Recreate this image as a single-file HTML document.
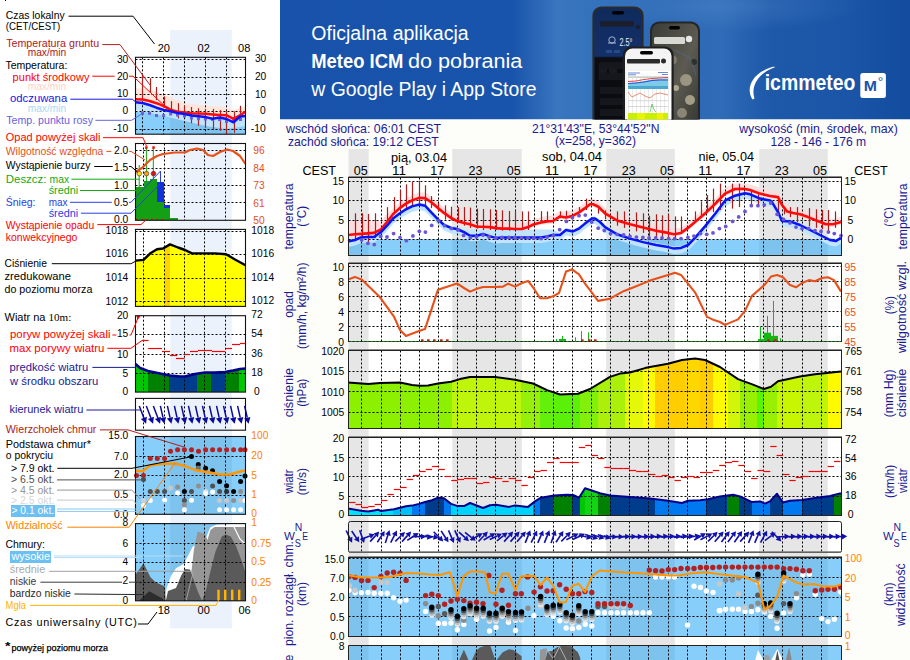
<!DOCTYPE html>
<html><head><meta charset="utf-8"><title>Meteogram</title>
<style>html,body{margin:0;padding:0;background:#fdfdf9;overflow:hidden;}svg{display:block;}</style>
</head><body>
<svg width="910" height="660" viewBox="0 0 910 660">
<rect x="0.00" y="0.00" width="910.00" height="660.00" fill="#fdfdf9"/>
<rect x="0.00" y="0.00" width="280.00" height="660.00" fill="#ffffff"/>
<rect x="170.20" y="30.00" width="61.60" height="598.40" fill="#ecf2fc"/>
<rect x="135.50" y="57.30" width="34.70" height="76.90" fill="#ffffff"/>
<rect x="231.80" y="57.30" width="13.70" height="76.90" fill="#ffffff"/>
<rect x="135.50" y="143.50" width="34.70" height="76.80" fill="#ffffff"/>
<rect x="231.80" y="143.50" width="13.70" height="76.80" fill="#ffffff"/>
<rect x="135.50" y="229.40" width="34.70" height="77.00" fill="#ffffff"/>
<rect x="231.80" y="229.40" width="13.70" height="77.00" fill="#ffffff"/>
<rect x="135.50" y="315.70" width="34.70" height="76.40" fill="#ffffff"/>
<rect x="231.80" y="315.70" width="13.70" height="76.40" fill="#ffffff"/>
<rect x="135.50" y="398.40" width="34.70" height="31.60" fill="#ffffff"/>
<rect x="231.80" y="398.40" width="13.70" height="31.60" fill="#ffffff"/>
<text x="5.8" y="19.0" font-size="11" fill="#000" textLength="58.8" lengthAdjust="spacingAndGlyphs" text-anchor="start" font-family="'Liberation Sans', Arial, sans-serif">Czas lokalny</text>
<text x="6.2" y="46.6" font-size="11" fill="#b02020" textLength="93.0" lengthAdjust="spacingAndGlyphs" text-anchor="start" font-family="'Liberation Sans', Arial, sans-serif">Temperatura gruntu</text>
<text x="27.7" y="56.2" font-size="11" fill="#b02020" textLength="38.5" lengthAdjust="spacingAndGlyphs" text-anchor="start" font-family="'Liberation Sans', Arial, sans-serif">max/min</text>
<text x="5.4" y="68.5" font-size="11" fill="#000" textLength="62.0" lengthAdjust="spacingAndGlyphs" text-anchor="start" font-family="'Liberation Sans', Arial, sans-serif">Temperatura:</text>
<text x="12.6" y="80.5" font-size="11" fill="#ff0000" textLength="76.9" lengthAdjust="spacingAndGlyphs" text-anchor="start" font-family="'Liberation Sans', Arial, sans-serif">punkt środkowy</text>
<text x="27.7" y="90.3" font-size="11" fill="#ffd2c8" textLength="38.5" lengthAdjust="spacingAndGlyphs" text-anchor="start" font-family="'Liberation Sans', Arial, sans-serif">max/min</text>
<text x="10.0" y="102.3" font-size="11" fill="#1414e6" textLength="57.2" lengthAdjust="spacingAndGlyphs" text-anchor="start" font-family="'Liberation Sans', Arial, sans-serif">odczuwana</text>
<text x="27.7" y="112.3" font-size="11" fill="#aad7f5" textLength="38.5" lengthAdjust="spacingAndGlyphs" text-anchor="start" font-family="'Liberation Sans', Arial, sans-serif">max/min</text>
<text x="6.2" y="123.9" font-size="11" fill="#6464dc" textLength="86.8" lengthAdjust="spacingAndGlyphs" text-anchor="start" font-family="'Liberation Sans', Arial, sans-serif">Temp. punktu rosy</text>
<text x="5.8" y="141.3" font-size="11" fill="#ff0000" textLength="94.6" lengthAdjust="spacingAndGlyphs" text-anchor="start" font-family="'Liberation Sans', Arial, sans-serif">Opad powyżej skali</text>
<text x="5.8" y="154.9" font-size="11" fill="#e6501a" textLength="97.5" lengthAdjust="spacingAndGlyphs" text-anchor="start" font-family="'Liberation Sans', Arial, sans-serif">Wilgotność względna</text>
<text x="5.8" y="169.4" font-size="11" fill="#000" textLength="84.7" lengthAdjust="spacingAndGlyphs" text-anchor="start" font-family="'Liberation Sans', Arial, sans-serif">Wystąpienie burzy</text>
<text x="5.8" y="183.1" font-size="11" fill="#14aa14" textLength="40.6" lengthAdjust="spacingAndGlyphs" text-anchor="start" font-family="'Liberation Sans', Arial, sans-serif">Deszcz:</text>
<text x="49.5" y="183.1" font-size="11" fill="#14aa14" textLength="19.6" lengthAdjust="spacingAndGlyphs" text-anchor="start" font-family="'Liberation Sans', Arial, sans-serif">max</text>
<text x="48.7" y="194.0" font-size="11" fill="#14aa14" textLength="29.5" lengthAdjust="spacingAndGlyphs" text-anchor="start" font-family="'Liberation Sans', Arial, sans-serif">średni</text>
<text x="5.8" y="205.8" font-size="11" fill="#2840e6" textLength="29.7" lengthAdjust="spacingAndGlyphs" text-anchor="start" font-family="'Liberation Sans', Arial, sans-serif">Śnieg:</text>
<text x="48.7" y="205.8" font-size="11" fill="#2840e6" textLength="18.9" lengthAdjust="spacingAndGlyphs" text-anchor="start" font-family="'Liberation Sans', Arial, sans-serif">max</text>
<text x="48.7" y="216.7" font-size="11" fill="#2840e6" textLength="29.5" lengthAdjust="spacingAndGlyphs" text-anchor="start" font-family="'Liberation Sans', Arial, sans-serif">średni</text>
<text x="5.8" y="228.5" font-size="11" fill="#ff0000" textLength="88.4" lengthAdjust="spacingAndGlyphs" text-anchor="start" font-family="'Liberation Sans', Arial, sans-serif">Wystąpienie opadu</text>
<text x="5.8" y="241.3" font-size="11" fill="#ff0000" textLength="71.5" lengthAdjust="spacingAndGlyphs" text-anchor="start" font-family="'Liberation Sans', Arial, sans-serif">konwekcyjnego</text>
<text x="4.5" y="267.3" font-size="11" fill="#000" textLength="42.4" lengthAdjust="spacingAndGlyphs" text-anchor="start" font-family="'Liberation Sans', Arial, sans-serif">Ciśnienie</text>
<text x="4.5" y="280.0" font-size="11" fill="#000" textLength="66.4" lengthAdjust="spacingAndGlyphs" text-anchor="start" font-family="'Liberation Sans', Arial, sans-serif">zredukowane</text>
<text x="4.5" y="292.7" font-size="11" fill="#000" textLength="87.9" lengthAdjust="spacingAndGlyphs" text-anchor="start" font-family="'Liberation Sans', Arial, sans-serif">do poziomu morza</text>
<text x="10.0" y="338.2" font-size="11" fill="#ff0000" textLength="100.5" lengthAdjust="spacingAndGlyphs" text-anchor="start" font-family="'Liberation Sans', Arial, sans-serif">poryw powyżej skali</text>
<text x="9.5" y="352.2" font-size="11" fill="#ff0000" textLength="95.0" lengthAdjust="spacingAndGlyphs" text-anchor="start" font-family="'Liberation Sans', Arial, sans-serif">max porywy wiatru</text>
<text x="9.5" y="371.3" font-size="11" fill="#1a1a96" textLength="78.7" lengthAdjust="spacingAndGlyphs" text-anchor="start" font-family="'Liberation Sans', Arial, sans-serif">prędkość wiatru</text>
<text x="10.0" y="385.3" font-size="11" fill="#1a1a96" textLength="88.2" lengthAdjust="spacingAndGlyphs" text-anchor="start" font-family="'Liberation Sans', Arial, sans-serif">w środku obszaru</text>
<text x="9.5" y="413.1" font-size="11" fill="#1a1a96" textLength="73.8" lengthAdjust="spacingAndGlyphs" text-anchor="start" font-family="'Liberation Sans', Arial, sans-serif">kierunek wiatru</text>
<text x="5.8" y="433.1" font-size="11" fill="#b02020" textLength="90.6" lengthAdjust="spacingAndGlyphs" text-anchor="start" font-family="'Liberation Sans', Arial, sans-serif">Wierzchołek chmur</text>
<text x="5.8" y="448.0" font-size="11" fill="#000" textLength="85.1" lengthAdjust="spacingAndGlyphs" text-anchor="start" font-family="'Liberation Sans', Arial, sans-serif">Podstawa chmur*</text>
<text x="5.8" y="459.4" font-size="11" fill="#000" textLength="47.3" lengthAdjust="spacingAndGlyphs" text-anchor="start" font-family="'Liberation Sans', Arial, sans-serif">o pokryciu</text>
<text x="10.9" y="472.2" font-size="11" fill="#000" textLength="43.6" lengthAdjust="spacingAndGlyphs" text-anchor="start" font-family="'Liberation Sans', Arial, sans-serif">&gt; 7.9 okt.</text>
<text x="10.9" y="483.1" font-size="11" fill="#505050" textLength="43.6" lengthAdjust="spacingAndGlyphs" text-anchor="start" font-family="'Liberation Sans', Arial, sans-serif">&gt; 6.5 okt.</text>
<text x="10.9" y="494.0" font-size="11" fill="#969696" textLength="43.6" lengthAdjust="spacingAndGlyphs" text-anchor="start" font-family="'Liberation Sans', Arial, sans-serif">&gt; 4.5 okt.</text>
<text x="10.9" y="504.0" font-size="11" fill="#d7d7d7" textLength="43.6" lengthAdjust="spacingAndGlyphs" text-anchor="start" font-family="'Liberation Sans', Arial, sans-serif">&gt; 2.5 okt.</text>
<text x="5.8" y="529.4" font-size="11" fill="#ff8200" textLength="56.9" lengthAdjust="spacingAndGlyphs" text-anchor="start" font-family="'Liberation Sans', Arial, sans-serif">Widzialność</text>
<text x="5.5" y="547.5" font-size="11" fill="#000" textLength="39.4" lengthAdjust="spacingAndGlyphs" text-anchor="start" font-family="'Liberation Sans', Arial, sans-serif">Chmury:</text>
<text x="9.8" y="573.1" font-size="11" fill="#aaaaaa" textLength="35.5" lengthAdjust="spacingAndGlyphs" text-anchor="start" font-family="'Liberation Sans', Arial, sans-serif">średnie</text>
<text x="9.8" y="584.9" font-size="11" fill="#3c3c3c" textLength="26.6" lengthAdjust="spacingAndGlyphs" text-anchor="start" font-family="'Liberation Sans', Arial, sans-serif">niskie</text>
<text x="9.8" y="596.8" font-size="11" fill="#282828" textLength="61.1" lengthAdjust="spacingAndGlyphs" text-anchor="start" font-family="'Liberation Sans', Arial, sans-serif">bardzo niskie</text>
<text x="5.5" y="609.1" font-size="11" fill="#ffb400" textLength="20.5" lengthAdjust="spacingAndGlyphs" text-anchor="start" font-family="'Liberation Sans', Arial, sans-serif">Mgła</text>
<text x="5.8" y="30" font-size="10.6" fill="#000" textLength="54.5" lengthAdjust="spacingAndGlyphs" font-family="'Liberation Sans', Arial, sans-serif">(CET/CEST)</text>
<rect x="5.00" y="0.00" width="1.00" height="1.00" fill="#000"/>
<text x="4.5" y="321.4" font-size="11" fill="#000" font-family="'Liberation Sans', Arial, sans-serif"><tspan textLength="41" lengthAdjust="spacingAndGlyphs">Wiatr na</tspan><tspan x="48.5" font-family="'Liberation Serif', serif" textLength="22.8" lengthAdjust="spacingAndGlyphs">10m:</tspan></text>
<rect x="11.00" y="505.00" width="44.00" height="12.00" fill="#6cc0f2"/>
<text x="11.5" y="514.1" font-size="11" fill="#fff" textLength="42.6" lengthAdjust="spacingAndGlyphs" text-anchor="start" font-family="'Liberation Sans', Arial, sans-serif">&gt; 0.1 okt.</text>
<rect x="10.00" y="551.00" width="41.00" height="12.00" fill="#6cc0f2"/>
<text x="11.5" y="559.5" font-size="11" fill="#fff" textLength="38.5" lengthAdjust="spacingAndGlyphs" text-anchor="start" font-family="'Liberation Sans', Arial, sans-serif">wysokie</text>
<text x="5.5" y="625.5" font-size="10.8" fill="#000" textLength="131.3" lengthAdjust="spacing" font-family="'Liberation Sans', Arial, sans-serif">Czas uniwersalny (UTC)</text>
<text x="4.9" y="650.0" font-size="10" fill="#000" textLength="5.5" lengthAdjust="spacingAndGlyphs" font-weight="bold" text-anchor="start" font-family="'Liberation Sans', Arial, sans-serif">*</text>
<text x="11.5" y="650.5" font-size="9.6" fill="#000" textLength="96.5" lengthAdjust="spacingAndGlyphs" text-anchor="start" font-family="'Liberation Sans', Arial, sans-serif" stroke="#000" stroke-width="0.25">powyżej poziomu morza</text>
<text x="116.9" y="62.5" font-size="11" fill="#000" textLength="11.4" lengthAdjust="spacingAndGlyphs" text-anchor="start" font-family="'Liberation Sans', Arial, sans-serif">30</text>
<text x="116.9" y="80.3" font-size="11" fill="#000" textLength="11.4" lengthAdjust="spacingAndGlyphs" text-anchor="start" font-family="'Liberation Sans', Arial, sans-serif">20</text>
<text x="116.9" y="97.2" font-size="11" fill="#000" textLength="11.4" lengthAdjust="spacingAndGlyphs" text-anchor="start" font-family="'Liberation Sans', Arial, sans-serif">10</text>
<text x="122.6" y="114.2" font-size="11" fill="#000" textLength="5.7" lengthAdjust="spacingAndGlyphs" text-anchor="start" font-family="'Liberation Sans', Arial, sans-serif">0</text>
<text x="113.3" y="132.3" font-size="11" fill="#000" textLength="15.0" lengthAdjust="spacingAndGlyphs" text-anchor="start" font-family="'Liberation Sans', Arial, sans-serif">-10</text>
<text x="114.0" y="154.1" font-size="11" fill="#000" textLength="14.3" lengthAdjust="spacingAndGlyphs" text-anchor="start" font-family="'Liberation Sans', Arial, sans-serif">2.0</text>
<text x="114.0" y="171.4" font-size="11" fill="#000" textLength="14.3" lengthAdjust="spacingAndGlyphs" text-anchor="start" font-family="'Liberation Sans', Arial, sans-serif">1.5</text>
<text x="114.0" y="188.6" font-size="11" fill="#000" textLength="14.3" lengthAdjust="spacingAndGlyphs" text-anchor="start" font-family="'Liberation Sans', Arial, sans-serif">1.0</text>
<text x="114.0" y="205.9" font-size="11" fill="#000" textLength="14.3" lengthAdjust="spacingAndGlyphs" text-anchor="start" font-family="'Liberation Sans', Arial, sans-serif">0.5</text>
<text x="114.0" y="223.2" font-size="11" fill="#000" textLength="14.3" lengthAdjust="spacingAndGlyphs" text-anchor="start" font-family="'Liberation Sans', Arial, sans-serif">0.0</text>
<text x="105.5" y="233.9" font-size="11" fill="#000" textLength="22.8" lengthAdjust="spacingAndGlyphs" text-anchor="start" font-family="'Liberation Sans', Arial, sans-serif">1018</text>
<text x="105.5" y="257.4" font-size="11" fill="#000" textLength="22.8" lengthAdjust="spacingAndGlyphs" text-anchor="start" font-family="'Liberation Sans', Arial, sans-serif">1016</text>
<text x="105.5" y="281.4" font-size="11" fill="#000" textLength="22.8" lengthAdjust="spacingAndGlyphs" text-anchor="start" font-family="'Liberation Sans', Arial, sans-serif">1014</text>
<text x="105.5" y="304.6" font-size="11" fill="#000" textLength="22.8" lengthAdjust="spacingAndGlyphs" text-anchor="start" font-family="'Liberation Sans', Arial, sans-serif">1012</text>
<text x="116.9" y="318.6" font-size="11" fill="#000" textLength="11.4" lengthAdjust="spacingAndGlyphs" text-anchor="start" font-family="'Liberation Sans', Arial, sans-serif">20</text>
<text x="116.9" y="337.4" font-size="11" fill="#000" textLength="11.4" lengthAdjust="spacingAndGlyphs" text-anchor="start" font-family="'Liberation Sans', Arial, sans-serif">15</text>
<text x="116.9" y="357.7" font-size="11" fill="#000" textLength="11.4" lengthAdjust="spacingAndGlyphs" text-anchor="start" font-family="'Liberation Sans', Arial, sans-serif">10</text>
<text x="122.6" y="376.5" font-size="11" fill="#000" textLength="5.7" lengthAdjust="spacingAndGlyphs" text-anchor="start" font-family="'Liberation Sans', Arial, sans-serif">5</text>
<text x="122.6" y="395.0" font-size="11" fill="#000" textLength="5.7" lengthAdjust="spacingAndGlyphs" text-anchor="start" font-family="'Liberation Sans', Arial, sans-serif">0</text>
<text x="108.3" y="439.2" font-size="11" fill="#000" textLength="20.0" lengthAdjust="spacingAndGlyphs" text-anchor="start" font-family="'Liberation Sans', Arial, sans-serif">15.0</text>
<text x="114.0" y="459.5" font-size="11" fill="#000" textLength="14.3" lengthAdjust="spacingAndGlyphs" text-anchor="start" font-family="'Liberation Sans', Arial, sans-serif">7.0</text>
<text x="114.0" y="478.3" font-size="11" fill="#000" textLength="14.3" lengthAdjust="spacingAndGlyphs" text-anchor="start" font-family="'Liberation Sans', Arial, sans-serif">2.0</text>
<text x="114.0" y="497.7" font-size="11" fill="#000" textLength="14.3" lengthAdjust="spacingAndGlyphs" text-anchor="start" font-family="'Liberation Sans', Arial, sans-serif">0.5</text>
<text x="114.0" y="517.7" font-size="11" fill="#000" textLength="14.3" lengthAdjust="spacingAndGlyphs" text-anchor="start" font-family="'Liberation Sans', Arial, sans-serif">0.0</text>
<text x="122.6" y="525.9" font-size="11" fill="#000" textLength="5.7" lengthAdjust="spacingAndGlyphs" text-anchor="start" font-family="'Liberation Sans', Arial, sans-serif">8</text>
<text x="122.6" y="546.7" font-size="11" fill="#000" textLength="5.7" lengthAdjust="spacingAndGlyphs" text-anchor="start" font-family="'Liberation Sans', Arial, sans-serif">6</text>
<text x="122.6" y="565.4" font-size="11" fill="#000" textLength="5.7" lengthAdjust="spacingAndGlyphs" text-anchor="start" font-family="'Liberation Sans', Arial, sans-serif">4</text>
<text x="122.6" y="584.1" font-size="11" fill="#000" textLength="5.7" lengthAdjust="spacingAndGlyphs" text-anchor="start" font-family="'Liberation Sans', Arial, sans-serif">2</text>
<text x="122.6" y="604.4" font-size="11" fill="#000" textLength="5.7" lengthAdjust="spacingAndGlyphs" text-anchor="start" font-family="'Liberation Sans', Arial, sans-serif">0</text>
<text x="254.9" y="62.2" font-size="11" fill="#000" textLength="11.4" lengthAdjust="spacingAndGlyphs" text-anchor="start" font-family="'Liberation Sans', Arial, sans-serif">30</text>
<text x="254.9" y="80.3" font-size="11" fill="#000" textLength="11.4" lengthAdjust="spacingAndGlyphs" text-anchor="start" font-family="'Liberation Sans', Arial, sans-serif">20</text>
<text x="254.9" y="97.6" font-size="11" fill="#000" textLength="11.4" lengthAdjust="spacingAndGlyphs" text-anchor="start" font-family="'Liberation Sans', Arial, sans-serif">10</text>
<text x="259.9" y="114.4" font-size="11" fill="#000" textLength="5.7" lengthAdjust="spacingAndGlyphs" text-anchor="start" font-family="'Liberation Sans', Arial, sans-serif">0</text>
<text x="250.8" y="132.2" font-size="11" fill="#000" textLength="15.0" lengthAdjust="spacingAndGlyphs" text-anchor="start" font-family="'Liberation Sans', Arial, sans-serif">-10</text>
<text x="253.3" y="153.9" font-size="11" fill="#e6501a" textLength="11.4" lengthAdjust="spacingAndGlyphs" text-anchor="start" font-family="'Liberation Sans', Arial, sans-serif">96</text>
<text x="253.3" y="171.5" font-size="11" fill="#e6501a" textLength="11.4" lengthAdjust="spacingAndGlyphs" text-anchor="start" font-family="'Liberation Sans', Arial, sans-serif">84</text>
<text x="253.3" y="189.0" font-size="11" fill="#e6501a" textLength="11.4" lengthAdjust="spacingAndGlyphs" text-anchor="start" font-family="'Liberation Sans', Arial, sans-serif">73</text>
<text x="253.3" y="206.6" font-size="11" fill="#e6501a" textLength="11.4" lengthAdjust="spacingAndGlyphs" text-anchor="start" font-family="'Liberation Sans', Arial, sans-serif">61</text>
<text x="253.3" y="224.0" font-size="11" fill="#e6501a" textLength="11.4" lengthAdjust="spacingAndGlyphs" text-anchor="start" font-family="'Liberation Sans', Arial, sans-serif">50</text>
<text x="251.3" y="234.4" font-size="11" fill="#000" textLength="22.8" lengthAdjust="spacingAndGlyphs" text-anchor="start" font-family="'Liberation Sans', Arial, sans-serif">1018</text>
<text x="251.3" y="257.4" font-size="11" fill="#000" textLength="22.8" lengthAdjust="spacingAndGlyphs" text-anchor="start" font-family="'Liberation Sans', Arial, sans-serif">1016</text>
<text x="251.3" y="281.3" font-size="11" fill="#000" textLength="22.8" lengthAdjust="spacingAndGlyphs" text-anchor="start" font-family="'Liberation Sans', Arial, sans-serif">1014</text>
<text x="251.3" y="304.4" font-size="11" fill="#000" textLength="22.8" lengthAdjust="spacingAndGlyphs" text-anchor="start" font-family="'Liberation Sans', Arial, sans-serif">1012</text>
<text x="251.3" y="318.2" font-size="11" fill="#000" textLength="11.4" lengthAdjust="spacingAndGlyphs" text-anchor="start" font-family="'Liberation Sans', Arial, sans-serif">72</text>
<text x="251.3" y="337.2" font-size="11" fill="#000" textLength="11.4" lengthAdjust="spacingAndGlyphs" text-anchor="start" font-family="'Liberation Sans', Arial, sans-serif">54</text>
<text x="251.3" y="357.0" font-size="11" fill="#000" textLength="11.4" lengthAdjust="spacingAndGlyphs" text-anchor="start" font-family="'Liberation Sans', Arial, sans-serif">36</text>
<text x="251.3" y="375.9" font-size="11" fill="#000" textLength="11.4" lengthAdjust="spacingAndGlyphs" text-anchor="start" font-family="'Liberation Sans', Arial, sans-serif">18</text>
<text x="254.0" y="394.9" font-size="11" fill="#000" textLength="5.7" lengthAdjust="spacingAndGlyphs" text-anchor="start" font-family="'Liberation Sans', Arial, sans-serif">0</text>
<text x="251.3" y="439.4" font-size="11" fill="#ff8200" textLength="17.1" lengthAdjust="spacingAndGlyphs" text-anchor="start" font-family="'Liberation Sans', Arial, sans-serif">100</text>
<text x="251.3" y="459.2" font-size="11" fill="#ff8200" textLength="11.4" lengthAdjust="spacingAndGlyphs" text-anchor="start" font-family="'Liberation Sans', Arial, sans-serif">20</text>
<text x="251.3" y="478.7" font-size="11" fill="#ff8200" textLength="5.7" lengthAdjust="spacingAndGlyphs" text-anchor="start" font-family="'Liberation Sans', Arial, sans-serif">5</text>
<text x="251.3" y="498.1" font-size="11" fill="#ff8200" textLength="5.7" lengthAdjust="spacingAndGlyphs" text-anchor="start" font-family="'Liberation Sans', Arial, sans-serif">1</text>
<text x="251.3" y="517.0" font-size="11" fill="#ff8200" textLength="5.7" lengthAdjust="spacingAndGlyphs" text-anchor="start" font-family="'Liberation Sans', Arial, sans-serif">0</text>
<text x="251.3" y="526.2" font-size="11" fill="#ff8200" textLength="5.7" lengthAdjust="spacingAndGlyphs" text-anchor="start" font-family="'Liberation Sans', Arial, sans-serif">1</text>
<text x="251.3" y="546.8" font-size="11" fill="#ff8200" textLength="20.0" lengthAdjust="spacingAndGlyphs" text-anchor="start" font-family="'Liberation Sans', Arial, sans-serif">0.75</text>
<text x="251.3" y="564.9" font-size="11" fill="#ff8200" textLength="14.3" lengthAdjust="spacingAndGlyphs" text-anchor="start" font-family="'Liberation Sans', Arial, sans-serif">0.5</text>
<text x="251.3" y="585.5" font-size="11" fill="#ff8200" textLength="20.0" lengthAdjust="spacingAndGlyphs" text-anchor="start" font-family="'Liberation Sans', Arial, sans-serif">0.25</text>
<text x="251.3" y="604.2" font-size="11" fill="#ff8200" textLength="5.7" lengthAdjust="spacingAndGlyphs" text-anchor="start" font-family="'Liberation Sans', Arial, sans-serif">0</text>
<text x="157.7" y="51.5" font-size="11.6" fill="#000" textLength="12.3" lengthAdjust="spacingAndGlyphs" text-anchor="start" font-family="'Liberation Sans', Arial, sans-serif">20</text>
<text x="197.6" y="51.5" font-size="11.6" fill="#000" textLength="12.3" lengthAdjust="spacingAndGlyphs" text-anchor="start" font-family="'Liberation Sans', Arial, sans-serif">02</text>
<text x="238.1" y="51.5" font-size="11.6" fill="#000" textLength="12.3" lengthAdjust="spacingAndGlyphs" text-anchor="start" font-family="'Liberation Sans', Arial, sans-serif">08</text>
<text x="157.7" y="614.4" font-size="11.6" fill="#000" textLength="12.3" lengthAdjust="spacingAndGlyphs" text-anchor="start" font-family="'Liberation Sans', Arial, sans-serif">18</text>
<text x="197.6" y="614.4" font-size="11.6" fill="#000" textLength="12.3" lengthAdjust="spacingAndGlyphs" text-anchor="start" font-family="'Liberation Sans', Arial, sans-serif">00</text>
<text x="238.4" y="614.4" font-size="11.6" fill="#000" textLength="12.3" lengthAdjust="spacingAndGlyphs" text-anchor="start" font-family="'Liberation Sans', Arial, sans-serif">06</text>
<rect x="135.50" y="111.60" width="110.00" height="22.60" fill="#87cefa"/>
<rect x="170.2" y="111.6" width="61.6" height="22.599999999999994" fill="#7ec2ee"/>
<polygon points="135.5,88.2 149.5,89.0 163.8,94.6 184.8,103.0 205.7,105.5 226.7,107.0 233.5,110.0 245.5,106.0 245.5,115.8 240.0,119.3 233.5,122.8 226.7,119.3 219.5,118.9 212.5,118.4 205.7,117.8 198.5,117.5 191.5,117.3 184.8,116.5 177.5,115.8 170.5,113.6 163.8,110.2 156.5,107.2 149.5,105.0 142.5,103.5 135.5,103.2" fill="#ffe6dc"/>
<polygon points="135.5,101.3 142.5,102.0 149.5,104.0 156.5,106.7 163.8,109.0 170.5,110.3 177.5,112.1 184.8,113.0 191.5,114.5 198.5,115.3 205.7,116.1 212.5,117.7 219.5,116.5 226.7,118.0 233.5,121.3 240.0,115.5 245.5,115.0 245.5,126.0 226.7,129.0 205.7,126.0 184.8,121.0 163.8,116.0 135.5,110.0" fill="#bfe4fb"/>
<line x1="135.5" y1="59.5" x2="245.5" y2="59.5" stroke="#000" stroke-width="1" stroke-dasharray="2,2"/>
<line x1="135.5" y1="77.5" x2="245.5" y2="77.5" stroke="#000" stroke-width="1" stroke-dasharray="2,2"/>
<line x1="135.5" y1="94.5" x2="245.5" y2="94.5" stroke="#000" stroke-width="1" stroke-dasharray="2,2"/>
<line x1="135.5" y1="111.5" x2="245.5" y2="111.5" stroke="#000" stroke-width="1" stroke-dasharray="2,2"/>
<line x1="135.5" y1="129.5" x2="245.5" y2="129.5" stroke="#000" stroke-width="1" stroke-dasharray="2,2"/>
<line x1="142.5" y1="57.3" x2="142.5" y2="134.2" stroke="#000" stroke-width="1" stroke-dasharray="2,2"/>
<line x1="163.5" y1="57.3" x2="163.5" y2="134.2" stroke="#000" stroke-width="1" stroke-dasharray="2,2"/>
<line x1="184.5" y1="57.3" x2="184.5" y2="134.2" stroke="#000" stroke-width="1" stroke-dasharray="2,2"/>
<line x1="205.5" y1="57.3" x2="205.5" y2="134.2" stroke="#000" stroke-width="1" stroke-dasharray="2,2"/>
<line x1="226.5" y1="57.3" x2="226.5" y2="134.2" stroke="#000" stroke-width="1" stroke-dasharray="2,2"/>
<line x1="142.50" y1="73.80" x2="142.50" y2="98.90" stroke="#b02020" stroke-width="1.2"/>
<line x1="150.50" y1="78.20" x2="150.50" y2="92.60" stroke="#b02020" stroke-width="1.2"/>
<line x1="156.50" y1="87.00" x2="156.50" y2="100.10" stroke="#b02020" stroke-width="1.2"/>
<line x1="164.50" y1="96.40" x2="164.50" y2="107.60" stroke="#b02020" stroke-width="1.2"/>
<line x1="171.50" y1="101.10" x2="171.50" y2="114.50" stroke="#b02020" stroke-width="1.2"/>
<line x1="178.50" y1="103.20" x2="178.50" y2="118.30" stroke="#b02020" stroke-width="1.2"/>
<line x1="184.50" y1="105.80" x2="184.50" y2="116.40" stroke="#b02020" stroke-width="1.2"/>
<line x1="191.50" y1="107.00" x2="191.50" y2="123.30" stroke="#b02020" stroke-width="1.2"/>
<line x1="198.50" y1="108.30" x2="198.50" y2="125.80" stroke="#b02020" stroke-width="1.2"/>
<line x1="205.50" y1="108.90" x2="205.50" y2="127.70" stroke="#b02020" stroke-width="1.2"/>
<line x1="213.50" y1="108.90" x2="213.50" y2="130.20" stroke="#b02020" stroke-width="1.2"/>
<line x1="220.50" y1="110.10" x2="220.50" y2="130.80" stroke="#b02020" stroke-width="1.2"/>
<line x1="226.50" y1="111.40" x2="226.50" y2="134.00" stroke="#b02020" stroke-width="1.2"/>
<line x1="234.50" y1="111.40" x2="234.50" y2="132.70" stroke="#b02020" stroke-width="1.2"/>
<line x1="240.50" y1="105.80" x2="240.50" y2="120.80" stroke="#b02020" stroke-width="1.2"/>
<rect x="141.00" y="111.80" width="3.00" height="3.00" fill="#7060d8"/>
<rect x="148.00" y="111.80" width="3.00" height="3.00" fill="#7060d8"/>
<rect x="155.00" y="114.00" width="3.00" height="3.00" fill="#7060d8"/>
<rect x="162.10" y="114.00" width="3.00" height="3.00" fill="#7060d8"/>
<rect x="169.10" y="112.50" width="3.00" height="3.00" fill="#7060d8"/>
<rect x="176.00" y="113.50" width="3.00" height="3.00" fill="#7060d8"/>
<rect x="183.00" y="114.50" width="3.00" height="3.00" fill="#7060d8"/>
<rect x="189.90" y="116.50" width="3.00" height="3.00" fill="#7060d8"/>
<rect x="197.00" y="117.20" width="3.00" height="3.00" fill="#7060d8"/>
<rect x="203.90" y="117.50" width="3.00" height="3.00" fill="#7060d8"/>
<rect x="211.10" y="118.00" width="3.00" height="3.00" fill="#7060d8"/>
<rect x="218.10" y="118.00" width="3.00" height="3.00" fill="#7060d8"/>
<rect x="225.00" y="120.00" width="3.00" height="3.00" fill="#7060d8"/>
<rect x="232.10" y="119.50" width="3.00" height="3.00" fill="#7060d8"/>
<rect x="239.00" y="118.00" width="3.00" height="3.00" fill="#7060d8"/>
<polyline points="135.5,99.2 142.5,99.5 149.5,101.0 156.5,103.2 163.8,106.2 170.5,109.6 177.5,111.8 184.8,112.5 191.5,113.3 198.5,113.5 205.7,113.8 212.5,114.4 219.5,114.9 226.7,115.3 233.5,118.8 240.0,115.3 245.5,111.8" fill="none" stroke="#ff0a0a" stroke-width="2.5" stroke-linejoin="round"/>
<polyline points="135.5,102.3 142.5,103.0 149.5,105.0 156.5,107.7 163.8,110.0 170.5,111.3 177.5,113.1 184.8,114.0 191.5,115.5 198.5,116.3 205.7,117.1 212.5,118.7 219.5,117.5 226.7,119.0 233.5,122.3 240.0,116.5 245.5,116.0" fill="none" stroke="#0a14f5" stroke-width="2.5" stroke-linejoin="round"/>
<rect x="135.5" y="57.3" width="110.0" height="76.89999999999999" fill="none" stroke="#111" stroke-width="1.1"/>
<line x1="135.5" y1="150.5" x2="245.5" y2="150.5" stroke="#000" stroke-width="1" stroke-dasharray="2,2"/>
<line x1="135.5" y1="168.5" x2="245.5" y2="168.5" stroke="#000" stroke-width="1" stroke-dasharray="2,2"/>
<line x1="135.5" y1="185.5" x2="245.5" y2="185.5" stroke="#000" stroke-width="1" stroke-dasharray="2,2"/>
<line x1="135.5" y1="202.5" x2="245.5" y2="202.5" stroke="#000" stroke-width="1" stroke-dasharray="2,2"/>
<line x1="143.5" y1="143.5" x2="143.5" y2="220.3" stroke="#000" stroke-width="1" stroke-dasharray="2,2"/>
<line x1="164.5" y1="143.5" x2="164.5" y2="220.3" stroke="#000" stroke-width="1" stroke-dasharray="2,2"/>
<line x1="184.5" y1="143.5" x2="184.5" y2="220.3" stroke="#000" stroke-width="1" stroke-dasharray="2,2"/>
<line x1="204.5" y1="143.5" x2="204.5" y2="220.3" stroke="#000" stroke-width="1" stroke-dasharray="2,2"/>
<line x1="225.5" y1="143.5" x2="225.5" y2="220.3" stroke="#000" stroke-width="1" stroke-dasharray="2,2"/>
<rect x="136.00" y="187.00" width="8.00" height="33.00" fill="#14a014" shape-rendering="crispEdges"/>
<rect x="144.00" y="181.00" width="13.00" height="39.00" fill="#14a014" shape-rendering="crispEdges"/>
<rect x="150.00" y="179.00" width="7.00" height="41.00" fill="#14a014" shape-rendering="crispEdges"/>
<rect x="157.00" y="202.00" width="7.00" height="18.00" fill="#14a014" shape-rendering="crispEdges"/>
<rect x="164.00" y="208.00" width="6.00" height="12.00" fill="#14a014" shape-rendering="crispEdges"/>
<rect x="170.00" y="218.00" width="8.00" height="2.00" fill="#14a014" shape-rendering="crispEdges"/>
<rect x="157.00" y="182.00" width="7.00" height="20.00" fill="#1432dc" shape-rendering="crispEdges"/>
<rect x="164.00" y="205.00" width="6.00" height="3.00" fill="#1432dc" shape-rendering="crispEdges"/>
<line x1="139.20" y1="165.00" x2="139.20" y2="187.00" stroke="#14a014" stroke-width="1"/>
<line x1="146.40" y1="148.00" x2="146.40" y2="181.00" stroke="#14a014" stroke-width="1"/>
<line x1="153.30" y1="148.00" x2="153.30" y2="179.00" stroke="#14a014" stroke-width="1"/>
<rect x="145.10" y="146.30" width="2.50" height="2.50" fill="#ff0000"/>
<rect x="152.30" y="146.30" width="2.50" height="2.50" fill="#ff0000"/>
<line x1="136" y1="219.5" x2="166" y2="219.5" stroke="#ff0000" stroke-width="1" stroke-dasharray="2,3"/>
<circle cx="139.3" cy="173.6" r="2.3" fill="#ffe000" stroke="#333" stroke-width="0.6"/>
<circle cx="146.5" cy="173.6" r="2.3" fill="#ffa000" stroke="#333" stroke-width="0.6"/>
<circle cx="153.5" cy="173.6" r="2.3" fill="#e01010" stroke="#333" stroke-width="0.6"/>
<polyline points="135.5,172.0 142.0,168.0 150.0,160.0 157.0,156.0 163.0,154.0 175.0,152.5 185.0,152.5 190.0,150.0 197.0,148.5 203.0,150.0 208.0,155.0 213.0,156.0 220.0,152.0 227.0,149.5 233.0,151.0 240.0,156.0 245.5,164.0" fill="none" stroke="#e8501a" stroke-width="2.2" stroke-linejoin="round"/>
<rect x="135.5" y="143.5" width="110.0" height="76.80000000000001" fill="none" stroke="#111" stroke-width="1.1"/>
<polygon points="135.5,260.6 143.5,259.9 150.0,253.6 157.0,249.2 163.0,248.5 170.0,244.4 178.0,247.5 185.0,250.0 192.0,253.4 200.0,253.4 215.0,253.4 226.0,254.2 235.0,259.5 245.5,265.2 245.5,306.4 135.5,306.4" fill="#ffff00"/>
<clipPath id="mpclip"><polygon points="135.5,260.6 143.5,259.9 150,253.6 157,249.2 163,248.5 170,244.4 178,247.5 185,250 192,253.4 200,253.4 215,253.4 226,254.2 235,259.5 245.5,265.2 245.5,306.4 135.5,306.4"/></clipPath>
<g clip-path="url(#mpclip)">
<rect x="164.60" y="229.40" width="5.40" height="77.00" fill="#ffd200"/>
</g>
<line x1="135.5" y1="231.5" x2="245.5" y2="231.5" stroke="#000" stroke-width="1" stroke-dasharray="2,2"/>
<line x1="135.5" y1="254.5" x2="245.5" y2="254.5" stroke="#000" stroke-width="1" stroke-dasharray="2,2"/>
<line x1="135.5" y1="278.5" x2="245.5" y2="278.5" stroke="#000" stroke-width="1" stroke-dasharray="2,2"/>
<line x1="135.5" y1="301.5" x2="245.5" y2="301.5" stroke="#000" stroke-width="1" stroke-dasharray="2,2"/>
<line x1="143.5" y1="229.4" x2="143.5" y2="306.4" stroke="#000" stroke-width="1" stroke-dasharray="2,2"/>
<line x1="164.5" y1="229.4" x2="164.5" y2="306.4" stroke="#000" stroke-width="1" stroke-dasharray="2,2"/>
<line x1="184.5" y1="229.4" x2="184.5" y2="306.4" stroke="#000" stroke-width="1" stroke-dasharray="2,2"/>
<line x1="204.5" y1="229.4" x2="204.5" y2="306.4" stroke="#000" stroke-width="1" stroke-dasharray="2,2"/>
<line x1="225.5" y1="229.4" x2="225.5" y2="306.4" stroke="#000" stroke-width="1" stroke-dasharray="2,2"/>
<polyline points="135.5,260.6 143.5,259.9 150.0,253.6 157.0,249.2 163.0,248.5 170.0,244.4 178.0,247.5 185.0,250.0 192.0,253.4 200.0,253.4 215.0,253.4 226.0,254.2 235.0,259.5 245.5,265.2" fill="none" stroke="#000" stroke-width="2.4" stroke-linejoin="round"/>
<rect x="135.5" y="229.4" width="110.0" height="76.99999999999997" fill="none" stroke="#111" stroke-width="1.1"/>
<clipPath id="mwclip"><polygon points="135.5,364 140,368 148,371 160,373.5 170,375.5 180,376.5 185,376.5 195,374 205,372.5 215,372.5 225,372 233,370.5 240,369 245.5,368.5 245.5,392.1 135.5,392.1"/></clipPath>
<g clip-path="url(#mwclip)">
<rect x="136.00" y="315.70" width="12.00" height="76.40" fill="#00c800" shape-rendering="crispEdges"/>
<rect x="148.00" y="315.70" width="21.00" height="76.40" fill="#008200" shape-rendering="crispEdges"/>
<rect x="169.00" y="315.70" width="28.00" height="76.40" fill="#003c8c" shape-rendering="crispEdges"/>
<rect x="197.00" y="315.70" width="14.00" height="76.40" fill="#008200" shape-rendering="crispEdges"/>
<rect x="211.00" y="315.70" width="14.00" height="76.40" fill="#003c8c" shape-rendering="crispEdges"/>
<rect x="225.00" y="315.70" width="14.00" height="76.40" fill="#008200" shape-rendering="crispEdges"/>
<rect x="239.00" y="315.70" width="7.00" height="76.40" fill="#00c800" shape-rendering="crispEdges"/>
</g>
<line x1="135.5" y1="334.5" x2="245.5" y2="334.5" stroke="#000" stroke-width="1" stroke-dasharray="2,2"/>
<line x1="135.5" y1="354.5" x2="245.5" y2="354.5" stroke="#000" stroke-width="1" stroke-dasharray="2,2"/>
<line x1="135.5" y1="373.5" x2="245.5" y2="373.5" stroke="#000" stroke-width="1" stroke-dasharray="2,2"/>
<line x1="143.5" y1="315.7" x2="143.5" y2="392.1" stroke="#000" stroke-width="1" stroke-dasharray="2,2"/>
<line x1="164.5" y1="315.7" x2="164.5" y2="392.1" stroke="#000" stroke-width="1" stroke-dasharray="2,2"/>
<line x1="184.5" y1="315.7" x2="184.5" y2="392.1" stroke="#000" stroke-width="1" stroke-dasharray="2,2"/>
<line x1="204.5" y1="315.7" x2="204.5" y2="392.1" stroke="#000" stroke-width="1" stroke-dasharray="2,2"/>
<line x1="225.5" y1="315.7" x2="225.5" y2="392.1" stroke="#000" stroke-width="1" stroke-dasharray="2,2"/>
<line x1="142.00" y1="340.50" x2="148.60" y2="340.50" stroke="#ff0000" stroke-width="1.2"/>
<line x1="148.10" y1="348.50" x2="156.00" y2="348.50" stroke="#ff0000" stroke-width="1.2"/>
<line x1="156.00" y1="348.50" x2="162.00" y2="348.50" stroke="#ff0000" stroke-width="1.2"/>
<line x1="162.00" y1="351.50" x2="170.00" y2="351.50" stroke="#ff0000" stroke-width="1.2"/>
<line x1="170.00" y1="355.50" x2="177.00" y2="355.50" stroke="#ff0000" stroke-width="1.2"/>
<line x1="176.00" y1="358.50" x2="184.50" y2="358.50" stroke="#ff0000" stroke-width="1.2"/>
<line x1="184.50" y1="354.50" x2="190.00" y2="354.50" stroke="#ff0000" stroke-width="1.2"/>
<line x1="190.00" y1="351.50" x2="198.00" y2="351.50" stroke="#ff0000" stroke-width="1.2"/>
<line x1="198.00" y1="350.50" x2="212.00" y2="350.50" stroke="#ff0000" stroke-width="1.2"/>
<line x1="212.00" y1="351.50" x2="225.00" y2="351.50" stroke="#ff0000" stroke-width="1.2"/>
<line x1="226.00" y1="348.50" x2="232.00" y2="348.50" stroke="#ff0000" stroke-width="1.2"/>
<line x1="232.00" y1="344.50" x2="240.00" y2="344.50" stroke="#ff0000" stroke-width="1.2"/>
<line x1="240.00" y1="343.50" x2="245.00" y2="343.50" stroke="#ff0000" stroke-width="1.2"/>
<polyline points="135.5,364.0 140.0,368.0 148.0,371.0 160.0,373.5 170.0,375.5 180.0,376.5 185.0,376.5 195.0,374.0 205.0,372.5 215.0,372.5 225.0,372.0 233.0,370.5 240.0,369.0 245.5,368.5" fill="none" stroke="#00008c" stroke-width="2.6" stroke-linejoin="round"/>
<polygon points="136.5,316.0 140.5,316.0 137.5,320.0" fill="#ff0000"/>
<rect x="135.5" y="315.7" width="110.0" height="76.40000000000003" fill="none" stroke="#111" stroke-width="1.1"/>
<line x1="143.5" y1="398.4" x2="143.5" y2="430.2" stroke="#000" stroke-width="1" stroke-dasharray="2,2"/>
<line x1="164.5" y1="398.4" x2="164.5" y2="430.2" stroke="#000" stroke-width="1" stroke-dasharray="2,2"/>
<line x1="184.5" y1="398.4" x2="184.5" y2="430.2" stroke="#000" stroke-width="1" stroke-dasharray="2,2"/>
<line x1="204.5" y1="398.4" x2="204.5" y2="430.2" stroke="#000" stroke-width="1" stroke-dasharray="2,2"/>
<line x1="225.5" y1="398.4" x2="225.5" y2="430.2" stroke="#000" stroke-width="1" stroke-dasharray="2,2"/>
<line x1="139.30" y1="405.90" x2="143.89" y2="417.91" stroke="#0a0a9c" stroke-width="1.5"/>
<polygon points="146.1,423.7 140.9,419.1 146.9,416.8" fill="#0a0a9c"/>
<line x1="146.32" y1="405.90" x2="150.91" y2="417.91" stroke="#0a0a9c" stroke-width="1.5"/>
<polygon points="153.1,423.7 147.9,419.1 153.9,416.8" fill="#0a0a9c"/>
<line x1="153.34" y1="405.90" x2="157.93" y2="417.91" stroke="#0a0a9c" stroke-width="1.5"/>
<polygon points="160.1,423.7 154.9,419.1 160.9,416.8" fill="#0a0a9c"/>
<line x1="160.36" y1="405.90" x2="163.00" y2="417.65" stroke="#0a0a9c" stroke-width="1.5"/>
<polygon points="164.4,423.7 159.9,418.4 166.1,416.9" fill="#0a0a9c"/>
<line x1="167.38" y1="405.90" x2="170.02" y2="417.65" stroke="#0a0a9c" stroke-width="1.5"/>
<polygon points="171.4,423.7 166.9,418.4 173.1,416.9" fill="#0a0a9c"/>
<line x1="174.40" y1="405.90" x2="177.04" y2="417.65" stroke="#0a0a9c" stroke-width="1.5"/>
<polygon points="178.4,423.7 173.9,418.4 180.2,416.9" fill="#0a0a9c"/>
<line x1="181.42" y1="405.90" x2="184.06" y2="417.65" stroke="#0a0a9c" stroke-width="1.5"/>
<polygon points="185.4,423.7 180.9,418.4 187.2,416.9" fill="#0a0a9c"/>
<line x1="188.44" y1="405.90" x2="191.08" y2="417.65" stroke="#0a0a9c" stroke-width="1.5"/>
<polygon points="192.4,423.7 188.0,418.4 194.2,416.9" fill="#0a0a9c"/>
<line x1="195.46" y1="405.90" x2="198.10" y2="417.65" stroke="#0a0a9c" stroke-width="1.5"/>
<polygon points="199.5,423.7 195.0,418.4 201.2,416.9" fill="#0a0a9c"/>
<line x1="202.48" y1="405.90" x2="205.12" y2="417.65" stroke="#0a0a9c" stroke-width="1.5"/>
<polygon points="206.5,423.7 202.0,418.4 208.2,416.9" fill="#0a0a9c"/>
<line x1="209.50" y1="405.90" x2="212.14" y2="417.65" stroke="#0a0a9c" stroke-width="1.5"/>
<polygon points="213.5,423.7 209.0,418.4 215.3,416.9" fill="#0a0a9c"/>
<line x1="216.52" y1="405.90" x2="219.16" y2="417.65" stroke="#0a0a9c" stroke-width="1.5"/>
<polygon points="220.5,423.7 216.0,418.4 222.3,416.9" fill="#0a0a9c"/>
<line x1="223.54" y1="405.90" x2="226.18" y2="417.65" stroke="#0a0a9c" stroke-width="1.5"/>
<polygon points="227.5,423.7 223.1,418.4 229.3,416.9" fill="#0a0a9c"/>
<line x1="230.56" y1="405.90" x2="233.20" y2="417.65" stroke="#0a0a9c" stroke-width="1.5"/>
<polygon points="234.6,423.7 230.1,418.4 236.3,416.9" fill="#0a0a9c"/>
<line x1="237.58" y1="405.90" x2="240.22" y2="417.65" stroke="#0a0a9c" stroke-width="1.5"/>
<polygon points="241.6,423.7 237.1,418.4 243.3,416.9" fill="#0a0a9c"/>
<line x1="244.60" y1="405.90" x2="247.24" y2="417.65" stroke="#0a0a9c" stroke-width="1.5"/>
<polygon points="248.6,423.7 244.1,418.4 250.4,416.9" fill="#0a0a9c"/>
<rect x="135.5" y="398.4" width="110.0" height="31.80000000000001" fill="none" stroke="#111" stroke-width="1.1"/>
<rect x="135.50" y="436.50" width="110.00" height="77.80" fill="#87cefa"/>
<rect x="170.2" y="436.5" width="61.6" height="77.79999999999995" fill="#7ec2ee"/>
<line x1="135.5" y1="456.5" x2="245.5" y2="456.5" stroke="#000" stroke-width="1" stroke-dasharray="2,2"/>
<line x1="135.5" y1="475.5" x2="245.5" y2="475.5" stroke="#000" stroke-width="1" stroke-dasharray="2,2"/>
<line x1="135.5" y1="495.5" x2="245.5" y2="495.5" stroke="#000" stroke-width="1" stroke-dasharray="2,2"/>
<line x1="143.5" y1="436.5" x2="143.5" y2="514.3" stroke="#000" stroke-width="1" stroke-dasharray="2,2"/>
<line x1="164.5" y1="436.5" x2="164.5" y2="514.3" stroke="#000" stroke-width="1" stroke-dasharray="2,2"/>
<line x1="184.5" y1="436.5" x2="184.5" y2="514.3" stroke="#000" stroke-width="1" stroke-dasharray="2,2"/>
<line x1="204.5" y1="436.5" x2="204.5" y2="514.3" stroke="#000" stroke-width="1" stroke-dasharray="2,2"/>
<line x1="225.5" y1="436.5" x2="225.5" y2="514.3" stroke="#000" stroke-width="1" stroke-dasharray="2,2"/>
<circle cx="150.3" cy="458.4" r="2.5" fill="#b22222"/>
<circle cx="157.3" cy="458.4" r="2.5" fill="#b22222"/>
<circle cx="164.6" cy="458.4" r="2.5" fill="#b22222"/>
<circle cx="170.5" cy="451.3" r="2.5" fill="#b22222"/>
<circle cx="177.6" cy="449.8" r="2.5" fill="#b22222"/>
<circle cx="184.4" cy="449.8" r="2.5" fill="#b22222"/>
<circle cx="191.5" cy="449.8" r="2.5" fill="#b22222"/>
<circle cx="198.5" cy="451.3" r="2.5" fill="#b22222"/>
<circle cx="205.6" cy="449.8" r="2.5" fill="#b22222"/>
<circle cx="212.6" cy="449.8" r="2.5" fill="#b22222"/>
<circle cx="219.6" cy="449.8" r="2.5" fill="#b22222"/>
<circle cx="226.6" cy="449.8" r="2.5" fill="#b22222"/>
<circle cx="233.6" cy="449.8" r="2.5" fill="#b22222"/>
<circle cx="240.6" cy="449.8" r="2.5" fill="#b22222"/>
<circle cx="245.0" cy="449.8" r="2.5" fill="#b22222"/>
<circle cx="136.5" cy="475.5" r="2.5" fill="#b22222"/>
<circle cx="143.5" cy="475.5" r="2.5" fill="#b22222"/>
<circle cx="150.3" cy="491.5" r="2.5" fill="#505050"/>
<circle cx="157.3" cy="491.5" r="2.5" fill="#505050"/>
<circle cx="164.6" cy="491.5" r="2.5" fill="#505050"/>
<circle cx="170.5" cy="488.0" r="2.5" fill="#c8c8c8"/>
<circle cx="177.6" cy="487.0" r="2.5" fill="#909090"/>
<circle cx="184.4" cy="491.5" r="2.5" fill="#000"/>
<circle cx="191.5" cy="491.5" r="2.5" fill="#505050"/>
<circle cx="198.5" cy="486.0" r="2.5" fill="#909090"/>
<circle cx="205.6" cy="491.5" r="2.5" fill="#e0e0e0"/>
<circle cx="212.6" cy="486.0" r="2.5" fill="#505050"/>
<circle cx="219.6" cy="491.5" r="2.5" fill="#505050"/>
<circle cx="226.6" cy="491.5" r="2.5" fill="#303030"/>
<circle cx="233.6" cy="491.5" r="2.5" fill="#000"/>
<circle cx="240.6" cy="491.5" r="2.5" fill="#909090"/>
<circle cx="143.5" cy="479.5" r="2.5" fill="#505050"/>
<circle cx="143.5" cy="500.5" r="2.5" fill="#d0d0d0"/>
<circle cx="184.4" cy="500.5" r="2.5" fill="#505050"/>
<circle cx="184.4" cy="504.7" r="2.5" fill="#909090"/>
<circle cx="191.5" cy="456.6" r="2.5" fill="#000"/>
<circle cx="198.3" cy="464.5" r="2.5" fill="#000"/>
<circle cx="205.6" cy="468.2" r="2.5" fill="#000"/>
<circle cx="212.5" cy="470.8" r="2.5" fill="#000"/>
<circle cx="219.6" cy="481.6" r="2.5" fill="#000"/>
<circle cx="226.6" cy="485.7" r="2.5" fill="#000"/>
<circle cx="240.6" cy="481.6" r="2.5" fill="#000"/>
<circle cx="245.0" cy="476.0" r="2.5" fill="#000"/>
<circle cx="198.3" cy="468.0" r="2.5" fill="#707070"/>
<circle cx="150.3" cy="500.5" r="2.5" fill="#fff"/>
<circle cx="164.6" cy="500.0" r="2.5" fill="#fff"/>
<circle cx="191.5" cy="500.2" r="2.5" fill="#fff"/>
<circle cx="143.5" cy="505.5" r="2.5" fill="#fff"/>
<circle cx="184.4" cy="509.7" r="2.5" fill="#fff"/>
<circle cx="219.6" cy="509.7" r="2.5" fill="#fff"/>
<circle cx="226.6" cy="509.7" r="2.5" fill="#fff"/>
<circle cx="233.6" cy="509.7" r="2.5" fill="#fff"/>
<circle cx="240.6" cy="509.7" r="2.5" fill="#fff"/>
<circle cx="219.6" cy="500.5" r="2.5" fill="#c8c8c8"/>
<circle cx="226.6" cy="500.5" r="2.5" fill="#c8c8c8"/>
<circle cx="233.6" cy="500.5" r="2.5" fill="#909090"/>
<circle cx="240.6" cy="500.5" r="2.5" fill="#c8c8c8"/>
<circle cx="245.0" cy="500.5" r="2.5" fill="#fff"/>
<circle cx="177.6" cy="493.0" r="2.5" fill="#fff"/>
<circle cx="205.6" cy="493.5" r="2.5" fill="#fff"/>
<circle cx="212.6" cy="492.0" r="2.5" fill="#fff"/>
<polyline points="135.5,471.0 143.0,471.0 150.0,465.5 160.0,464.0 175.0,463.5 185.0,466.0 195.0,470.0 200.0,471.0 210.0,472.5 220.0,474.5 230.0,474.5 240.0,471.5 245.5,470.5" fill="none" stroke="#ff9600" stroke-width="2.4" stroke-linejoin="round"/>
<rect x="135.5" y="436.5" width="110.0" height="77.79999999999995" fill="none" stroke="#111" stroke-width="1.1"/>
<rect x="135.50" y="523.60" width="110.00" height="77.20" fill="#87cefa"/>
<rect x="170.2" y="523.6" width="61.6" height="77.19999999999993" fill="#7ec2ee"/>
<polygon points="164.5,600.8 166.4,589.3 170.9,576.0 176.0,568.3 183.6,563.9 187.4,556.9 192.5,546.7 197.6,544.2 204.0,542.3 210.3,527.6 216.7,524.5 245.3,523.6 245.3,600.8" fill="#ffffff"/>
<polygon points="184.9,600.8 190.0,585.0 193.8,550.5 197.6,531.5 205.2,534.0 207.5,540.0 210.5,530.0 214.5,527.0 245.3,527.0 245.3,600.8" fill="#969696"/>
<polyline points="232.5,524.0 240.0,539.0 245.3,544.0" fill="none" stroke="#ffffff" stroke-width="1.2" stroke-linejoin="round"/>
<polygon points="135.5,574.7 143.5,563.3 150.5,577.3 155.6,582.3 164.5,586.2 165.8,600.8 135.5,600.8" fill="#5a5a5a"/>
<polygon points="139.0,600.8 149.3,591.2 163.3,598.9 163.3,600.8" fill="#2d2d2d"/>
<polygon points="165.8,600.8 168.0,591.0 176.0,588.0 181.0,576.0 184.9,569.0 190.0,569.6 193.0,578.0 198.0,592.0 202.0,600.8" fill="#5a5a5a"/>
<polygon points="202.0,600.8 206.0,590.0 212.0,565.0 215.4,551.8 221.8,536.5 225.6,534.6 230.7,536.5 235.8,545.4 242.1,562.0 245.3,572.0 245.3,600.8" fill="#5a5a5a"/>
<polyline points="186.0,600.8 193.0,573.0" fill="none" stroke="#b4b4b4" stroke-width="0.8" stroke-linejoin="round"/>
<line x1="135.5" y1="543.5" x2="245.5" y2="543.5" stroke="#000" stroke-width="1" stroke-dasharray="2,2"/>
<line x1="135.5" y1="562.5" x2="245.5" y2="562.5" stroke="#000" stroke-width="1" stroke-dasharray="2,2"/>
<line x1="135.5" y1="582.5" x2="245.5" y2="582.5" stroke="#000" stroke-width="1" stroke-dasharray="2,2"/>
<line x1="143.5" y1="523.6" x2="143.5" y2="600.8" stroke="#000" stroke-width="1" stroke-dasharray="2,2"/>
<line x1="164.5" y1="523.6" x2="164.5" y2="600.8" stroke="#000" stroke-width="1" stroke-dasharray="2,2"/>
<line x1="184.5" y1="523.6" x2="184.5" y2="600.8" stroke="#000" stroke-width="1" stroke-dasharray="2,2"/>
<line x1="204.5" y1="523.6" x2="204.5" y2="600.8" stroke="#000" stroke-width="1" stroke-dasharray="2,2"/>
<line x1="225.5" y1="523.6" x2="225.5" y2="600.8" stroke="#000" stroke-width="1" stroke-dasharray="2,2"/>
<rect x="217.30" y="589.70" width="2.40" height="11.10" fill="#ffb400"/>
<rect x="224.00" y="589.70" width="2.40" height="11.10" fill="#ffb400"/>
<rect x="231.00" y="589.70" width="2.40" height="11.10" fill="#ffb400"/>
<rect x="238.00" y="589.70" width="2.40" height="11.10" fill="#ffb400"/>
<rect x="135.5" y="523.6" width="110.0" height="77.19999999999993" fill="none" stroke="#111" stroke-width="1.1"/>
<polyline points="68.5,16.2 133.0,16.2 154.5,44.0" fill="none" stroke="#000" stroke-width="1" stroke-linejoin="round"/>
<polyline points="102.3,44.6 120.0,44.6 150.0,85.0" fill="none" stroke="#b02020" stroke-width="1" stroke-linejoin="round"/>
<polyline points="92.3,76.2 114.6,76.2" fill="none" stroke="#ff0000" stroke-width="1" stroke-linejoin="round"/>
<polyline points="129.0,76.2 133.0,76.2 169.0,110.0" fill="none" stroke="#ff0000" stroke-width="1" stroke-linejoin="round"/>
<polyline points="70.3,99.2 132.3,99.2 137.0,103.0" fill="none" stroke="#1414e6" stroke-width="1" stroke-linejoin="round"/>
<polyline points="95.4,120.3 131.5,120.3 142.5,113.5" fill="none" stroke="#6464dc" stroke-width="1" stroke-linejoin="round"/>
<polyline points="103.0,137.7 143.0,137.7 146.5,146.0" fill="none" stroke="#ff0000" stroke-width="1" stroke-linejoin="round"/>
<polyline points="106.4,151.4 111.3,151.4" fill="none" stroke="#e6501a" stroke-width="1" stroke-linejoin="round"/>
<polyline points="129.0,151.4 131.0,151.4 145.0,160.0" fill="none" stroke="#e6501a" stroke-width="1" stroke-linejoin="round"/>
<polyline points="94.2,166.5 112.7,166.5" fill="none" stroke="#000" stroke-width="1" stroke-linejoin="round"/>
<polyline points="129.0,166.5 131.0,166.5 137.5,172.0" fill="none" stroke="#000" stroke-width="1" stroke-linejoin="round"/>
<polyline points="71.3,179.2 139.0,179.2" fill="none" stroke="#14aa14" stroke-width="1" stroke-linejoin="round"/>
<polyline points="80.0,190.5 140.0,190.5" fill="none" stroke="#14aa14" stroke-width="1" stroke-linejoin="round"/>
<polyline points="70.0,202.3 111.8,202.3" fill="none" stroke="#2840e6" stroke-width="1" stroke-linejoin="round"/>
<polyline points="129.0,202.3 131.0,202.3 160.5,171.0 160.5,182.0" fill="none" stroke="#2840e6" stroke-width="1" stroke-linejoin="round"/>
<polyline points="80.9,213.2 131.0,213.2 160.0,184.0" fill="none" stroke="#2840e6" stroke-width="1" stroke-linejoin="round"/>
<polyline points="97.3,224.6 141.0,224.6 146.5,219.5" fill="none" stroke="#ff0000" stroke-width="1" stroke-linejoin="round"/>
<polyline points="51.8,263.7 130.9,263.7 136.0,261.0" fill="none" stroke="#000" stroke-width="1" stroke-linejoin="round"/>
<polyline points="112.4,335.0 116.4,335.0" fill="none" stroke="#ff0000" stroke-width="1" stroke-linejoin="round"/>
<polyline points="129.5,335.0 131.0,335.0 138.0,318.0" fill="none" stroke="#ff0000" stroke-width="1" stroke-linejoin="round"/>
<polyline points="107.3,348.3 130.9,348.3 142.0,340.5" fill="none" stroke="#ff0000" stroke-width="1" stroke-linejoin="round"/>
<polyline points="92.4,367.4 136.0,367.4" fill="none" stroke="#1a1a96" stroke-width="1" stroke-linejoin="round"/>
<polyline points="86.4,410.0 141.0,410.0" fill="none" stroke="#1a1a96" stroke-width="1" stroke-linejoin="round"/>
<polyline points="100.0,429.9 128.0,429.9 184.0,447.0" fill="none" stroke="#b02020" stroke-width="1" stroke-linejoin="round"/>
<polyline points="57.3,468.3 132.0,468.3 190.0,457.0" fill="none" stroke="#000" stroke-width="1" stroke-linejoin="round"/>
<polyline points="57.0,479.9 142.0,479.9" fill="none" stroke="#505050" stroke-width="1" stroke-linejoin="round"/>
<polyline points="57.0,490.1 132.0,490.1 140.0,499.0" fill="none" stroke="#969696" stroke-width="1" stroke-linejoin="round"/>
<polyline points="57.0,500.1 133.0,500.1 137.0,505.0" fill="none" stroke="#c8c8c8" stroke-width="1" stroke-linejoin="round"/>
<polyline points="57.0,509.0 140.0,509.0" fill="none" stroke="#8cc8f0" stroke-width="1" stroke-linejoin="round"/>
<polyline points="57.0,511.4 140.0,511.4" fill="none" stroke="#8cc8f0" stroke-width="1" stroke-linejoin="round"/>
<polyline points="67.3,527.2 129.1,527.2 175.0,463.0" fill="none" stroke="#ff8200" stroke-width="1" stroke-linejoin="round"/>
<polyline points="54.1,556.0 183.0,556.0" fill="none" stroke="#b4dcf8" stroke-width="1" stroke-linejoin="round"/>
<polyline points="54.1,557.6 140.0,557.6" fill="none" stroke="#b4dcf8" stroke-width="1" stroke-linejoin="round"/>
<polyline points="49.2,571.3 194.0,571.3" fill="none" stroke="#a0a0a0" stroke-width="1" stroke-linejoin="round"/>
<polyline points="40.4,582.2 122.0,582.2" fill="none" stroke="#3c3c3c" stroke-width="1" stroke-linejoin="round"/>
<polyline points="129.0,582.2 140.0,582.2" fill="none" stroke="#3c3c3c" stroke-width="1" stroke-linejoin="round"/>
<polyline points="74.4,594.0 143.7,594.6" fill="none" stroke="#282828" stroke-width="1" stroke-linejoin="round"/>
<polyline points="29.9,605.4 216.0,605.4 218.5,600.0" fill="none" stroke="#ffb400" stroke-width="1" stroke-linejoin="round"/>
<polyline points="138.0,624.0 148.0,624.0 157.0,612.0" fill="none" stroke="#000" stroke-width="1" stroke-linejoin="round"/>
<rect x="348.50" y="149.00" width="20.10" height="511.00" fill="#e6e6e6"/>
<rect x="452.20" y="149.00" width="69.60" height="511.00" fill="#e6e6e6"/>
<rect x="606.20" y="149.00" width="68.60" height="511.00" fill="#e6e6e6"/>
<rect x="759.20" y="149.00" width="68.60" height="511.00" fill="#e6e6e6"/>
<rect x="348.50" y="177.50" width="493.00" height="78.00" fill="#ffffff"/>
<rect x="348.50" y="177.50" width="20.10" height="78.00" fill="#e6e6e6"/>
<rect x="452.20" y="177.50" width="69.60" height="78.00" fill="#e6e6e6"/>
<rect x="606.20" y="177.50" width="68.60" height="78.00" fill="#e6e6e6"/>
<rect x="759.20" y="177.50" width="68.60" height="78.00" fill="#e6e6e6"/>
<rect x="348.50" y="263.50" width="493.00" height="78.00" fill="#ffffff"/>
<rect x="348.50" y="263.50" width="20.10" height="78.00" fill="#e6e6e6"/>
<rect x="452.20" y="263.50" width="69.60" height="78.00" fill="#e6e6e6"/>
<rect x="606.20" y="263.50" width="68.60" height="78.00" fill="#e6e6e6"/>
<rect x="759.20" y="263.50" width="68.60" height="78.00" fill="#e6e6e6"/>
<rect x="348.50" y="350.50" width="493.00" height="78.00" fill="#ffffff"/>
<rect x="348.50" y="350.50" width="20.10" height="78.00" fill="#e6e6e6"/>
<rect x="452.20" y="350.50" width="69.60" height="78.00" fill="#e6e6e6"/>
<rect x="606.20" y="350.50" width="68.60" height="78.00" fill="#e6e6e6"/>
<rect x="759.20" y="350.50" width="68.60" height="78.00" fill="#e6e6e6"/>
<rect x="348.50" y="437.50" width="493.00" height="78.00" fill="#ffffff"/>
<rect x="348.50" y="437.50" width="20.10" height="78.00" fill="#e6e6e6"/>
<rect x="452.20" y="437.50" width="69.60" height="78.00" fill="#e6e6e6"/>
<rect x="606.20" y="437.50" width="68.60" height="78.00" fill="#e6e6e6"/>
<rect x="759.20" y="437.50" width="68.60" height="78.00" fill="#e6e6e6"/>
<rect x="348.50" y="521.50" width="493.00" height="31.00" fill="#ffffff"/>
<rect x="348.50" y="521.50" width="20.10" height="31.00" fill="#e6e6e6"/>
<rect x="452.20" y="521.50" width="69.60" height="31.00" fill="#e6e6e6"/>
<rect x="606.20" y="521.50" width="68.60" height="31.00" fill="#e6e6e6"/>
<rect x="759.20" y="521.50" width="68.60" height="31.00" fill="#e6e6e6"/>
<rect x="348.50" y="557.50" width="493.00" height="79.00" fill="#ffffff"/>
<rect x="348.50" y="557.50" width="20.10" height="79.00" fill="#e6e6e6"/>
<rect x="452.20" y="557.50" width="69.60" height="79.00" fill="#e6e6e6"/>
<rect x="606.20" y="557.50" width="68.60" height="79.00" fill="#e6e6e6"/>
<rect x="759.20" y="557.50" width="68.60" height="79.00" fill="#e6e6e6"/>
<rect x="348.50" y="645.50" width="493.00" height="54.50" fill="#ffffff"/>
<rect x="348.50" y="645.50" width="20.10" height="54.50" fill="#e6e6e6"/>
<rect x="452.20" y="645.50" width="69.60" height="54.50" fill="#e6e6e6"/>
<rect x="606.20" y="645.50" width="68.60" height="54.50" fill="#e6e6e6"/>
<rect x="759.20" y="645.50" width="68.60" height="54.50" fill="#e6e6e6"/>
<text x="286.0" y="133.0" font-size="12.4" fill="#1a1a96" textLength="155.0" lengthAdjust="spacingAndGlyphs" text-anchor="start" font-family="'Liberation Sans', Arial, sans-serif">wschód słońca: 06:01 CEST</text>
<text x="288.0" y="145.6" font-size="12.4" fill="#1a1a96" textLength="150.7" lengthAdjust="spacingAndGlyphs" text-anchor="start" font-family="'Liberation Sans', Arial, sans-serif">zachód słońca: 19:12 CEST</text>
<text x="532.0" y="133.0" font-size="12.4" fill="#1a1a96" textLength="127.4" lengthAdjust="spacingAndGlyphs" text-anchor="start" font-family="'Liberation Sans', Arial, sans-serif">21°31'43"E, 53°44'52"N</text>
<text x="555.0" y="144.5" font-size="12.4" fill="#1a1a96" textLength="81.0" lengthAdjust="spacingAndGlyphs" text-anchor="start" font-family="'Liberation Sans', Arial, sans-serif">(x=258,  y=362)</text>
<text x="739.2" y="133.0" font-size="12.4" fill="#1a1a96" textLength="158.6" lengthAdjust="spacingAndGlyphs" text-anchor="start" font-family="'Liberation Sans', Arial, sans-serif">wysokość (min, środek, max)</text>
<text x="770.4" y="145.5" font-size="12.4" fill="#1a1a96" textLength="95.8" lengthAdjust="spacingAndGlyphs" text-anchor="start" font-family="'Liberation Sans', Arial, sans-serif">128 - 146 - 176 m</text>
<text x="391.0" y="161.6" font-size="12.4" fill="#000" textLength="56.0" lengthAdjust="spacingAndGlyphs" text-anchor="start" font-family="'Liberation Sans', Arial, sans-serif">pią, 03.04</text>
<text x="542.0" y="161.4" font-size="12.4" fill="#000" textLength="60.0" lengthAdjust="spacingAndGlyphs" text-anchor="start" font-family="'Liberation Sans', Arial, sans-serif">sob, 04.04</text>
<text x="698.4" y="161.4" font-size="12.4" fill="#000" textLength="55.6" lengthAdjust="spacingAndGlyphs" text-anchor="start" font-family="'Liberation Sans', Arial, sans-serif">nie, 05.04</text>
<text x="302.4" y="174.5" font-size="12.4" fill="#000" textLength="33.6" lengthAdjust="spacingAndGlyphs" text-anchor="start" font-family="'Liberation Sans', Arial, sans-serif">CEST</text>
<text x="854.3" y="174.5" font-size="12.4" fill="#000" textLength="33.4" lengthAdjust="spacingAndGlyphs" text-anchor="start" font-family="'Liberation Sans', Arial, sans-serif">CEST</text>
<text x="360.7" y="174.5" font-size="12.4" fill="#000" textLength="14.0" lengthAdjust="spacingAndGlyphs" text-anchor="middle" font-family="'Liberation Sans', Arial, sans-serif">05</text>
<text x="399.0" y="174.5" font-size="12.4" fill="#000" textLength="14.0" lengthAdjust="spacingAndGlyphs" text-anchor="middle" font-family="'Liberation Sans', Arial, sans-serif">11</text>
<text x="437.3" y="174.5" font-size="12.4" fill="#000" textLength="14.0" lengthAdjust="spacingAndGlyphs" text-anchor="middle" font-family="'Liberation Sans', Arial, sans-serif">17</text>
<text x="475.5" y="174.5" font-size="12.4" fill="#000" textLength="14.0" lengthAdjust="spacingAndGlyphs" text-anchor="middle" font-family="'Liberation Sans', Arial, sans-serif">23</text>
<text x="513.8" y="174.5" font-size="12.4" fill="#000" textLength="14.0" lengthAdjust="spacingAndGlyphs" text-anchor="middle" font-family="'Liberation Sans', Arial, sans-serif">05</text>
<text x="552.1" y="174.5" font-size="12.4" fill="#000" textLength="14.0" lengthAdjust="spacingAndGlyphs" text-anchor="middle" font-family="'Liberation Sans', Arial, sans-serif">11</text>
<text x="590.4" y="174.5" font-size="12.4" fill="#000" textLength="14.0" lengthAdjust="spacingAndGlyphs" text-anchor="middle" font-family="'Liberation Sans', Arial, sans-serif">17</text>
<text x="628.7" y="174.5" font-size="12.4" fill="#000" textLength="14.0" lengthAdjust="spacingAndGlyphs" text-anchor="middle" font-family="'Liberation Sans', Arial, sans-serif">23</text>
<text x="666.9" y="174.5" font-size="12.4" fill="#000" textLength="14.0" lengthAdjust="spacingAndGlyphs" text-anchor="middle" font-family="'Liberation Sans', Arial, sans-serif">05</text>
<text x="705.2" y="174.5" font-size="12.4" fill="#000" textLength="14.0" lengthAdjust="spacingAndGlyphs" text-anchor="middle" font-family="'Liberation Sans', Arial, sans-serif">11</text>
<text x="743.5" y="174.5" font-size="12.4" fill="#000" textLength="14.0" lengthAdjust="spacingAndGlyphs" text-anchor="middle" font-family="'Liberation Sans', Arial, sans-serif">17</text>
<text x="781.8" y="174.5" font-size="12.4" fill="#000" textLength="14.0" lengthAdjust="spacingAndGlyphs" text-anchor="middle" font-family="'Liberation Sans', Arial, sans-serif">23</text>
<text x="820.1" y="174.5" font-size="12.4" fill="#000" textLength="14.0" lengthAdjust="spacingAndGlyphs" text-anchor="middle" font-family="'Liberation Sans', Arial, sans-serif">05</text>
<rect x="348.50" y="239.30" width="493.00" height="16.20" fill="#87cefa"/>
<rect x="348.50" y="239.30" width="20.10" height="16.20" fill="#7ec2ee"/>
<rect x="452.20" y="239.30" width="69.60" height="16.20" fill="#7ec2ee"/>
<rect x="606.20" y="239.30" width="68.60" height="16.20" fill="#7ec2ee"/>
<rect x="759.20" y="239.30" width="68.60" height="16.20" fill="#7ec2ee"/>
<polygon points="348.0,220.5 355.0,220.5 361.0,220.5 368.0,220.5 374.0,220.5 381.0,221.3 387.0,214.0 393.0,208.8 400.0,202.4 406.0,198.1 412.0,194.9 419.0,192.4 425.0,192.6 431.0,196.5 438.0,202.4 444.0,207.4 451.0,212.4 457.0,215.5 464.0,217.4 470.0,218.8 477.0,221.2 483.0,221.2 490.0,221.6 496.0,222.6 502.0,223.1 509.0,223.1 515.0,223.5 522.0,223.5 528.0,221.6 534.0,218.8 541.0,216.9 547.0,215.9 553.0,215.5 560.0,210.9 566.0,212.1 573.0,210.2 579.0,206.9 585.0,202.6 590.0,198.8 593.0,198.8 598.0,201.0 605.0,207.8 617.0,214.9 630.0,218.8 643.0,222.1 656.0,225.2 668.0,227.4 674.0,228.8 681.0,227.4 688.0,222.4 695.0,216.6 705.0,208.1 715.0,198.5 725.0,188.1 735.0,183.5 745.0,183.4 750.0,184.5 760.0,188.1 770.0,190.5 778.0,191.6 782.0,199.5 787.0,205.9 793.0,207.4 800.0,208.8 808.0,211.6 817.0,215.2 826.0,218.8 833.0,218.8 841.0,216.6 841.0,224.6 833.0,226.8 826.0,226.8 817.0,223.2 808.0,219.6 800.0,216.8 793.0,215.4 787.0,213.9 782.0,207.5 778.0,199.6 770.0,198.5 760.0,196.1 750.0,192.5 745.0,191.4 735.0,191.5 725.0,196.1 715.0,206.5 705.0,216.1 695.0,224.6 688.0,230.4 681.0,235.4 674.0,236.8 668.0,235.4 656.0,233.2 643.0,230.1 630.0,226.8 617.0,222.9 605.0,215.8 598.0,209.0 593.0,206.8 590.0,206.8 585.0,210.6 579.0,214.9 573.0,218.2 566.0,220.1 560.0,218.9 553.0,223.5 547.0,223.9 541.0,224.9 534.0,226.8 528.0,229.6 522.0,231.5 515.0,231.5 509.0,231.1 502.0,231.1 496.0,230.6 490.0,229.6 483.0,229.2 477.0,229.2 470.0,226.8 464.0,225.4 457.0,223.5 451.0,220.4 444.0,215.4 438.0,210.4 431.0,204.5 425.0,200.6 419.0,200.4 412.0,202.9 406.0,206.1 400.0,210.4 393.0,216.8 387.0,224.5 381.0,231.8 374.0,235.4 368.0,235.9 361.0,236.4 355.0,236.7 348.0,237.5" fill="#ffd9d9" fill-opacity="0.85"/>
<polygon points="348.0,239.4 355.0,238.0 361.0,235.4 368.0,234.9 374.0,235.1 381.0,230.1 387.0,223.7 393.0,216.6 400.0,211.3 406.0,207.3 412.0,204.4 419.0,202.6 425.0,203.7 431.0,210.1 438.0,217.3 444.0,223.0 451.0,225.9 457.0,227.0 464.0,229.5 470.0,229.5 477.0,229.5 483.0,229.5 490.0,229.5 496.0,229.5 502.0,229.5 541.0,229.5 547.0,229.5 553.0,229.5 560.0,233.0 566.0,228.0 573.0,229.4 579.0,226.6 585.0,221.6 592.0,216.6 595.0,216.6 600.0,220.0 605.0,225.1 617.0,232.3 630.0,236.6 643.0,240.1 656.0,243.0 668.0,245.1 674.0,246.6 681.0,245.9 688.0,243.0 695.0,235.9 705.0,224.4 715.0,212.0 725.0,198.7 735.0,193.7 745.0,191.3 750.0,192.3 760.0,196.6 770.0,198.4 772.0,200.1 778.0,210.1 782.0,219.0 790.0,219.4 800.0,223.0 810.0,228.0 820.0,233.0 830.0,238.0 836.0,239.0 841.0,235.9 841.0,243.4 836.0,246.5 830.0,245.5 820.0,240.5 810.0,235.5 800.0,230.5 790.0,226.9 782.0,226.5 778.0,217.6 772.0,207.6 770.0,205.9 760.0,204.1 750.0,199.8 745.0,198.8 735.0,201.2 725.0,206.2 715.0,219.5 705.0,231.9 695.0,243.4 688.0,250.5 681.0,253.4 674.0,254.1 668.0,252.6 656.0,250.5 643.0,247.6 630.0,244.1 617.0,239.8 605.0,232.6 600.0,227.5 595.0,224.1 592.0,224.1 585.0,229.1 579.0,234.1 573.0,236.9 566.0,235.5 560.0,240.5 553.0,240.5 547.0,241.9 541.0,242.9 502.0,242.9 496.0,243.4 490.0,241.9 483.0,239.4 477.0,241.2 470.0,241.2 464.0,237.6 457.0,234.5 451.0,233.4 444.0,230.5 438.0,224.8 431.0,217.6 425.0,211.2 419.0,210.1 412.0,211.9 406.0,214.8 400.0,218.8 393.0,224.1 387.0,231.2 381.0,237.6 374.0,242.6 368.0,242.4 361.0,242.9 355.0,245.5 348.0,246.9" fill="#bfe4fb"/>
<line x1="348.5" y1="181.5" x2="841.5" y2="181.5" stroke="#000" stroke-width="1" stroke-dasharray="2,2"/>
<line x1="348.5" y1="200.5" x2="841.5" y2="200.5" stroke="#000" stroke-width="1" stroke-dasharray="2,2"/>
<line x1="348.5" y1="220.5" x2="841.5" y2="220.5" stroke="#000" stroke-width="1" stroke-dasharray="2,2"/>
<line x1="348.5" y1="239.5" x2="841.5" y2="239.5" stroke="#000" stroke-width="1" stroke-dasharray="2,2"/>
<line x1="361.5" y1="177.5" x2="361.5" y2="255.5" stroke="#000" stroke-width="1" stroke-dasharray="2,2"/>
<line x1="381.5" y1="177.5" x2="381.5" y2="255.5" stroke="#000" stroke-width="1" stroke-dasharray="2,2"/>
<line x1="400.5" y1="177.5" x2="400.5" y2="255.5" stroke="#000" stroke-width="1" stroke-dasharray="2,2"/>
<line x1="419.5" y1="177.5" x2="419.5" y2="255.5" stroke="#000" stroke-width="1" stroke-dasharray="2,2"/>
<line x1="438.5" y1="177.5" x2="438.5" y2="255.5" stroke="#000" stroke-width="1" stroke-dasharray="2,2"/>
<line x1="457.5" y1="177.5" x2="457.5" y2="255.5" stroke="#000" stroke-width="1" stroke-dasharray="2,2"/>
<line x1="476.5" y1="177.5" x2="476.5" y2="255.5" stroke="#000" stroke-width="1" stroke-dasharray="2,2"/>
<line x1="495.5" y1="177.5" x2="495.5" y2="255.5" stroke="#000" stroke-width="1" stroke-dasharray="2,2"/>
<line x1="515.5" y1="177.5" x2="515.5" y2="255.5" stroke="#000" stroke-width="1" stroke-dasharray="2,2"/>
<line x1="534.5" y1="177.5" x2="534.5" y2="255.5" stroke="#000" stroke-width="1" stroke-dasharray="2,2"/>
<line x1="553.5" y1="177.5" x2="553.5" y2="255.5" stroke="#000" stroke-width="1" stroke-dasharray="2,2"/>
<line x1="572.5" y1="177.5" x2="572.5" y2="255.5" stroke="#000" stroke-width="1" stroke-dasharray="2,2"/>
<line x1="591.5" y1="177.5" x2="591.5" y2="255.5" stroke="#000" stroke-width="1" stroke-dasharray="2,2"/>
<line x1="610.5" y1="177.5" x2="610.5" y2="255.5" stroke="#000" stroke-width="1" stroke-dasharray="2,2"/>
<line x1="629.5" y1="177.5" x2="629.5" y2="255.5" stroke="#000" stroke-width="1" stroke-dasharray="2,2"/>
<line x1="648.5" y1="177.5" x2="648.5" y2="255.5" stroke="#000" stroke-width="1" stroke-dasharray="2,2"/>
<line x1="668.5" y1="177.5" x2="668.5" y2="255.5" stroke="#000" stroke-width="1" stroke-dasharray="2,2"/>
<line x1="687.5" y1="177.5" x2="687.5" y2="255.5" stroke="#000" stroke-width="1" stroke-dasharray="2,2"/>
<line x1="706.5" y1="177.5" x2="706.5" y2="255.5" stroke="#000" stroke-width="1" stroke-dasharray="2,2"/>
<line x1="725.5" y1="177.5" x2="725.5" y2="255.5" stroke="#000" stroke-width="1" stroke-dasharray="2,2"/>
<line x1="744.5" y1="177.5" x2="744.5" y2="255.5" stroke="#000" stroke-width="1" stroke-dasharray="2,2"/>
<line x1="763.5" y1="177.5" x2="763.5" y2="255.5" stroke="#000" stroke-width="1" stroke-dasharray="2,2"/>
<line x1="782.5" y1="177.5" x2="782.5" y2="255.5" stroke="#000" stroke-width="1" stroke-dasharray="2,2"/>
<line x1="802.5" y1="177.5" x2="802.5" y2="255.5" stroke="#000" stroke-width="1" stroke-dasharray="2,2"/>
<line x1="821.5" y1="177.5" x2="821.5" y2="255.5" stroke="#000" stroke-width="1" stroke-dasharray="2,2"/>
<line x1="355.50" y1="213.30" x2="355.50" y2="239.30" stroke="#b01c1c" stroke-width="1.2"/>
<line x1="362.50" y1="213.30" x2="362.50" y2="237.90" stroke="#b01c1c" stroke-width="1.2"/>
<line x1="368.50" y1="214.00" x2="368.50" y2="242.90" stroke="#b01c1c" stroke-width="1.2"/>
<line x1="375.50" y1="213.30" x2="375.50" y2="237.90" stroke="#b01c1c" stroke-width="1.2"/>
<line x1="387.50" y1="207.10" x2="387.50" y2="220.40" stroke="#b01c1c" stroke-width="1.2"/>
<line x1="394.50" y1="197.10" x2="394.50" y2="212.40" stroke="#b01c1c" stroke-width="1.2"/>
<line x1="400.50" y1="190.00" x2="400.50" y2="209.30" stroke="#b01c1c" stroke-width="1.2"/>
<line x1="406.50" y1="184.30" x2="406.50" y2="210.00" stroke="#b01c1c" stroke-width="1.2"/>
<line x1="412.50" y1="181.90" x2="412.50" y2="206.70" stroke="#b01c1c" stroke-width="1.2"/>
<line x1="419.50" y1="180.70" x2="419.50" y2="205.70" stroke="#b01c1c" stroke-width="1.2"/>
<line x1="425.50" y1="185.30" x2="425.50" y2="205.70" stroke="#b01c1c" stroke-width="1.2"/>
<line x1="431.50" y1="196.10" x2="431.50" y2="208.10" stroke="#b01c1c" stroke-width="1.2"/>
<line x1="438.50" y1="202.90" x2="438.50" y2="211.40" stroke="#b01c1c" stroke-width="1.2"/>
<line x1="445.50" y1="205.30" x2="445.50" y2="219.60" stroke="#b01c1c" stroke-width="1.2"/>
<line x1="451.50" y1="206.70" x2="451.50" y2="220.40" stroke="#b01c1c" stroke-width="1.2"/>
<line x1="458.50" y1="207.10" x2="458.50" y2="222.10" stroke="#b01c1c" stroke-width="1.2"/>
<line x1="464.50" y1="207.10" x2="464.50" y2="225.70" stroke="#b01c1c" stroke-width="1.2"/>
<line x1="470.50" y1="207.60" x2="470.50" y2="227.90" stroke="#b01c1c" stroke-width="1.2"/>
<line x1="477.50" y1="208.60" x2="477.50" y2="228.60" stroke="#b01c1c" stroke-width="1.2"/>
<line x1="483.50" y1="209.00" x2="483.50" y2="230.00" stroke="#b01c1c" stroke-width="1.2"/>
<line x1="490.50" y1="209.30" x2="490.50" y2="230.00" stroke="#b01c1c" stroke-width="1.2"/>
<line x1="496.50" y1="210.00" x2="496.50" y2="230.00" stroke="#b01c1c" stroke-width="1.2"/>
<line x1="502.50" y1="210.40" x2="502.50" y2="230.70" stroke="#b01c1c" stroke-width="1.2"/>
<line x1="509.50" y1="211.00" x2="509.50" y2="230.70" stroke="#b01c1c" stroke-width="1.2"/>
<line x1="515.50" y1="211.40" x2="515.50" y2="230.00" stroke="#b01c1c" stroke-width="1.2"/>
<line x1="522.50" y1="211.40" x2="522.50" y2="230.00" stroke="#b01c1c" stroke-width="1.2"/>
<line x1="528.50" y1="211.40" x2="528.50" y2="230.00" stroke="#b01c1c" stroke-width="1.2"/>
<line x1="541.50" y1="211.10" x2="541.50" y2="222.10" stroke="#b01c1c" stroke-width="1.2"/>
<line x1="547.50" y1="211.40" x2="547.50" y2="221.40" stroke="#b01c1c" stroke-width="1.2"/>
<line x1="560.50" y1="211.40" x2="560.50" y2="217.90" stroke="#b01c1c" stroke-width="1.2"/>
<line x1="566.50" y1="210.70" x2="566.50" y2="217.90" stroke="#b01c1c" stroke-width="1.2"/>
<line x1="579.50" y1="207.10" x2="579.50" y2="212.90" stroke="#b01c1c" stroke-width="1.2"/>
<line x1="586.50" y1="198.60" x2="586.50" y2="210.00" stroke="#b01c1c" stroke-width="1.2"/>
<line x1="598.50" y1="208.60" x2="598.50" y2="213.60" stroke="#b01c1c" stroke-width="1.2"/>
<line x1="605.50" y1="210.40" x2="605.50" y2="219.30" stroke="#b01c1c" stroke-width="1.2"/>
<line x1="617.50" y1="211.40" x2="617.50" y2="225.70" stroke="#b01c1c" stroke-width="1.2"/>
<line x1="624.50" y1="211.40" x2="624.50" y2="227.90" stroke="#b01c1c" stroke-width="1.2"/>
<line x1="636.50" y1="212.40" x2="636.50" y2="231.40" stroke="#b01c1c" stroke-width="1.2"/>
<line x1="643.50" y1="213.30" x2="643.50" y2="232.90" stroke="#b01c1c" stroke-width="1.2"/>
<line x1="649.50" y1="215.70" x2="649.50" y2="236.40" stroke="#b01c1c" stroke-width="1.2"/>
<line x1="656.50" y1="214.30" x2="656.50" y2="237.10" stroke="#b01c1c" stroke-width="1.2"/>
<line x1="662.50" y1="215.30" x2="662.50" y2="237.90" stroke="#b01c1c" stroke-width="1.2"/>
<line x1="668.50" y1="214.30" x2="668.50" y2="239.30" stroke="#b01c1c" stroke-width="1.2"/>
<line x1="675.50" y1="216.40" x2="675.50" y2="239.30" stroke="#b01c1c" stroke-width="1.2"/>
<line x1="681.50" y1="216.40" x2="681.50" y2="233.60" stroke="#b01c1c" stroke-width="1.2"/>
<line x1="695.50" y1="211.40" x2="695.50" y2="220.70" stroke="#b01c1c" stroke-width="1.2"/>
<line x1="701.50" y1="201.40" x2="701.50" y2="216.40" stroke="#b01c1c" stroke-width="1.2"/>
<line x1="707.50" y1="195.00" x2="707.50" y2="210.70" stroke="#b01c1c" stroke-width="1.2"/>
<line x1="713.50" y1="188.60" x2="713.50" y2="212.10" stroke="#b01c1c" stroke-width="1.2"/>
<line x1="720.50" y1="183.60" x2="720.50" y2="210.00" stroke="#b01c1c" stroke-width="1.2"/>
<line x1="732.50" y1="183.60" x2="732.50" y2="208.60" stroke="#b01c1c" stroke-width="1.2"/>
<line x1="739.50" y1="183.60" x2="739.50" y2="207.10" stroke="#b01c1c" stroke-width="1.2"/>
<line x1="751.50" y1="191.00" x2="751.50" y2="205.70" stroke="#b01c1c" stroke-width="1.2"/>
<line x1="758.50" y1="194.30" x2="758.50" y2="205.70" stroke="#b01c1c" stroke-width="1.2"/>
<line x1="778.50" y1="199.30" x2="778.50" y2="213.60" stroke="#b01c1c" stroke-width="1.2"/>
<line x1="784.50" y1="207.10" x2="784.50" y2="214.30" stroke="#b01c1c" stroke-width="1.2"/>
<line x1="790.50" y1="207.10" x2="790.50" y2="217.10" stroke="#b01c1c" stroke-width="1.2"/>
<line x1="797.50" y1="207.10" x2="797.50" y2="222.10" stroke="#b01c1c" stroke-width="1.2"/>
<line x1="809.50" y1="208.10" x2="809.50" y2="226.40" stroke="#b01c1c" stroke-width="1.2"/>
<line x1="816.50" y1="209.30" x2="816.50" y2="227.90" stroke="#b01c1c" stroke-width="1.2"/>
<line x1="822.50" y1="210.00" x2="822.50" y2="229.30" stroke="#b01c1c" stroke-width="1.2"/>
<line x1="828.50" y1="210.00" x2="828.50" y2="231.40" stroke="#b01c1c" stroke-width="1.2"/>
<line x1="835.50" y1="211.40" x2="835.50" y2="227.90" stroke="#b01c1c" stroke-width="1.2"/>
<polyline points="348.0,235.0 355.0,234.2 361.0,233.9 368.0,233.4 374.0,232.9 381.0,229.3 387.0,222.0 393.0,214.3 400.0,207.9 406.0,203.6 412.0,200.4 419.0,197.9 425.0,198.1 431.0,202.0 438.0,207.9 444.0,212.9 451.0,217.9 457.0,221.0 464.0,222.9 470.0,224.3 477.0,226.7 483.0,226.7 490.0,227.1 496.0,228.1 502.0,228.6 509.0,228.6 515.0,229.0 522.0,229.0 528.0,227.1 534.0,224.3 541.0,222.4 547.0,221.4 553.0,221.0 560.0,216.4 566.0,217.6 573.0,215.7 579.0,212.4 585.0,208.1 590.0,204.3 593.0,204.3 598.0,206.5 605.0,213.3 617.0,220.4 630.0,224.3 643.0,227.6 656.0,230.7 668.0,232.9 674.0,234.3 681.0,232.9 688.0,227.9 695.0,222.1 705.0,213.6 715.0,204.0 725.0,193.6 735.0,189.0 745.0,188.9 750.0,190.0 760.0,193.6 770.0,196.0 778.0,197.1 782.0,205.0 787.0,211.4 793.0,212.9 800.0,214.3 808.0,217.1 817.0,220.7 826.0,224.3 833.0,224.3 841.0,222.1" fill="none" stroke="#ff0a0a" stroke-width="2.6" stroke-linejoin="round"/>
<polyline points="348.0,241.4 355.0,240.0 361.0,237.4 368.0,236.9 374.0,237.1 381.0,232.1 387.0,225.7 393.0,218.6 400.0,213.3 406.0,209.3 412.0,206.4 419.0,204.6 425.0,205.7 431.0,212.1 438.0,219.3 444.0,225.0 451.0,227.9 457.0,229.0 464.0,232.1 470.0,235.7 477.0,235.7 483.0,233.9 490.0,236.4 496.0,237.9 502.0,237.4 541.0,237.4 547.0,236.4 553.0,235.0 560.0,235.0 566.0,230.0 573.0,231.4 579.0,228.6 585.0,223.6 592.0,218.6 595.0,218.6 600.0,222.0 605.0,227.1 617.0,234.3 630.0,238.6 643.0,242.1 656.0,245.0 668.0,247.1 674.0,248.6 681.0,247.9 688.0,245.0 695.0,237.9 705.0,226.4 715.0,214.0 725.0,200.7 735.0,195.7 745.0,193.3 750.0,194.3 760.0,198.6 770.0,200.4 772.0,202.1 778.0,212.1 782.0,221.0 790.0,221.4 800.0,225.0 810.0,230.0 820.0,235.0 830.0,240.0 836.0,241.0 841.0,237.9" fill="none" stroke="#0a14f5" stroke-width="2.5" stroke-linejoin="round"/>
<circle cx="361.7" cy="240.0" r="1.9" fill="#6a55d8"/>
<circle cx="367.9" cy="243.3" r="1.9" fill="#6a55d8"/>
<circle cx="374.3" cy="244.6" r="1.9" fill="#6a55d8"/>
<circle cx="380.7" cy="236.4" r="1.9" fill="#6a55d8"/>
<circle cx="387.0" cy="237.0" r="1.9" fill="#6a55d8"/>
<circle cx="393.6" cy="233.6" r="1.9" fill="#6a55d8"/>
<circle cx="400.0" cy="237.6" r="1.9" fill="#6a55d8"/>
<circle cx="406.4" cy="240.7" r="1.9" fill="#6a55d8"/>
<circle cx="412.9" cy="235.9" r="1.9" fill="#6a55d8"/>
<circle cx="419.3" cy="231.3" r="1.9" fill="#6a55d8"/>
<circle cx="425.4" cy="232.1" r="1.9" fill="#6a55d8"/>
<circle cx="431.7" cy="225.4" r="1.9" fill="#6a55d8"/>
<circle cx="438.6" cy="220.7" r="1.9" fill="#6a55d8"/>
<circle cx="444.6" cy="225.7" r="1.9" fill="#6a55d8"/>
<circle cx="451.4" cy="228.6" r="1.9" fill="#6a55d8"/>
<circle cx="457.9" cy="229.9" r="1.9" fill="#6a55d8"/>
<circle cx="463.6" cy="235.4" r="1.9" fill="#6a55d8"/>
<circle cx="470.4" cy="237.6" r="1.9" fill="#6a55d8"/>
<circle cx="476.4" cy="236.9" r="1.9" fill="#6a55d8"/>
<circle cx="483.0" cy="235.0" r="1.9" fill="#6a55d8"/>
<circle cx="489.0" cy="237.0" r="1.9" fill="#6a55d8"/>
<circle cx="496.0" cy="238.0" r="1.9" fill="#6a55d8"/>
<circle cx="502.0" cy="237.5" r="1.9" fill="#6a55d8"/>
<circle cx="509.0" cy="237.3" r="1.9" fill="#6a55d8"/>
<circle cx="515.0" cy="237.5" r="1.9" fill="#6a55d8"/>
<circle cx="521.5" cy="237.6" r="1.9" fill="#6a55d8"/>
<circle cx="528.0" cy="237.8" r="1.9" fill="#6a55d8"/>
<circle cx="534.0" cy="238.0" r="1.9" fill="#6a55d8"/>
<circle cx="541.0" cy="238.6" r="1.9" fill="#6a55d8"/>
<circle cx="547.1" cy="237.0" r="1.9" fill="#6a55d8"/>
<circle cx="553.6" cy="235.4" r="1.9" fill="#6a55d8"/>
<circle cx="559.7" cy="229.7" r="1.9" fill="#6a55d8"/>
<circle cx="566.4" cy="221.4" r="1.9" fill="#6a55d8"/>
<circle cx="572.4" cy="217.7" r="1.9" fill="#6a55d8"/>
<circle cx="579.0" cy="215.7" r="1.9" fill="#6a55d8"/>
<circle cx="585.3" cy="215.1" r="1.9" fill="#6a55d8"/>
<circle cx="591.7" cy="222.1" r="1.9" fill="#6a55d8"/>
<circle cx="598.2" cy="228.2" r="1.9" fill="#6a55d8"/>
<circle cx="604.3" cy="230.6" r="1.9" fill="#6a55d8"/>
<circle cx="610.6" cy="233.6" r="1.9" fill="#6a55d8"/>
<circle cx="617.0" cy="234.3" r="1.9" fill="#6a55d8"/>
<circle cx="623.6" cy="235.0" r="1.9" fill="#6a55d8"/>
<circle cx="630.0" cy="236.4" r="1.9" fill="#6a55d8"/>
<circle cx="636.4" cy="237.1" r="1.9" fill="#6a55d8"/>
<circle cx="642.9" cy="237.4" r="1.9" fill="#6a55d8"/>
<circle cx="649.0" cy="237.9" r="1.9" fill="#6a55d8"/>
<circle cx="655.7" cy="237.9" r="1.9" fill="#6a55d8"/>
<circle cx="662.0" cy="237.9" r="1.9" fill="#6a55d8"/>
<circle cx="668.6" cy="238.6" r="1.9" fill="#6a55d8"/>
<circle cx="674.7" cy="238.6" r="1.9" fill="#6a55d8"/>
<circle cx="681.0" cy="238.6" r="1.9" fill="#6a55d8"/>
<circle cx="687.9" cy="237.4" r="1.9" fill="#6a55d8"/>
<circle cx="693.9" cy="236.1" r="1.9" fill="#6a55d8"/>
<circle cx="700.4" cy="233.6" r="1.9" fill="#6a55d8"/>
<circle cx="706.7" cy="234.3" r="1.9" fill="#6a55d8"/>
<circle cx="713.0" cy="232.9" r="1.9" fill="#6a55d8"/>
<circle cx="719.4" cy="228.6" r="1.9" fill="#6a55d8"/>
<circle cx="725.7" cy="226.4" r="1.9" fill="#6a55d8"/>
<circle cx="732.6" cy="221.4" r="1.9" fill="#6a55d8"/>
<circle cx="738.7" cy="216.9" r="1.9" fill="#6a55d8"/>
<circle cx="745.0" cy="211.4" r="1.9" fill="#6a55d8"/>
<circle cx="751.3" cy="205.7" r="1.9" fill="#6a55d8"/>
<circle cx="757.9" cy="205.7" r="1.9" fill="#6a55d8"/>
<circle cx="764.3" cy="205.0" r="1.9" fill="#6a55d8"/>
<circle cx="770.7" cy="203.0" r="1.9" fill="#6a55d8"/>
<circle cx="777.1" cy="214.3" r="1.9" fill="#6a55d8"/>
<circle cx="783.6" cy="219.3" r="1.9" fill="#6a55d8"/>
<circle cx="790.0" cy="222.9" r="1.9" fill="#6a55d8"/>
<circle cx="796.0" cy="227.1" r="1.9" fill="#6a55d8"/>
<circle cx="802.1" cy="228.6" r="1.9" fill="#6a55d8"/>
<circle cx="808.6" cy="228.6" r="1.9" fill="#6a55d8"/>
<circle cx="815.0" cy="230.7" r="1.9" fill="#6a55d8"/>
<circle cx="821.0" cy="231.4" r="1.9" fill="#6a55d8"/>
<circle cx="828.4" cy="232.1" r="1.9" fill="#6a55d8"/>
<circle cx="834.3" cy="233.6" r="1.9" fill="#6a55d8"/>
<circle cx="841.0" cy="235.6" r="1.9" fill="#6a55d8"/>
<line x1="348.5" y1="176.5" x2="842.0" y2="176.5" stroke="#8a8a8a" stroke-width="1"/>
<rect x="348.5" y="177.5" width="493.0" height="78.0" fill="none" stroke="#222" stroke-width="1"/>
<line x1="348.5" y1="266.5" x2="841.5" y2="266.5" stroke="#000" stroke-width="1" stroke-dasharray="2,2"/>
<line x1="348.5" y1="281.5" x2="841.5" y2="281.5" stroke="#000" stroke-width="1" stroke-dasharray="2,2"/>
<line x1="348.5" y1="296.5" x2="841.5" y2="296.5" stroke="#000" stroke-width="1" stroke-dasharray="2,2"/>
<line x1="348.5" y1="311.5" x2="841.5" y2="311.5" stroke="#000" stroke-width="1" stroke-dasharray="2,2"/>
<line x1="348.5" y1="326.5" x2="841.5" y2="326.5" stroke="#000" stroke-width="1" stroke-dasharray="2,2"/>
<line x1="361.5" y1="263.5" x2="361.5" y2="341.5" stroke="#000" stroke-width="1" stroke-dasharray="2,2"/>
<line x1="381.5" y1="263.5" x2="381.5" y2="341.5" stroke="#000" stroke-width="1" stroke-dasharray="2,2"/>
<line x1="400.5" y1="263.5" x2="400.5" y2="341.5" stroke="#000" stroke-width="1" stroke-dasharray="2,2"/>
<line x1="419.5" y1="263.5" x2="419.5" y2="341.5" stroke="#000" stroke-width="1" stroke-dasharray="2,2"/>
<line x1="438.5" y1="263.5" x2="438.5" y2="341.5" stroke="#000" stroke-width="1" stroke-dasharray="2,2"/>
<line x1="457.5" y1="263.5" x2="457.5" y2="341.5" stroke="#000" stroke-width="1" stroke-dasharray="2,2"/>
<line x1="476.5" y1="263.5" x2="476.5" y2="341.5" stroke="#000" stroke-width="1" stroke-dasharray="2,2"/>
<line x1="495.5" y1="263.5" x2="495.5" y2="341.5" stroke="#000" stroke-width="1" stroke-dasharray="2,2"/>
<line x1="515.5" y1="263.5" x2="515.5" y2="341.5" stroke="#000" stroke-width="1" stroke-dasharray="2,2"/>
<line x1="534.5" y1="263.5" x2="534.5" y2="341.5" stroke="#000" stroke-width="1" stroke-dasharray="2,2"/>
<line x1="553.5" y1="263.5" x2="553.5" y2="341.5" stroke="#000" stroke-width="1" stroke-dasharray="2,2"/>
<line x1="572.5" y1="263.5" x2="572.5" y2="341.5" stroke="#000" stroke-width="1" stroke-dasharray="2,2"/>
<line x1="591.5" y1="263.5" x2="591.5" y2="341.5" stroke="#000" stroke-width="1" stroke-dasharray="2,2"/>
<line x1="610.5" y1="263.5" x2="610.5" y2="341.5" stroke="#000" stroke-width="1" stroke-dasharray="2,2"/>
<line x1="629.5" y1="263.5" x2="629.5" y2="341.5" stroke="#000" stroke-width="1" stroke-dasharray="2,2"/>
<line x1="648.5" y1="263.5" x2="648.5" y2="341.5" stroke="#000" stroke-width="1" stroke-dasharray="2,2"/>
<line x1="668.5" y1="263.5" x2="668.5" y2="341.5" stroke="#000" stroke-width="1" stroke-dasharray="2,2"/>
<line x1="687.5" y1="263.5" x2="687.5" y2="341.5" stroke="#000" stroke-width="1" stroke-dasharray="2,2"/>
<line x1="706.5" y1="263.5" x2="706.5" y2="341.5" stroke="#000" stroke-width="1" stroke-dasharray="2,2"/>
<line x1="725.5" y1="263.5" x2="725.5" y2="341.5" stroke="#000" stroke-width="1" stroke-dasharray="2,2"/>
<line x1="744.5" y1="263.5" x2="744.5" y2="341.5" stroke="#000" stroke-width="1" stroke-dasharray="2,2"/>
<line x1="763.5" y1="263.5" x2="763.5" y2="341.5" stroke="#000" stroke-width="1" stroke-dasharray="2,2"/>
<line x1="782.5" y1="263.5" x2="782.5" y2="341.5" stroke="#000" stroke-width="1" stroke-dasharray="2,2"/>
<line x1="802.5" y1="263.5" x2="802.5" y2="341.5" stroke="#000" stroke-width="1" stroke-dasharray="2,2"/>
<line x1="821.5" y1="263.5" x2="821.5" y2="341.5" stroke="#000" stroke-width="1" stroke-dasharray="2,2"/>
<rect x="556.00" y="339.00" width="1.00" height="2.00" fill="#14b814"/>
<rect x="559.00" y="339.00" width="7.00" height="2.00" fill="#14b814"/>
<rect x="562.00" y="336.00" width="1.00" height="5.00" fill="#14b814"/>
<rect x="575.00" y="337.30" width="1.00" height="3.70" fill="#14b814"/>
<rect x="581.00" y="331.10" width="1.00" height="9.90" fill="#14b814"/>
<rect x="588.00" y="332.30" width="1.00" height="8.70" fill="#14b814"/>
<rect x="758.00" y="339.10" width="6.00" height="1.90" fill="#14b814"/>
<rect x="760.00" y="326.60" width="1.00" height="14.40" fill="#14b814"/>
<rect x="764.00" y="332.70" width="7.00" height="8.30" fill="#14b814"/>
<rect x="767.00" y="315.90" width="1.00" height="25.10" fill="#14b814"/>
<rect x="771.00" y="335.90" width="7.00" height="5.10" fill="#14b814"/>
<rect x="773.00" y="300.90" width="1.00" height="40.10" fill="#14b814"/>
<rect x="780.00" y="338.30" width="1.00" height="2.70" fill="#14b814"/>
<rect x="421.00" y="339.30" width="2.60" height="2.40" fill="#e01010"/>
<rect x="427.00" y="339.30" width="2.60" height="2.40" fill="#e01010"/>
<rect x="433.00" y="339.30" width="2.60" height="2.40" fill="#e01010"/>
<rect x="440.00" y="339.30" width="2.60" height="2.40" fill="#e01010"/>
<rect x="446.00" y="339.30" width="2.60" height="2.40" fill="#e01010"/>
<rect x="581.00" y="339.30" width="2.60" height="2.40" fill="#e01010"/>
<rect x="588.00" y="339.30" width="2.60" height="2.40" fill="#e01010"/>
<rect x="594.00" y="339.30" width="2.60" height="2.40" fill="#e01010"/>
<rect x="767.00" y="339.30" width="2.60" height="2.40" fill="#e01010"/>
<rect x="774.00" y="339.30" width="2.60" height="2.40" fill="#e01010"/>
<polyline points="348.0,279.4 355.0,276.9 362.0,279.7 380.0,297.3 394.0,316.6 400.0,330.1 406.0,335.9 419.0,330.9 425.0,329.1 438.0,289.7 457.0,283.4 464.0,288.0 470.0,291.6 477.0,288.7 483.0,287.0 495.0,287.0 503.0,286.6 508.0,283.7 515.0,286.6 522.0,283.0 528.0,280.9 534.0,288.7 540.0,298.3 547.0,298.3 553.0,296.3 559.0,293.0 566.0,271.6 572.0,269.4 579.0,274.4 585.0,283.7 590.0,290.1 598.0,300.9 610.0,298.7 624.0,290.9 630.0,288.7 650.0,280.6 668.0,275.1 675.0,272.7 681.0,274.9 695.0,292.3 707.0,316.9 714.0,320.1 720.0,322.0 725.0,324.9 738.0,319.4 745.0,310.9 752.0,295.9 765.0,284.4 771.0,276.6 777.0,275.1 783.0,277.3 790.0,285.1 796.0,287.3 802.0,283.0 809.0,280.1 815.0,281.3 822.0,278.0 828.0,277.3 834.0,280.1 841.0,291.6" fill="none" stroke="#e8501a" stroke-width="2.1" stroke-linejoin="round"/>
<line x1="348.5" y1="262.5" x2="842.0" y2="262.5" stroke="#8a8a8a" stroke-width="1"/>
<rect x="348.5" y="263.5" width="493.0" height="78.0" fill="none" stroke="#222" stroke-width="1"/>
<line x1="348.5" y1="341.5" x2="841.5" y2="341.5" stroke="#1a8a1a" stroke-width="1" stroke-dasharray="2,2" stroke-dashoffset="2"/>
<clipPath id="pclip"><polygon points="348,382.6 368,384 380,382.9 400,382.6 412,385 420,385.7 428,385.4 438,383.6 451,381.7 460,379.1 470,376.9 478,376.9 495,376.9 515,379.7 533,383.5 547,390.1 560,394.5 578,393.8 590,389 610,376.9 620,373.6 630,372.5 645,368.1 650,367 668,363.7 682,360 695,358.6 705,360 720,367 738,379.1 753,384.6 764,389 771,386.8 778,381.3 800,376.4 815,374.2 841,371.4 841.5,428.5 348.5,428.5"/></clipPath>
<g clip-path="url(#pclip)">
<rect x="348.00" y="350.50" width="104.00" height="78.00" fill="#8cf000" shape-rendering="crispEdges"/>
<rect x="452.00" y="350.50" width="69.00" height="78.00" fill="#bef50a" shape-rendering="crispEdges"/>
<rect x="521.00" y="350.50" width="19.00" height="78.00" fill="#96f00a" shape-rendering="crispEdges"/>
<rect x="540.00" y="350.50" width="15.00" height="78.00" fill="#64f00a" shape-rendering="crispEdges"/>
<rect x="555.00" y="350.50" width="25.00" height="78.00" fill="#5af00a" shape-rendering="crispEdges"/>
<rect x="580.00" y="350.50" width="18.00" height="78.00" fill="#82f00a" shape-rendering="crispEdges"/>
<rect x="598.00" y="350.50" width="27.00" height="78.00" fill="#aaf00a" shape-rendering="crispEdges"/>
<rect x="625.00" y="350.50" width="18.00" height="78.00" fill="#e6f80a" shape-rendering="crispEdges"/>
<rect x="643.00" y="350.50" width="12.00" height="78.00" fill="#fffa00" shape-rendering="crispEdges"/>
<rect x="655.00" y="350.50" width="30.00" height="78.00" fill="#ffcd00" shape-rendering="crispEdges"/>
<rect x="685.00" y="350.50" width="15.00" height="78.00" fill="#ffd700" shape-rendering="crispEdges"/>
<rect x="700.00" y="350.50" width="13.00" height="78.00" fill="#ffcd00" shape-rendering="crispEdges"/>
<rect x="713.00" y="350.50" width="15.00" height="78.00" fill="#fffa00" shape-rendering="crispEdges"/>
<rect x="728.00" y="350.50" width="12.00" height="78.00" fill="#d2f50a" shape-rendering="crispEdges"/>
<rect x="740.00" y="350.50" width="17.00" height="78.00" fill="#96f000" shape-rendering="crispEdges"/>
<rect x="757.00" y="350.50" width="7.00" height="78.00" fill="#5af500" shape-rendering="crispEdges"/>
<rect x="764.00" y="350.50" width="13.00" height="78.00" fill="#96f000" shape-rendering="crispEdges"/>
<rect x="777.00" y="350.50" width="23.00" height="78.00" fill="#c8f500" shape-rendering="crispEdges"/>
<rect x="800.00" y="350.50" width="28.00" height="78.00" fill="#bef50a" shape-rendering="crispEdges"/>
<rect x="828.00" y="350.50" width="14.00" height="78.00" fill="#fffa00" shape-rendering="crispEdges"/>
</g>
<line x1="348.5" y1="371.5" x2="841.5" y2="371.5" stroke="#000" stroke-width="1" stroke-dasharray="2,2"/>
<line x1="348.5" y1="391.5" x2="841.5" y2="391.5" stroke="#000" stroke-width="1" stroke-dasharray="2,2"/>
<line x1="348.5" y1="412.5" x2="841.5" y2="412.5" stroke="#000" stroke-width="1" stroke-dasharray="2,2"/>
<line x1="361.5" y1="350.5" x2="361.5" y2="428.5" stroke="#000" stroke-width="1" stroke-dasharray="2,2"/>
<line x1="381.5" y1="350.5" x2="381.5" y2="428.5" stroke="#000" stroke-width="1" stroke-dasharray="2,2"/>
<line x1="400.5" y1="350.5" x2="400.5" y2="428.5" stroke="#000" stroke-width="1" stroke-dasharray="2,2"/>
<line x1="419.5" y1="350.5" x2="419.5" y2="428.5" stroke="#000" stroke-width="1" stroke-dasharray="2,2"/>
<line x1="438.5" y1="350.5" x2="438.5" y2="428.5" stroke="#000" stroke-width="1" stroke-dasharray="2,2"/>
<line x1="457.5" y1="350.5" x2="457.5" y2="428.5" stroke="#000" stroke-width="1" stroke-dasharray="2,2"/>
<line x1="476.5" y1="350.5" x2="476.5" y2="428.5" stroke="#000" stroke-width="1" stroke-dasharray="2,2"/>
<line x1="495.5" y1="350.5" x2="495.5" y2="428.5" stroke="#000" stroke-width="1" stroke-dasharray="2,2"/>
<line x1="515.5" y1="350.5" x2="515.5" y2="428.5" stroke="#000" stroke-width="1" stroke-dasharray="2,2"/>
<line x1="534.5" y1="350.5" x2="534.5" y2="428.5" stroke="#000" stroke-width="1" stroke-dasharray="2,2"/>
<line x1="553.5" y1="350.5" x2="553.5" y2="428.5" stroke="#000" stroke-width="1" stroke-dasharray="2,2"/>
<line x1="572.5" y1="350.5" x2="572.5" y2="428.5" stroke="#000" stroke-width="1" stroke-dasharray="2,2"/>
<line x1="591.5" y1="350.5" x2="591.5" y2="428.5" stroke="#000" stroke-width="1" stroke-dasharray="2,2"/>
<line x1="610.5" y1="350.5" x2="610.5" y2="428.5" stroke="#000" stroke-width="1" stroke-dasharray="2,2"/>
<line x1="629.5" y1="350.5" x2="629.5" y2="428.5" stroke="#000" stroke-width="1" stroke-dasharray="2,2"/>
<line x1="648.5" y1="350.5" x2="648.5" y2="428.5" stroke="#000" stroke-width="1" stroke-dasharray="2,2"/>
<line x1="668.5" y1="350.5" x2="668.5" y2="428.5" stroke="#000" stroke-width="1" stroke-dasharray="2,2"/>
<line x1="687.5" y1="350.5" x2="687.5" y2="428.5" stroke="#000" stroke-width="1" stroke-dasharray="2,2"/>
<line x1="706.5" y1="350.5" x2="706.5" y2="428.5" stroke="#000" stroke-width="1" stroke-dasharray="2,2"/>
<line x1="725.5" y1="350.5" x2="725.5" y2="428.5" stroke="#000" stroke-width="1" stroke-dasharray="2,2"/>
<line x1="744.5" y1="350.5" x2="744.5" y2="428.5" stroke="#000" stroke-width="1" stroke-dasharray="2,2"/>
<line x1="763.5" y1="350.5" x2="763.5" y2="428.5" stroke="#000" stroke-width="1" stroke-dasharray="2,2"/>
<line x1="782.5" y1="350.5" x2="782.5" y2="428.5" stroke="#000" stroke-width="1" stroke-dasharray="2,2"/>
<line x1="802.5" y1="350.5" x2="802.5" y2="428.5" stroke="#000" stroke-width="1" stroke-dasharray="2,2"/>
<line x1="821.5" y1="350.5" x2="821.5" y2="428.5" stroke="#000" stroke-width="1" stroke-dasharray="2,2"/>
<polyline points="348.0,382.6 368.0,384.0 380.0,382.9 400.0,382.6 412.0,385.0 420.0,385.7 428.0,385.4 438.0,383.6 451.0,381.7 460.0,379.1 470.0,376.9 478.0,376.9 495.0,376.9 515.0,379.7 533.0,383.5 547.0,390.1 560.0,394.5 578.0,393.8 590.0,389.0 610.0,376.9 620.0,373.6 630.0,372.5 645.0,368.1 650.0,367.0 668.0,363.7 682.0,360.0 695.0,358.6 705.0,360.0 720.0,367.0 738.0,379.1 753.0,384.6 764.0,389.0 771.0,386.8 778.0,381.3 800.0,376.4 815.0,374.2 841.0,371.4" fill="none" stroke="#000" stroke-width="2.0" stroke-linejoin="round"/>
<line x1="348.5" y1="349.5" x2="842.0" y2="349.5" stroke="#8a8a8a" stroke-width="1"/>
<rect x="348.5" y="350.5" width="493.0" height="78.0" fill="none" stroke="#222" stroke-width="1"/>
<clipPath id="wclip"><polygon points="348,508.5 361,510.7 368,511.4 374,510.4 378,509.7 381,511 394,509.2 400,507.8 406,506.3 412,505.6 419,503.9 425,502 432,500.2 438,497.7 444,498.2 451,503.9 457,505.9 464,506.1 470,503 483,508 490,505.2 496,504.7 509,506.9 515,505.4 528,506.9 535,501.4 541,497.7 554,495.5 567,494.8 573,495 579,497.7 585,488.2 600,493.3 610,495.5 630,497 650,498.6 668,500.8 682,503 688,500.8 700,500.3 708,499.2 720,496.4 733,494.8 740,496.4 752,502.1 760,501.4 765,503.6 770,501.4 777,493.7 783,502.5 790,500.8 802,499.9 815,498.1 830,495.9 841,493.3 841.5,515.5 348.5,515.5"/></clipPath>
<g clip-path="url(#wclip)">
<rect x="348.00" y="437.50" width="45.00" height="78.00" fill="#00e1ff" shape-rendering="crispEdges"/>
<rect x="393.00" y="437.50" width="19.00" height="78.00" fill="#00befa" shape-rendering="crispEdges"/>
<rect x="412.00" y="437.50" width="13.00" height="78.00" fill="#0078f0" shape-rendering="crispEdges"/>
<rect x="425.00" y="437.50" width="19.00" height="78.00" fill="#003c8c" shape-rendering="crispEdges"/>
<rect x="444.00" y="437.50" width="7.00" height="78.00" fill="#0078f0" shape-rendering="crispEdges"/>
<rect x="451.00" y="437.50" width="82.00" height="78.00" fill="#00d2ff" shape-rendering="crispEdges"/>
<rect x="533.00" y="437.50" width="7.00" height="78.00" fill="#0078f0" shape-rendering="crispEdges"/>
<rect x="540.00" y="437.50" width="13.00" height="78.00" fill="#003c8c" shape-rendering="crispEdges"/>
<rect x="553.00" y="437.50" width="19.00" height="78.00" fill="#008200" shape-rendering="crispEdges"/>
<rect x="572.00" y="437.50" width="8.00" height="78.00" fill="#003c8c" shape-rendering="crispEdges"/>
<rect x="580.00" y="437.50" width="5.00" height="78.00" fill="#00c800" shape-rendering="crispEdges"/>
<rect x="585.00" y="437.50" width="13.00" height="78.00" fill="#14d214" shape-rendering="crispEdges"/>
<rect x="598.00" y="437.50" width="12.00" height="78.00" fill="#008200" shape-rendering="crispEdges"/>
<rect x="610.00" y="437.50" width="45.00" height="78.00" fill="#003c8c" shape-rendering="crispEdges"/>
<rect x="655.00" y="437.50" width="51.00" height="78.00" fill="#0078f0" shape-rendering="crispEdges"/>
<rect x="706.00" y="437.50" width="21.00" height="78.00" fill="#003c8c" shape-rendering="crispEdges"/>
<rect x="727.00" y="437.50" width="12.00" height="78.00" fill="#008200" shape-rendering="crispEdges"/>
<rect x="739.00" y="437.50" width="13.00" height="78.00" fill="#003c8c" shape-rendering="crispEdges"/>
<rect x="752.00" y="437.50" width="18.00" height="78.00" fill="#0078f0" shape-rendering="crispEdges"/>
<rect x="770.00" y="437.50" width="13.00" height="78.00" fill="#003c8c" shape-rendering="crispEdges"/>
<rect x="783.00" y="437.50" width="19.00" height="78.00" fill="#0078f0" shape-rendering="crispEdges"/>
<rect x="802.00" y="437.50" width="32.00" height="78.00" fill="#003c8c" shape-rendering="crispEdges"/>
<rect x="834.00" y="437.50" width="8.00" height="78.00" fill="#008200" shape-rendering="crispEdges"/>
</g>
<line x1="348.5" y1="457.5" x2="841.5" y2="457.5" stroke="#000" stroke-width="1" stroke-dasharray="2,2"/>
<line x1="348.5" y1="476.5" x2="841.5" y2="476.5" stroke="#000" stroke-width="1" stroke-dasharray="2,2"/>
<line x1="348.5" y1="496.5" x2="841.5" y2="496.5" stroke="#000" stroke-width="1" stroke-dasharray="2,2"/>
<line x1="361.5" y1="437.5" x2="361.5" y2="515.5" stroke="#000" stroke-width="1" stroke-dasharray="2,2"/>
<line x1="381.5" y1="437.5" x2="381.5" y2="515.5" stroke="#000" stroke-width="1" stroke-dasharray="2,2"/>
<line x1="400.5" y1="437.5" x2="400.5" y2="515.5" stroke="#000" stroke-width="1" stroke-dasharray="2,2"/>
<line x1="419.5" y1="437.5" x2="419.5" y2="515.5" stroke="#000" stroke-width="1" stroke-dasharray="2,2"/>
<line x1="438.5" y1="437.5" x2="438.5" y2="515.5" stroke="#000" stroke-width="1" stroke-dasharray="2,2"/>
<line x1="457.5" y1="437.5" x2="457.5" y2="515.5" stroke="#000" stroke-width="1" stroke-dasharray="2,2"/>
<line x1="476.5" y1="437.5" x2="476.5" y2="515.5" stroke="#000" stroke-width="1" stroke-dasharray="2,2"/>
<line x1="495.5" y1="437.5" x2="495.5" y2="515.5" stroke="#000" stroke-width="1" stroke-dasharray="2,2"/>
<line x1="515.5" y1="437.5" x2="515.5" y2="515.5" stroke="#000" stroke-width="1" stroke-dasharray="2,2"/>
<line x1="534.5" y1="437.5" x2="534.5" y2="515.5" stroke="#000" stroke-width="1" stroke-dasharray="2,2"/>
<line x1="553.5" y1="437.5" x2="553.5" y2="515.5" stroke="#000" stroke-width="1" stroke-dasharray="2,2"/>
<line x1="572.5" y1="437.5" x2="572.5" y2="515.5" stroke="#000" stroke-width="1" stroke-dasharray="2,2"/>
<line x1="591.5" y1="437.5" x2="591.5" y2="515.5" stroke="#000" stroke-width="1" stroke-dasharray="2,2"/>
<line x1="610.5" y1="437.5" x2="610.5" y2="515.5" stroke="#000" stroke-width="1" stroke-dasharray="2,2"/>
<line x1="629.5" y1="437.5" x2="629.5" y2="515.5" stroke="#000" stroke-width="1" stroke-dasharray="2,2"/>
<line x1="648.5" y1="437.5" x2="648.5" y2="515.5" stroke="#000" stroke-width="1" stroke-dasharray="2,2"/>
<line x1="668.5" y1="437.5" x2="668.5" y2="515.5" stroke="#000" stroke-width="1" stroke-dasharray="2,2"/>
<line x1="687.5" y1="437.5" x2="687.5" y2="515.5" stroke="#000" stroke-width="1" stroke-dasharray="2,2"/>
<line x1="706.5" y1="437.5" x2="706.5" y2="515.5" stroke="#000" stroke-width="1" stroke-dasharray="2,2"/>
<line x1="725.5" y1="437.5" x2="725.5" y2="515.5" stroke="#000" stroke-width="1" stroke-dasharray="2,2"/>
<line x1="744.5" y1="437.5" x2="744.5" y2="515.5" stroke="#000" stroke-width="1" stroke-dasharray="2,2"/>
<line x1="763.5" y1="437.5" x2="763.5" y2="515.5" stroke="#000" stroke-width="1" stroke-dasharray="2,2"/>
<line x1="782.5" y1="437.5" x2="782.5" y2="515.5" stroke="#000" stroke-width="1" stroke-dasharray="2,2"/>
<line x1="802.5" y1="437.5" x2="802.5" y2="515.5" stroke="#000" stroke-width="1" stroke-dasharray="2,2"/>
<line x1="821.5" y1="437.5" x2="821.5" y2="515.5" stroke="#000" stroke-width="1" stroke-dasharray="2,2"/>
<line x1="349.14" y1="502.50" x2="355.52" y2="502.50" stroke="#ff0000" stroke-width="1.2"/>
<line x1="355.52" y1="504.50" x2="361.90" y2="504.50" stroke="#ff0000" stroke-width="1.2"/>
<line x1="361.90" y1="507.50" x2="368.28" y2="507.50" stroke="#ff0000" stroke-width="1.2"/>
<line x1="368.28" y1="506.50" x2="374.66" y2="506.50" stroke="#ff0000" stroke-width="1.2"/>
<line x1="374.66" y1="504.50" x2="381.04" y2="504.50" stroke="#ff0000" stroke-width="1.2"/>
<line x1="381.04" y1="500.50" x2="387.42" y2="500.50" stroke="#ff0000" stroke-width="1.2"/>
<line x1="387.42" y1="494.50" x2="393.80" y2="494.50" stroke="#ff0000" stroke-width="1.2"/>
<line x1="393.80" y1="489.50" x2="400.18" y2="489.50" stroke="#ff0000" stroke-width="1.2"/>
<line x1="400.18" y1="487.50" x2="406.56" y2="487.50" stroke="#ff0000" stroke-width="1.2"/>
<line x1="406.56" y1="479.50" x2="412.94" y2="479.50" stroke="#ff0000" stroke-width="1.2"/>
<line x1="412.94" y1="475.50" x2="419.32" y2="475.50" stroke="#ff0000" stroke-width="1.2"/>
<line x1="419.32" y1="471.50" x2="425.70" y2="471.50" stroke="#ff0000" stroke-width="1.2"/>
<line x1="425.70" y1="469.50" x2="432.08" y2="469.50" stroke="#ff0000" stroke-width="1.2"/>
<line x1="432.08" y1="466.50" x2="438.46" y2="466.50" stroke="#ff0000" stroke-width="1.2"/>
<line x1="438.46" y1="469.50" x2="444.84" y2="469.50" stroke="#ff0000" stroke-width="1.2"/>
<line x1="444.84" y1="476.50" x2="451.22" y2="476.50" stroke="#ff0000" stroke-width="1.2"/>
<line x1="451.22" y1="480.50" x2="457.60" y2="480.50" stroke="#ff0000" stroke-width="1.2"/>
<line x1="457.60" y1="479.50" x2="463.98" y2="479.50" stroke="#ff0000" stroke-width="1.2"/>
<line x1="463.98" y1="478.50" x2="470.36" y2="478.50" stroke="#ff0000" stroke-width="1.2"/>
<line x1="470.36" y1="478.50" x2="476.74" y2="478.50" stroke="#ff0000" stroke-width="1.2"/>
<line x1="476.74" y1="483.50" x2="483.12" y2="483.50" stroke="#ff0000" stroke-width="1.2"/>
<line x1="483.12" y1="482.50" x2="489.50" y2="482.50" stroke="#ff0000" stroke-width="1.2"/>
<line x1="489.50" y1="477.50" x2="495.88" y2="477.50" stroke="#ff0000" stroke-width="1.2"/>
<line x1="495.88" y1="478.50" x2="502.26" y2="478.50" stroke="#ff0000" stroke-width="1.2"/>
<line x1="502.26" y1="481.50" x2="508.64" y2="481.50" stroke="#ff0000" stroke-width="1.2"/>
<line x1="508.64" y1="478.50" x2="515.02" y2="478.50" stroke="#ff0000" stroke-width="1.2"/>
<line x1="515.02" y1="480.50" x2="521.40" y2="480.50" stroke="#ff0000" stroke-width="1.2"/>
<line x1="521.40" y1="485.50" x2="527.78" y2="485.50" stroke="#ff0000" stroke-width="1.2"/>
<line x1="527.78" y1="477.50" x2="534.16" y2="477.50" stroke="#ff0000" stroke-width="1.2"/>
<line x1="534.16" y1="471.50" x2="540.54" y2="471.50" stroke="#ff0000" stroke-width="1.2"/>
<line x1="540.54" y1="470.50" x2="546.92" y2="470.50" stroke="#ff0000" stroke-width="1.2"/>
<line x1="546.92" y1="462.50" x2="553.30" y2="462.50" stroke="#ff0000" stroke-width="1.2"/>
<line x1="553.30" y1="458.50" x2="559.68" y2="458.50" stroke="#ff0000" stroke-width="1.2"/>
<line x1="559.68" y1="462.50" x2="566.06" y2="462.50" stroke="#ff0000" stroke-width="1.2"/>
<line x1="566.06" y1="462.50" x2="572.44" y2="462.50" stroke="#ff0000" stroke-width="1.2"/>
<line x1="572.44" y1="462.50" x2="578.82" y2="462.50" stroke="#ff0000" stroke-width="1.2"/>
<line x1="578.82" y1="447.50" x2="585.20" y2="447.50" stroke="#ff0000" stroke-width="1.2"/>
<line x1="585.20" y1="445.50" x2="591.58" y2="445.50" stroke="#ff0000" stroke-width="1.2"/>
<line x1="591.58" y1="455.50" x2="597.96" y2="455.50" stroke="#ff0000" stroke-width="1.2"/>
<line x1="597.96" y1="458.50" x2="604.34" y2="458.50" stroke="#ff0000" stroke-width="1.2"/>
<line x1="604.34" y1="467.50" x2="610.72" y2="467.50" stroke="#ff0000" stroke-width="1.2"/>
<line x1="610.72" y1="468.50" x2="617.10" y2="468.50" stroke="#ff0000" stroke-width="1.2"/>
<line x1="617.10" y1="468.50" x2="623.48" y2="468.50" stroke="#ff0000" stroke-width="1.2"/>
<line x1="623.48" y1="468.50" x2="629.86" y2="468.50" stroke="#ff0000" stroke-width="1.2"/>
<line x1="629.86" y1="470.50" x2="636.24" y2="470.50" stroke="#ff0000" stroke-width="1.2"/>
<line x1="636.24" y1="471.50" x2="642.62" y2="471.50" stroke="#ff0000" stroke-width="1.2"/>
<line x1="642.62" y1="471.50" x2="649.00" y2="471.50" stroke="#ff0000" stroke-width="1.2"/>
<line x1="649.00" y1="474.50" x2="655.38" y2="474.50" stroke="#ff0000" stroke-width="1.2"/>
<line x1="655.38" y1="476.50" x2="661.76" y2="476.50" stroke="#ff0000" stroke-width="1.2"/>
<line x1="661.76" y1="475.50" x2="668.14" y2="475.50" stroke="#ff0000" stroke-width="1.2"/>
<line x1="668.14" y1="477.50" x2="674.52" y2="477.50" stroke="#ff0000" stroke-width="1.2"/>
<line x1="674.52" y1="480.50" x2="680.90" y2="480.50" stroke="#ff0000" stroke-width="1.2"/>
<line x1="680.90" y1="477.50" x2="687.28" y2="477.50" stroke="#ff0000" stroke-width="1.2"/>
<line x1="687.28" y1="476.50" x2="693.66" y2="476.50" stroke="#ff0000" stroke-width="1.2"/>
<line x1="693.66" y1="477.50" x2="700.04" y2="477.50" stroke="#ff0000" stroke-width="1.2"/>
<line x1="700.04" y1="472.50" x2="706.42" y2="472.50" stroke="#ff0000" stroke-width="1.2"/>
<line x1="706.42" y1="472.50" x2="712.80" y2="472.50" stroke="#ff0000" stroke-width="1.2"/>
<line x1="712.80" y1="470.50" x2="719.18" y2="470.50" stroke="#ff0000" stroke-width="1.2"/>
<line x1="719.18" y1="465.50" x2="725.56" y2="465.50" stroke="#ff0000" stroke-width="1.2"/>
<line x1="725.56" y1="462.50" x2="731.94" y2="462.50" stroke="#ff0000" stroke-width="1.2"/>
<line x1="731.94" y1="461.50" x2="738.32" y2="461.50" stroke="#ff0000" stroke-width="1.2"/>
<line x1="738.32" y1="465.50" x2="744.70" y2="465.50" stroke="#ff0000" stroke-width="1.2"/>
<line x1="744.70" y1="471.50" x2="751.08" y2="471.50" stroke="#ff0000" stroke-width="1.2"/>
<line x1="751.08" y1="478.50" x2="757.46" y2="478.50" stroke="#ff0000" stroke-width="1.2"/>
<line x1="757.46" y1="470.50" x2="763.84" y2="470.50" stroke="#ff0000" stroke-width="1.2"/>
<line x1="763.84" y1="471.50" x2="770.22" y2="471.50" stroke="#ff0000" stroke-width="1.2"/>
<line x1="770.22" y1="446.50" x2="776.60" y2="446.50" stroke="#ff0000" stroke-width="1.2"/>
<line x1="776.60" y1="455.50" x2="782.98" y2="455.50" stroke="#ff0000" stroke-width="1.2"/>
<line x1="782.98" y1="474.50" x2="789.36" y2="474.50" stroke="#ff0000" stroke-width="1.2"/>
<line x1="789.36" y1="480.50" x2="795.74" y2="480.50" stroke="#ff0000" stroke-width="1.2"/>
<line x1="795.74" y1="477.50" x2="802.12" y2="477.50" stroke="#ff0000" stroke-width="1.2"/>
<line x1="802.12" y1="476.50" x2="808.50" y2="476.50" stroke="#ff0000" stroke-width="1.2"/>
<line x1="808.50" y1="471.50" x2="814.88" y2="471.50" stroke="#ff0000" stroke-width="1.2"/>
<line x1="814.88" y1="471.50" x2="821.26" y2="471.50" stroke="#ff0000" stroke-width="1.2"/>
<line x1="821.26" y1="471.50" x2="827.64" y2="471.50" stroke="#ff0000" stroke-width="1.2"/>
<line x1="827.64" y1="466.50" x2="834.02" y2="466.50" stroke="#ff0000" stroke-width="1.2"/>
<line x1="834.02" y1="461.50" x2="840.40" y2="461.50" stroke="#ff0000" stroke-width="1.2"/>
<polyline points="348.0,508.5 361.0,510.7 368.0,511.4 374.0,510.4 378.0,509.7 381.0,511.0 394.0,509.2 400.0,507.8 406.0,506.3 412.0,505.6 419.0,503.9 425.0,502.0 432.0,500.2 438.0,497.7 444.0,498.2 451.0,503.9 457.0,505.9 464.0,506.1 470.0,503.0 483.0,508.0 490.0,505.2 496.0,504.7 509.0,506.9 515.0,505.4 528.0,506.9 535.0,501.4 541.0,497.7 554.0,495.5 567.0,494.8 573.0,495.0 579.0,497.7 585.0,488.2 600.0,493.3 610.0,495.5 630.0,497.0 650.0,498.6 668.0,500.8 682.0,503.0 688.0,500.8 700.0,500.3 708.0,499.2 720.0,496.4 733.0,494.8 740.0,496.4 752.0,502.1 760.0,501.4 765.0,503.6 770.0,501.4 777.0,493.7 783.0,502.5 790.0,500.8 802.0,499.9 815.0,498.1 830.0,495.9 841.0,493.3" fill="none" stroke="#00008c" stroke-width="2.0" stroke-linejoin="round"/>
<line x1="348.5" y1="436.5" x2="842.0" y2="436.5" stroke="#8a8a8a" stroke-width="1"/>
<rect x="348.5" y="437.5" width="493.0" height="78.0" fill="none" stroke="#222" stroke-width="1"/>
<line x1="361.5" y1="521.5" x2="361.5" y2="552.5" stroke="#000" stroke-width="1" stroke-dasharray="2,2"/>
<line x1="381.5" y1="521.5" x2="381.5" y2="552.5" stroke="#000" stroke-width="1" stroke-dasharray="2,2"/>
<line x1="400.5" y1="521.5" x2="400.5" y2="552.5" stroke="#000" stroke-width="1" stroke-dasharray="2,2"/>
<line x1="419.5" y1="521.5" x2="419.5" y2="552.5" stroke="#000" stroke-width="1" stroke-dasharray="2,2"/>
<line x1="438.5" y1="521.5" x2="438.5" y2="552.5" stroke="#000" stroke-width="1" stroke-dasharray="2,2"/>
<line x1="457.5" y1="521.5" x2="457.5" y2="552.5" stroke="#000" stroke-width="1" stroke-dasharray="2,2"/>
<line x1="476.5" y1="521.5" x2="476.5" y2="552.5" stroke="#000" stroke-width="1" stroke-dasharray="2,2"/>
<line x1="495.5" y1="521.5" x2="495.5" y2="552.5" stroke="#000" stroke-width="1" stroke-dasharray="2,2"/>
<line x1="515.5" y1="521.5" x2="515.5" y2="552.5" stroke="#000" stroke-width="1" stroke-dasharray="2,2"/>
<line x1="534.5" y1="521.5" x2="534.5" y2="552.5" stroke="#000" stroke-width="1" stroke-dasharray="2,2"/>
<line x1="553.5" y1="521.5" x2="553.5" y2="552.5" stroke="#000" stroke-width="1" stroke-dasharray="2,2"/>
<line x1="572.5" y1="521.5" x2="572.5" y2="552.5" stroke="#000" stroke-width="1" stroke-dasharray="2,2"/>
<line x1="591.5" y1="521.5" x2="591.5" y2="552.5" stroke="#000" stroke-width="1" stroke-dasharray="2,2"/>
<line x1="610.5" y1="521.5" x2="610.5" y2="552.5" stroke="#000" stroke-width="1" stroke-dasharray="2,2"/>
<line x1="629.5" y1="521.5" x2="629.5" y2="552.5" stroke="#000" stroke-width="1" stroke-dasharray="2,2"/>
<line x1="648.5" y1="521.5" x2="648.5" y2="552.5" stroke="#000" stroke-width="1" stroke-dasharray="2,2"/>
<line x1="668.5" y1="521.5" x2="668.5" y2="552.5" stroke="#000" stroke-width="1" stroke-dasharray="2,2"/>
<line x1="687.5" y1="521.5" x2="687.5" y2="552.5" stroke="#000" stroke-width="1" stroke-dasharray="2,2"/>
<line x1="706.5" y1="521.5" x2="706.5" y2="552.5" stroke="#000" stroke-width="1" stroke-dasharray="2,2"/>
<line x1="725.5" y1="521.5" x2="725.5" y2="552.5" stroke="#000" stroke-width="1" stroke-dasharray="2,2"/>
<line x1="744.5" y1="521.5" x2="744.5" y2="552.5" stroke="#000" stroke-width="1" stroke-dasharray="2,2"/>
<line x1="763.5" y1="521.5" x2="763.5" y2="552.5" stroke="#000" stroke-width="1" stroke-dasharray="2,2"/>
<line x1="782.5" y1="521.5" x2="782.5" y2="552.5" stroke="#000" stroke-width="1" stroke-dasharray="2,2"/>
<line x1="802.5" y1="521.5" x2="802.5" y2="552.5" stroke="#000" stroke-width="1" stroke-dasharray="2,2"/>
<line x1="821.5" y1="521.5" x2="821.5" y2="552.5" stroke="#000" stroke-width="1" stroke-dasharray="2,2"/>
<line x1="346.16" y1="530.49" x2="349.84" y2="538.04" stroke="#1010aa" stroke-width="1.6"/>
<polygon points="352.1,542.7 347.2,539.3 352.4,536.8" fill="#1010aa"/>
<line x1="351.72" y1="530.96" x2="356.41" y2="537.93" stroke="#1010aa" stroke-width="1.6"/>
<polygon points="359.3,542.2 354.0,539.5 358.8,536.3" fill="#1010aa"/>
<line x1="359.69" y1="530.17" x2="362.42" y2="538.11" stroke="#1010aa" stroke-width="1.6"/>
<polygon points="364.1,543.0 359.7,539.1 365.2,537.2" fill="#1010aa"/>
<line x1="361.93" y1="539.04" x2="369.77" y2="536.03" stroke="#1010aa" stroke-width="1.6"/>
<polygon points="374.6,534.2 370.8,538.7 368.7,533.3" fill="#1010aa"/>
<line x1="370.11" y1="541.65" x2="375.73" y2="535.41" stroke="#1010aa" stroke-width="1.6"/>
<polygon points="379.2,531.5 377.9,537.4 373.6,533.5" fill="#1010aa"/>
<line x1="377.34" y1="542.30" x2="381.91" y2="535.26" stroke="#1010aa" stroke-width="1.6"/>
<polygon points="384.7,530.9 384.3,536.8 379.5,533.7" fill="#1010aa"/>
<line x1="385.32" y1="543.07" x2="387.91" y2="535.08" stroke="#1010aa" stroke-width="1.6"/>
<polygon points="389.5,530.1 390.7,536.0 385.2,534.2" fill="#1010aa"/>
<line x1="390.71" y1="542.66" x2="394.53" y2="535.17" stroke="#1010aa" stroke-width="1.6"/>
<polygon points="396.9,530.5 397.1,536.5 391.9,533.9" fill="#1010aa"/>
<line x1="395.29" y1="541.32" x2="401.33" y2="535.49" stroke="#1010aa" stroke-width="1.6"/>
<polygon points="405.1,531.9 403.3,537.6 399.3,533.4" fill="#1010aa"/>
<line x1="402.01" y1="541.65" x2="407.63" y2="535.41" stroke="#1010aa" stroke-width="1.6"/>
<polygon points="411.1,531.5 409.8,537.4 405.5,533.5" fill="#1010aa"/>
<line x1="407.24" y1="540.30" x2="414.28" y2="535.73" stroke="#1010aa" stroke-width="1.6"/>
<polygon points="418.6,532.9 415.9,538.2 412.7,533.3" fill="#1010aa"/>
<line x1="412.52" y1="536.60" x2="420.92" y2="536.60" stroke="#1010aa" stroke-width="1.6"/>
<polygon points="426.1,536.6 420.9,539.5 420.9,533.7" fill="#1010aa"/>
<line x1="418.97" y1="535.65" x2="427.28" y2="536.82" stroke="#1010aa" stroke-width="1.6"/>
<polygon points="432.4,537.5 426.9,539.7 427.7,534.0" fill="#1010aa"/>
<line x1="425.43" y1="535.19" x2="433.65" y2="536.93" stroke="#1010aa" stroke-width="1.6"/>
<polygon points="438.7,538.0 433.0,539.8 434.2,534.1" fill="#1010aa"/>
<line x1="433.65" y1="531.79" x2="439.59" y2="537.73" stroke="#1010aa" stroke-width="1.6"/>
<polygon points="443.3,541.4 437.5,539.8 441.6,535.7" fill="#1010aa"/>
<line x1="441.14" y1="530.90" x2="445.71" y2="537.94" stroke="#1010aa" stroke-width="1.6"/>
<polygon points="448.5,542.3 443.3,539.5 448.1,536.4" fill="#1010aa"/>
<line x1="448.56" y1="530.34" x2="451.85" y2="538.07" stroke="#1010aa" stroke-width="1.6"/>
<polygon points="453.9,542.9 449.2,539.2 454.5,536.9" fill="#1010aa"/>
<line x1="454.83" y1="530.39" x2="458.25" y2="538.06" stroke="#1010aa" stroke-width="1.6"/>
<polygon points="460.4,542.8 455.6,539.2 460.9,536.9" fill="#1010aa"/>
<line x1="458.93" y1="532.05" x2="465.17" y2="537.67" stroke="#1010aa" stroke-width="1.6"/>
<polygon points="469.0,541.2 463.2,539.8 467.1,535.5" fill="#1010aa"/>
<line x1="465.00" y1="532.41" x2="471.62" y2="537.59" stroke="#1010aa" stroke-width="1.6"/>
<polygon points="475.7,540.8 469.8,539.9 473.4,535.3" fill="#1010aa"/>
<line x1="470.85" y1="540.00" x2="478.13" y2="535.80" stroke="#1010aa" stroke-width="1.6"/>
<polygon points="482.6,533.2 479.6,538.3 476.7,533.3" fill="#1010aa"/>
<line x1="478.48" y1="541.57" x2="484.21" y2="535.43" stroke="#1010aa" stroke-width="1.6"/>
<polygon points="487.8,531.6 486.3,537.4 482.1,533.5" fill="#1010aa"/>
<line x1="483.61" y1="540.00" x2="490.89" y2="535.80" stroke="#1010aa" stroke-width="1.6"/>
<polygon points="495.4,533.2 492.3,538.3 489.4,533.3" fill="#1010aa"/>
<line x1="489.72" y1="539.47" x2="497.33" y2="535.92" stroke="#1010aa" stroke-width="1.6"/>
<polygon points="502.0,533.7 498.6,538.6 496.1,533.3" fill="#1010aa"/>
<line x1="496.90" y1="540.79" x2="503.52" y2="535.61" stroke="#1010aa" stroke-width="1.6"/>
<polygon points="507.6,532.4 505.3,537.9 501.7,533.3" fill="#1010aa"/>
<line x1="504.09" y1="541.65" x2="509.71" y2="535.41" stroke="#1010aa" stroke-width="1.6"/>
<polygon points="513.2,531.5 511.9,537.4 507.6,533.5" fill="#1010aa"/>
<line x1="510.47" y1="541.65" x2="516.09" y2="535.41" stroke="#1010aa" stroke-width="1.6"/>
<polygon points="519.6,531.5 518.2,537.4 513.9,533.5" fill="#1010aa"/>
<line x1="516.94" y1="541.73" x2="522.45" y2="535.39" stroke="#1010aa" stroke-width="1.6"/>
<polygon points="525.9,531.5 524.6,537.3 520.3,533.5" fill="#1010aa"/>
<line x1="525.23" y1="542.90" x2="528.38" y2="535.12" stroke="#1010aa" stroke-width="1.6"/>
<polygon points="530.3,530.3 531.1,536.2 525.7,534.0" fill="#1010aa"/>
<line x1="531.18" y1="542.71" x2="534.86" y2="535.16" stroke="#1010aa" stroke-width="1.6"/>
<polygon points="537.1,530.5 537.5,536.4 532.3,533.9" fill="#1010aa"/>
<line x1="537.77" y1="542.81" x2="541.19" y2="535.14" stroke="#1010aa" stroke-width="1.6"/>
<polygon points="543.3,530.4 543.8,536.3 538.5,534.0" fill="#1010aa"/>
<line x1="544.37" y1="542.90" x2="547.52" y2="535.12" stroke="#1010aa" stroke-width="1.6"/>
<polygon points="549.5,530.3 550.2,536.2 544.8,534.0" fill="#1010aa"/>
<line x1="551.09" y1="543.03" x2="553.82" y2="535.09" stroke="#1010aa" stroke-width="1.6"/>
<polygon points="555.5,530.2 556.6,536.0 551.1,534.1" fill="#1010aa"/>
<line x1="555.98" y1="542.30" x2="560.55" y2="535.26" stroke="#1010aa" stroke-width="1.6"/>
<polygon points="563.4,530.9 563.0,536.8 558.1,533.7" fill="#1010aa"/>
<line x1="561.25" y1="541.41" x2="567.19" y2="535.47" stroke="#1010aa" stroke-width="1.6"/>
<polygon points="570.9,531.8 569.2,537.5 565.1,533.4" fill="#1010aa"/>
<line x1="566.38" y1="539.69" x2="573.87" y2="535.87" stroke="#1010aa" stroke-width="1.6"/>
<polygon points="578.5,533.5 575.2,538.5 572.5,533.3" fill="#1010aa"/>
<line x1="572.66" y1="539.47" x2="580.27" y2="535.92" stroke="#1010aa" stroke-width="1.6"/>
<polygon points="585.0,533.7 581.5,538.6 579.0,533.3" fill="#1010aa"/>
<line x1="578.60" y1="534.95" x2="586.75" y2="536.99" stroke="#1010aa" stroke-width="1.6"/>
<polygon points="591.8,538.2 586.1,539.8 587.5,534.2" fill="#1010aa"/>
<line x1="585.11" y1="534.50" x2="593.10" y2="537.09" stroke="#1010aa" stroke-width="1.6"/>
<polygon points="598.0,538.7 592.2,539.9 594.0,534.3" fill="#1010aa"/>
<line x1="591.46" y1="534.61" x2="599.49" y2="537.07" stroke="#1010aa" stroke-width="1.6"/>
<polygon points="604.5,538.6 598.6,539.8 600.3,534.3" fill="#1010aa"/>
<line x1="597.77" y1="534.84" x2="605.89" y2="537.01" stroke="#1010aa" stroke-width="1.6"/>
<polygon points="610.9,538.4 605.1,539.8 606.6,534.2" fill="#1010aa"/>
<line x1="603.95" y1="536.01" x2="612.31" y2="536.74" stroke="#1010aa" stroke-width="1.6"/>
<polygon points="617.5,537.2 612.1,539.6 612.6,533.9" fill="#1010aa"/>
<line x1="610.31" y1="536.24" x2="618.70" y2="536.68" stroke="#1010aa" stroke-width="1.6"/>
<polygon points="623.9,537.0 618.5,539.6 618.8,533.8" fill="#1010aa"/>
<line x1="616.68" y1="536.60" x2="625.08" y2="536.60" stroke="#1010aa" stroke-width="1.6"/>
<polygon points="630.3,536.6 625.1,539.5 625.1,533.7" fill="#1010aa"/>
<line x1="623.06" y1="536.60" x2="631.46" y2="536.60" stroke="#1010aa" stroke-width="1.6"/>
<polygon points="636.7,536.6 631.5,539.5 631.5,533.7" fill="#1010aa"/>
<line x1="629.44" y1="536.60" x2="637.84" y2="536.60" stroke="#1010aa" stroke-width="1.6"/>
<polygon points="643.0,536.6 637.8,539.5 637.8,533.7" fill="#1010aa"/>
<line x1="635.82" y1="536.84" x2="644.22" y2="536.54" stroke="#1010aa" stroke-width="1.6"/>
<polygon points="649.4,536.4 644.3,539.4 644.1,533.6" fill="#1010aa"/>
<line x1="642.21" y1="536.96" x2="650.60" y2="536.52" stroke="#1010aa" stroke-width="1.6"/>
<polygon points="655.8,536.2 650.7,539.4 650.4,533.6" fill="#1010aa"/>
<line x1="648.61" y1="537.19" x2="656.97" y2="536.46" stroke="#1010aa" stroke-width="1.6"/>
<polygon points="662.2,536.0 657.2,539.3 656.7,533.6" fill="#1010aa"/>
<line x1="654.99" y1="537.19" x2="663.35" y2="536.46" stroke="#1010aa" stroke-width="1.6"/>
<polygon points="668.5,536.0 663.6,539.3 663.1,533.6" fill="#1010aa"/>
<line x1="661.37" y1="537.19" x2="669.73" y2="536.46" stroke="#1010aa" stroke-width="1.6"/>
<polygon points="674.9,536.0 670.0,539.3 669.5,533.6" fill="#1010aa"/>
<line x1="667.75" y1="537.19" x2="676.11" y2="536.46" stroke="#1010aa" stroke-width="1.6"/>
<polygon points="681.3,536.0 676.4,539.3 675.9,533.6" fill="#1010aa"/>
<line x1="674.17" y1="537.55" x2="682.48" y2="536.38" stroke="#1010aa" stroke-width="1.6"/>
<polygon points="687.6,535.7 682.9,539.2 682.1,533.5" fill="#1010aa"/>
<line x1="680.55" y1="537.55" x2="688.86" y2="536.38" stroke="#1010aa" stroke-width="1.6"/>
<polygon points="694.0,535.7 689.3,539.2 688.5,533.5" fill="#1010aa"/>
<line x1="686.96" y1="537.78" x2="695.24" y2="536.32" stroke="#1010aa" stroke-width="1.6"/>
<polygon points="700.4,535.4 695.7,539.2 694.7,533.5" fill="#1010aa"/>
<line x1="694.15" y1="540.00" x2="701.43" y2="535.80" stroke="#1010aa" stroke-width="1.6"/>
<polygon points="705.9,533.2 702.9,538.3 700.0,533.3" fill="#1010aa"/>
<line x1="700.42" y1="539.79" x2="707.83" y2="535.85" stroke="#1010aa" stroke-width="1.6"/>
<polygon points="712.4,533.4 709.2,538.4 706.5,533.3" fill="#1010aa"/>
<line x1="707.99" y1="541.41" x2="713.93" y2="535.47" stroke="#1010aa" stroke-width="1.6"/>
<polygon points="717.6,531.8 716.0,537.5 711.9,533.4" fill="#1010aa"/>
<line x1="714.72" y1="541.73" x2="720.23" y2="535.39" stroke="#1010aa" stroke-width="1.6"/>
<polygon points="723.6,531.5 722.4,537.3 718.0,533.5" fill="#1010aa"/>
<line x1="721.47" y1="542.03" x2="726.52" y2="535.32" stroke="#1010aa" stroke-width="1.6"/>
<polygon points="729.7,531.2 728.8,537.1 724.2,533.6" fill="#1010aa"/>
<line x1="727.85" y1="542.03" x2="732.90" y2="535.32" stroke="#1010aa" stroke-width="1.6"/>
<polygon points="736.0,531.2 735.2,537.1 730.6,533.6" fill="#1010aa"/>
<line x1="734.42" y1="542.17" x2="739.24" y2="535.29" stroke="#1010aa" stroke-width="1.6"/>
<polygon points="742.2,531.0 741.6,537.0 736.9,533.6" fill="#1010aa"/>
<line x1="740.15" y1="541.65" x2="745.77" y2="535.41" stroke="#1010aa" stroke-width="1.6"/>
<polygon points="749.3,531.5 747.9,537.4 743.6,533.5" fill="#1010aa"/>
<line x1="748.53" y1="542.90" x2="751.68" y2="535.12" stroke="#1010aa" stroke-width="1.6"/>
<polygon points="753.6,530.3 754.4,536.2 749.0,534.0" fill="#1010aa"/>
<line x1="754.69" y1="542.81" x2="758.11" y2="535.14" stroke="#1010aa" stroke-width="1.6"/>
<polygon points="760.2,530.4 760.8,536.3 755.5,534.0" fill="#1010aa"/>
<line x1="760.54" y1="542.55" x2="764.62" y2="535.20" stroke="#1010aa" stroke-width="1.6"/>
<polygon points="767.1,530.7 767.2,536.6 762.1,533.8" fill="#1010aa"/>
<line x1="764.79" y1="540.69" x2="771.50" y2="535.64" stroke="#1010aa" stroke-width="1.6"/>
<polygon points="775.7,532.5 773.2,538.0 769.8,533.3" fill="#1010aa"/>
<line x1="771.79" y1="531.79" x2="777.73" y2="537.73" stroke="#1010aa" stroke-width="1.6"/>
<polygon points="781.4,541.4 775.7,539.8 779.8,535.7" fill="#1010aa"/>
<line x1="776.19" y1="536.96" x2="784.58" y2="536.52" stroke="#1010aa" stroke-width="1.6"/>
<polygon points="789.8,536.2 784.7,539.4 784.4,533.6" fill="#1010aa"/>
<line x1="782.57" y1="536.96" x2="790.96" y2="536.52" stroke="#1010aa" stroke-width="1.6"/>
<polygon points="796.2,536.2 791.1,539.4 790.8,533.6" fill="#1010aa"/>
<line x1="788.95" y1="536.96" x2="797.34" y2="536.52" stroke="#1010aa" stroke-width="1.6"/>
<polygon points="802.5,536.2 797.5,539.4 797.2,533.6" fill="#1010aa"/>
<line x1="795.33" y1="536.96" x2="803.72" y2="536.52" stroke="#1010aa" stroke-width="1.6"/>
<polygon points="808.9,536.2 803.9,539.4 803.6,533.6" fill="#1010aa"/>
<line x1="801.71" y1="536.96" x2="810.10" y2="536.52" stroke="#1010aa" stroke-width="1.6"/>
<polygon points="815.3,536.2 810.2,539.4 809.9,533.6" fill="#1010aa"/>
<line x1="808.09" y1="536.96" x2="816.48" y2="536.52" stroke="#1010aa" stroke-width="1.6"/>
<polygon points="821.7,536.2 816.6,539.4 816.3,533.6" fill="#1010aa"/>
<line x1="814.47" y1="536.96" x2="822.86" y2="536.52" stroke="#1010aa" stroke-width="1.6"/>
<polygon points="828.1,536.2 823.0,539.4 822.7,533.6" fill="#1010aa"/>
<line x1="820.85" y1="536.96" x2="829.24" y2="536.52" stroke="#1010aa" stroke-width="1.6"/>
<polygon points="834.4,536.2 829.4,539.4 829.1,533.6" fill="#1010aa"/>
<line x1="827.23" y1="536.96" x2="835.62" y2="536.52" stroke="#1010aa" stroke-width="1.6"/>
<polygon points="840.8,536.2 835.8,539.4 835.5,533.6" fill="#1010aa"/>
<line x1="833.61" y1="536.96" x2="842.00" y2="536.52" stroke="#1010aa" stroke-width="1.6"/>
<polygon points="847.2,536.2 842.1,539.4 841.8,533.6" fill="#1010aa"/>
<rect x="348.5" y="521.5" width="493.0" height="31.0" rx="2" fill="none" stroke="#222" stroke-width="1"/>
<line x1="349.50" y1="552.00" x2="840.50" y2="552.00" stroke="#777" stroke-width="1.5"/>
<rect x="348.50" y="557.50" width="493.00" height="79.00" fill="#87cefa"/>
<rect x="348.50" y="557.50" width="20.10" height="79.00" fill="#7ec2ee"/>
<rect x="452.20" y="557.50" width="69.60" height="79.00" fill="#7ec2ee"/>
<rect x="606.20" y="557.50" width="68.60" height="79.00" fill="#7ec2ee"/>
<rect x="759.20" y="557.50" width="68.60" height="79.00" fill="#7ec2ee"/>
<line x1="348.5" y1="558.5" x2="841.5" y2="558.5" stroke="#000" stroke-width="1" stroke-dasharray="2,2"/>
<line x1="348.5" y1="577.5" x2="841.5" y2="577.5" stroke="#000" stroke-width="1" stroke-dasharray="2,2"/>
<line x1="348.5" y1="597.5" x2="841.5" y2="597.5" stroke="#000" stroke-width="1" stroke-dasharray="2,2"/>
<line x1="348.5" y1="616.5" x2="841.5" y2="616.5" stroke="#000" stroke-width="1" stroke-dasharray="2,2"/>
<line x1="361.5" y1="557.5" x2="361.5" y2="636.5" stroke="#000" stroke-width="1" stroke-dasharray="2,2"/>
<line x1="381.5" y1="557.5" x2="381.5" y2="636.5" stroke="#000" stroke-width="1" stroke-dasharray="2,2"/>
<line x1="400.5" y1="557.5" x2="400.5" y2="636.5" stroke="#000" stroke-width="1" stroke-dasharray="2,2"/>
<line x1="419.5" y1="557.5" x2="419.5" y2="636.5" stroke="#000" stroke-width="1" stroke-dasharray="2,2"/>
<line x1="438.5" y1="557.5" x2="438.5" y2="636.5" stroke="#000" stroke-width="1" stroke-dasharray="2,2"/>
<line x1="457.5" y1="557.5" x2="457.5" y2="636.5" stroke="#000" stroke-width="1" stroke-dasharray="2,2"/>
<line x1="476.5" y1="557.5" x2="476.5" y2="636.5" stroke="#000" stroke-width="1" stroke-dasharray="2,2"/>
<line x1="495.5" y1="557.5" x2="495.5" y2="636.5" stroke="#000" stroke-width="1" stroke-dasharray="2,2"/>
<line x1="515.5" y1="557.5" x2="515.5" y2="636.5" stroke="#000" stroke-width="1" stroke-dasharray="2,2"/>
<line x1="534.5" y1="557.5" x2="534.5" y2="636.5" stroke="#000" stroke-width="1" stroke-dasharray="2,2"/>
<line x1="553.5" y1="557.5" x2="553.5" y2="636.5" stroke="#000" stroke-width="1" stroke-dasharray="2,2"/>
<line x1="572.5" y1="557.5" x2="572.5" y2="636.5" stroke="#000" stroke-width="1" stroke-dasharray="2,2"/>
<line x1="591.5" y1="557.5" x2="591.5" y2="636.5" stroke="#000" stroke-width="1" stroke-dasharray="2,2"/>
<line x1="610.5" y1="557.5" x2="610.5" y2="636.5" stroke="#000" stroke-width="1" stroke-dasharray="2,2"/>
<line x1="629.5" y1="557.5" x2="629.5" y2="636.5" stroke="#000" stroke-width="1" stroke-dasharray="2,2"/>
<line x1="648.5" y1="557.5" x2="648.5" y2="636.5" stroke="#000" stroke-width="1" stroke-dasharray="2,2"/>
<line x1="668.5" y1="557.5" x2="668.5" y2="636.5" stroke="#000" stroke-width="1" stroke-dasharray="2,2"/>
<line x1="687.5" y1="557.5" x2="687.5" y2="636.5" stroke="#000" stroke-width="1" stroke-dasharray="2,2"/>
<line x1="706.5" y1="557.5" x2="706.5" y2="636.5" stroke="#000" stroke-width="1" stroke-dasharray="2,2"/>
<line x1="725.5" y1="557.5" x2="725.5" y2="636.5" stroke="#000" stroke-width="1" stroke-dasharray="2,2"/>
<line x1="744.5" y1="557.5" x2="744.5" y2="636.5" stroke="#000" stroke-width="1" stroke-dasharray="2,2"/>
<line x1="763.5" y1="557.5" x2="763.5" y2="636.5" stroke="#000" stroke-width="1" stroke-dasharray="2,2"/>
<line x1="782.5" y1="557.5" x2="782.5" y2="636.5" stroke="#000" stroke-width="1" stroke-dasharray="2,2"/>
<line x1="802.5" y1="557.5" x2="802.5" y2="636.5" stroke="#000" stroke-width="1" stroke-dasharray="2,2"/>
<line x1="821.5" y1="557.5" x2="821.5" y2="636.5" stroke="#000" stroke-width="1" stroke-dasharray="2,2"/>
<clipPath id="cbclip"><rect x="348.5" y="557.5" width="493.0" height="79.0"/></clipPath>
<g clip-path="url(#cbclip)">
<circle cx="349.0" cy="590.3" r="2.7" fill="#ffffff"/>
<circle cx="355.1" cy="592.8" r="2.7" fill="#ffffff"/>
<circle cx="361.5" cy="592.8" r="2.7" fill="#ffffff"/>
<circle cx="368.0" cy="592.5" r="2.7" fill="#ffffff"/>
<circle cx="374.2" cy="593.3" r="2.7" fill="#ffffff"/>
<circle cx="380.9" cy="593.3" r="2.7" fill="#ffffff"/>
<circle cx="387.2" cy="593.3" r="2.7" fill="#ffffff"/>
<circle cx="393.6" cy="597.7" r="2.7" fill="#ffffff"/>
<circle cx="400.0" cy="601.3" r="2.7" fill="#ffffff"/>
<circle cx="406.1" cy="600.1" r="2.7" fill="#ffffff"/>
<circle cx="425.6" cy="611.4" r="2.7" fill="#ffffff"/>
<circle cx="438.3" cy="623.4" r="2.7" fill="#ffffff"/>
<circle cx="444.6" cy="623.4" r="2.7" fill="#ffffff"/>
<circle cx="451.0" cy="623.0" r="2.7" fill="#ffffff"/>
<circle cx="457.3" cy="629.7" r="2.7" fill="#ffffff"/>
<circle cx="463.8" cy="624.4" r="2.7" fill="#ffffff"/>
<circle cx="476.6" cy="619.3" r="2.7" fill="#ffffff"/>
<circle cx="489.5" cy="631.0" r="2.7" fill="#ffffff"/>
<circle cx="496.0" cy="627.5" r="2.7" fill="#ffffff"/>
<circle cx="508.5" cy="622.2" r="2.7" fill="#ffffff"/>
<circle cx="515.5" cy="630.5" r="2.7" fill="#ffffff"/>
<circle cx="521.5" cy="619.5" r="2.7" fill="#ffffff"/>
<circle cx="534.0" cy="615.7" r="2.7" fill="#ffffff"/>
<circle cx="553.2" cy="616.3" r="2.7" fill="#ffffff"/>
<circle cx="559.8" cy="620.8" r="2.7" fill="#ffffff"/>
<circle cx="566.2" cy="628.0" r="2.7" fill="#ffffff"/>
<circle cx="572.4" cy="628.8" r="2.7" fill="#ffffff"/>
<circle cx="578.8" cy="627.5" r="2.7" fill="#ffffff"/>
<circle cx="585.2" cy="624.2" r="2.7" fill="#ffffff"/>
<circle cx="591.8" cy="625.9" r="2.7" fill="#ffffff"/>
<circle cx="598.0" cy="612.7" r="2.7" fill="#ffffff"/>
<circle cx="604.5" cy="612.7" r="2.7" fill="#ffffff"/>
<circle cx="611.0" cy="612.7" r="2.7" fill="#ffffff"/>
<circle cx="617.3" cy="612.7" r="2.7" fill="#ffffff"/>
<circle cx="623.6" cy="612.7" r="2.7" fill="#ffffff"/>
<circle cx="630.3" cy="612.7" r="2.7" fill="#ffffff"/>
<circle cx="636.6" cy="612.7" r="2.7" fill="#ffffff"/>
<circle cx="643.0" cy="612.7" r="2.7" fill="#ffffff"/>
<circle cx="649.3" cy="612.7" r="2.7" fill="#ffffff"/>
<circle cx="655.6" cy="577.0" r="2.7" fill="#ffffff"/>
<circle cx="662.0" cy="577.0" r="2.7" fill="#ffffff"/>
<circle cx="668.3" cy="577.0" r="2.7" fill="#ffffff"/>
<circle cx="674.6" cy="577.0" r="2.7" fill="#ffffff"/>
<circle cx="694.0" cy="586.3" r="2.7" fill="#ffffff"/>
<circle cx="700.4" cy="587.4" r="2.7" fill="#ffffff"/>
<circle cx="706.4" cy="591.0" r="2.7" fill="#ffffff"/>
<circle cx="713.0" cy="592.4" r="2.7" fill="#ffffff"/>
<circle cx="687.6" cy="625.0" r="2.7" fill="#ffffff"/>
<circle cx="720.0" cy="610.5" r="2.7" fill="#ffffff"/>
<circle cx="719.3" cy="610.7" r="2.7" fill="#ffffff"/>
<circle cx="725.6" cy="609.3" r="2.7" fill="#ffffff"/>
<circle cx="732.3" cy="609.3" r="2.7" fill="#ffffff"/>
<circle cx="738.6" cy="609.3" r="2.7" fill="#ffffff"/>
<circle cx="745.0" cy="611.4" r="2.7" fill="#ffffff"/>
<circle cx="751.4" cy="611.4" r="2.7" fill="#ffffff"/>
<circle cx="757.9" cy="609.7" r="2.7" fill="#ffffff"/>
<circle cx="764.3" cy="612.1" r="2.7" fill="#ffffff"/>
<circle cx="770.7" cy="616.4" r="2.7" fill="#ffffff"/>
<circle cx="777.1" cy="628.3" r="2.7" fill="#ffffff"/>
<circle cx="783.6" cy="612.9" r="2.7" fill="#ffffff"/>
<circle cx="790.0" cy="607.9" r="2.7" fill="#ffffff"/>
<circle cx="796.4" cy="597.7" r="2.7" fill="#ffffff"/>
<circle cx="802.9" cy="575.0" r="2.7" fill="#ffffff"/>
<circle cx="809.3" cy="574.3" r="2.7" fill="#ffffff"/>
<circle cx="815.3" cy="594.3" r="2.7" fill="#ffffff"/>
<circle cx="821.7" cy="618.6" r="2.7" fill="#ffffff"/>
<circle cx="828.0" cy="621.6" r="2.7" fill="#ffffff"/>
<circle cx="834.4" cy="619.3" r="2.7" fill="#ffffff"/>
<circle cx="840.7" cy="592.1" r="2.7" fill="#ffffff"/>
<circle cx="349.5" cy="585.8" r="2.7" fill="#c8c8c8"/>
<circle cx="355.0" cy="590.3" r="2.7" fill="#c8c8c8"/>
<circle cx="380.9" cy="582.4" r="2.7" fill="#c8c8c8"/>
<circle cx="387.2" cy="582.4" r="2.7" fill="#c8c8c8"/>
<circle cx="540.6" cy="606.2" r="2.7" fill="#c8c8c8"/>
<circle cx="719.3" cy="584.0" r="2.7" fill="#c8c8c8"/>
<circle cx="738.6" cy="593.6" r="2.7" fill="#c8c8c8"/>
<circle cx="745.0" cy="607.6" r="2.7" fill="#c8c8c8"/>
<circle cx="777.1" cy="620.7" r="2.7" fill="#c8c8c8"/>
<circle cx="611.0" cy="606.5" r="2.7" fill="#c8c8c8"/>
<circle cx="617.3" cy="606.5" r="2.7" fill="#c8c8c8"/>
<circle cx="623.6" cy="606.5" r="2.7" fill="#c8c8c8"/>
<circle cx="425.6" cy="603.6" r="2.7" fill="#8c8c8c"/>
<circle cx="431.8" cy="613.0" r="2.7" fill="#8c8c8c"/>
<circle cx="438.3" cy="616.0" r="2.7" fill="#8c8c8c"/>
<circle cx="451.0" cy="615.5" r="2.7" fill="#8c8c8c"/>
<circle cx="457.4" cy="624.0" r="2.7" fill="#8c8c8c"/>
<circle cx="463.8" cy="620.2" r="2.7" fill="#8c8c8c"/>
<circle cx="528.0" cy="608.3" r="2.7" fill="#8c8c8c"/>
<circle cx="559.8" cy="612.0" r="2.7" fill="#8c8c8c"/>
<circle cx="572.4" cy="620.0" r="2.7" fill="#8c8c8c"/>
<circle cx="578.8" cy="621.0" r="2.7" fill="#8c8c8c"/>
<circle cx="591.8" cy="618.3" r="2.7" fill="#8c8c8c"/>
<circle cx="725.6" cy="580.0" r="2.7" fill="#8c8c8c"/>
<circle cx="732.3" cy="580.0" r="2.7" fill="#8c8c8c"/>
<circle cx="738.6" cy="577.9" r="2.7" fill="#8c8c8c"/>
<circle cx="751.4" cy="606.4" r="2.7" fill="#8c8c8c"/>
<circle cx="757.9" cy="603.3" r="2.7" fill="#8c8c8c"/>
<circle cx="770.7" cy="610.7" r="2.7" fill="#8c8c8c"/>
<circle cx="796.4" cy="593.6" r="2.7" fill="#8c8c8c"/>
<circle cx="438.3" cy="606.4" r="2.7" fill="#5a5a5a"/>
<circle cx="444.6" cy="613.8" r="2.7" fill="#5a5a5a"/>
<circle cx="598.0" cy="606.5" r="2.7" fill="#5a5a5a"/>
<circle cx="604.5" cy="606.5" r="2.7" fill="#5a5a5a"/>
<circle cx="757.9" cy="595.3" r="2.7" fill="#5a5a5a"/>
<circle cx="783.6" cy="603.6" r="2.7" fill="#5a5a5a"/>
<circle cx="349.0" cy="576.6" r="2.7" fill="#b22222"/>
<circle cx="355.1" cy="577.4" r="2.7" fill="#b22222"/>
<circle cx="361.5" cy="580.4" r="2.7" fill="#b22222"/>
<circle cx="368.0" cy="580.4" r="2.7" fill="#b22222"/>
<circle cx="374.2" cy="587.6" r="2.7" fill="#b22222"/>
<circle cx="380.9" cy="576.5" r="2.7" fill="#b22222"/>
<circle cx="387.2" cy="573.0" r="2.7" fill="#b22222"/>
<circle cx="393.6" cy="572.2" r="2.7" fill="#b22222"/>
<circle cx="400.0" cy="573.3" r="2.7" fill="#b22222"/>
<circle cx="406.1" cy="580.4" r="2.7" fill="#b22222"/>
<circle cx="425.6" cy="595.6" r="2.7" fill="#b22222"/>
<circle cx="431.8" cy="594.3" r="2.7" fill="#b22222"/>
<circle cx="438.3" cy="595.6" r="2.7" fill="#b22222"/>
<circle cx="444.6" cy="604.3" r="2.7" fill="#b22222"/>
<circle cx="451.0" cy="601.0" r="2.7" fill="#b22222"/>
<circle cx="457.4" cy="599.2" r="2.7" fill="#b22222"/>
<circle cx="463.8" cy="600.6" r="2.7" fill="#b22222"/>
<circle cx="470.0" cy="603.1" r="2.7" fill="#b22222"/>
<circle cx="476.5" cy="602.2" r="2.7" fill="#b22222"/>
<circle cx="483.0" cy="603.6" r="2.7" fill="#b22222"/>
<circle cx="488.8" cy="575.5" r="2.7" fill="#b22222"/>
<circle cx="496.0" cy="604.2" r="2.7" fill="#b22222"/>
<circle cx="502.0" cy="590.3" r="2.7" fill="#b22222"/>
<circle cx="508.5" cy="605.2" r="2.7" fill="#b22222"/>
<circle cx="515.5" cy="593.7" r="2.7" fill="#b22222"/>
<circle cx="521.3" cy="593.7" r="2.7" fill="#b22222"/>
<circle cx="527.6" cy="576.9" r="2.7" fill="#b22222"/>
<circle cx="534.1" cy="592.1" r="2.7" fill="#b22222"/>
<circle cx="540.5" cy="586.8" r="2.7" fill="#b22222"/>
<circle cx="547.0" cy="591.0" r="2.7" fill="#b22222"/>
<circle cx="553.2" cy="590.7" r="2.7" fill="#b22222"/>
<circle cx="559.6" cy="584.7" r="2.7" fill="#b22222"/>
<circle cx="566.2" cy="589.3" r="2.7" fill="#b22222"/>
<circle cx="572.4" cy="593.7" r="2.7" fill="#b22222"/>
<circle cx="578.8" cy="593.7" r="2.7" fill="#b22222"/>
<circle cx="585.0" cy="591.6" r="2.7" fill="#b22222"/>
<circle cx="591.8" cy="592.4" r="2.7" fill="#b22222"/>
<circle cx="598.0" cy="603.8" r="2.7" fill="#b22222"/>
<circle cx="604.5" cy="603.8" r="2.7" fill="#b22222"/>
<circle cx="611.0" cy="603.8" r="2.7" fill="#b22222"/>
<circle cx="617.3" cy="603.8" r="2.7" fill="#b22222"/>
<circle cx="623.6" cy="603.8" r="2.7" fill="#b22222"/>
<circle cx="630.3" cy="605.5" r="2.7" fill="#b22222"/>
<circle cx="649.3" cy="570.1" r="2.7" fill="#b22222"/>
<circle cx="655.6" cy="570.8" r="2.7" fill="#b22222"/>
<circle cx="662.0" cy="570.9" r="2.7" fill="#b22222"/>
<circle cx="668.3" cy="569.6" r="2.7" fill="#b22222"/>
<circle cx="674.6" cy="569.6" r="2.7" fill="#b22222"/>
<circle cx="681.0" cy="568.5" r="2.7" fill="#b22222"/>
<circle cx="687.6" cy="568.5" r="2.7" fill="#b22222"/>
<circle cx="694.0" cy="568.5" r="2.7" fill="#b22222"/>
<circle cx="700.4" cy="567.5" r="2.7" fill="#b22222"/>
<circle cx="706.4" cy="567.5" r="2.7" fill="#b22222"/>
<circle cx="712.8" cy="567.5" r="2.7" fill="#b22222"/>
<circle cx="719.3" cy="567.1" r="2.7" fill="#b22222"/>
<circle cx="725.6" cy="567.1" r="2.7" fill="#b22222"/>
<circle cx="732.3" cy="567.1" r="2.7" fill="#b22222"/>
<circle cx="738.6" cy="567.1" r="2.7" fill="#b22222"/>
<circle cx="745.0" cy="567.1" r="2.7" fill="#b22222"/>
<circle cx="751.4" cy="567.1" r="2.7" fill="#b22222"/>
<circle cx="757.9" cy="567.1" r="2.7" fill="#b22222"/>
<circle cx="764.3" cy="567.1" r="2.7" fill="#b22222"/>
<circle cx="770.7" cy="567.1" r="2.7" fill="#b22222"/>
<circle cx="777.1" cy="567.1" r="2.7" fill="#b22222"/>
<circle cx="783.6" cy="568.6" r="2.7" fill="#b22222"/>
<circle cx="790.0" cy="568.6" r="2.7" fill="#b22222"/>
<circle cx="796.4" cy="569.3" r="2.7" fill="#b22222"/>
<circle cx="802.9" cy="570.7" r="2.7" fill="#b22222"/>
<circle cx="809.3" cy="570.7" r="2.7" fill="#b22222"/>
<circle cx="815.3" cy="590.7" r="2.7" fill="#b22222"/>
<circle cx="821.7" cy="590.0" r="2.7" fill="#b22222"/>
<circle cx="828.0" cy="589.3" r="2.7" fill="#b22222"/>
<circle cx="834.4" cy="589.3" r="2.7" fill="#b22222"/>
<circle cx="840.7" cy="587.1" r="2.7" fill="#b22222"/>
<circle cx="431.8" cy="615.2" r="2.7" fill="#e6e6e6"/>
<circle cx="431.8" cy="613.2" r="2.7" fill="#c0c0c0"/>
<circle cx="431.8" cy="611.2" r="2.7" fill="#8c8c8c"/>
<circle cx="431.8" cy="609.2" r="2.7" fill="#4a4a4a"/>
<circle cx="431.8" cy="607.2" r="2.7" fill="#000"/>
<circle cx="451.0" cy="617.7" r="2.7" fill="#e6e6e6"/>
<circle cx="451.0" cy="615.7" r="2.7" fill="#c0c0c0"/>
<circle cx="451.0" cy="613.7" r="2.7" fill="#8c8c8c"/>
<circle cx="451.0" cy="611.7" r="2.7" fill="#4a4a4a"/>
<circle cx="451.0" cy="609.7" r="2.7" fill="#000"/>
<circle cx="457.4" cy="624.3" r="2.7" fill="#e6e6e6"/>
<circle cx="457.4" cy="622.3" r="2.7" fill="#c0c0c0"/>
<circle cx="457.4" cy="620.3" r="2.7" fill="#8c8c8c"/>
<circle cx="457.4" cy="618.3" r="2.7" fill="#4a4a4a"/>
<circle cx="457.4" cy="616.3" r="2.7" fill="#000"/>
<circle cx="463.8" cy="616.6" r="2.7" fill="#e6e6e6"/>
<circle cx="463.8" cy="614.6" r="2.7" fill="#c0c0c0"/>
<circle cx="463.8" cy="612.6" r="2.7" fill="#8c8c8c"/>
<circle cx="463.8" cy="610.6" r="2.7" fill="#4a4a4a"/>
<circle cx="463.8" cy="608.6" r="2.7" fill="#000"/>
<circle cx="470.1" cy="613.7" r="2.7" fill="#e6e6e6"/>
<circle cx="470.1" cy="611.7" r="2.7" fill="#c0c0c0"/>
<circle cx="470.1" cy="609.7" r="2.7" fill="#8c8c8c"/>
<circle cx="470.1" cy="607.7" r="2.7" fill="#4a4a4a"/>
<circle cx="470.1" cy="605.7" r="2.7" fill="#000"/>
<circle cx="476.6" cy="616.3" r="2.7" fill="#e6e6e6"/>
<circle cx="476.6" cy="614.3" r="2.7" fill="#c0c0c0"/>
<circle cx="476.6" cy="612.3" r="2.7" fill="#8c8c8c"/>
<circle cx="476.6" cy="610.3" r="2.7" fill="#4a4a4a"/>
<circle cx="476.6" cy="608.3" r="2.7" fill="#000"/>
<circle cx="483.2" cy="616.3" r="2.7" fill="#e6e6e6"/>
<circle cx="483.2" cy="614.3" r="2.7" fill="#c0c0c0"/>
<circle cx="483.2" cy="612.3" r="2.7" fill="#8c8c8c"/>
<circle cx="483.2" cy="610.3" r="2.7" fill="#4a4a4a"/>
<circle cx="483.2" cy="608.3" r="2.7" fill="#000"/>
<circle cx="489.5" cy="621.2" r="2.7" fill="#e6e6e6"/>
<circle cx="489.5" cy="619.2" r="2.7" fill="#c0c0c0"/>
<circle cx="489.5" cy="617.2" r="2.7" fill="#8c8c8c"/>
<circle cx="489.5" cy="615.2" r="2.7" fill="#4a4a4a"/>
<circle cx="489.5" cy="613.2" r="2.7" fill="#000"/>
<circle cx="496.0" cy="621.2" r="2.7" fill="#e6e6e6"/>
<circle cx="496.0" cy="619.2" r="2.7" fill="#c0c0c0"/>
<circle cx="496.0" cy="617.2" r="2.7" fill="#8c8c8c"/>
<circle cx="496.0" cy="615.2" r="2.7" fill="#4a4a4a"/>
<circle cx="496.0" cy="613.2" r="2.7" fill="#000"/>
<circle cx="502.2" cy="616.3" r="2.7" fill="#e6e6e6"/>
<circle cx="502.2" cy="614.3" r="2.7" fill="#c0c0c0"/>
<circle cx="502.2" cy="612.3" r="2.7" fill="#8c8c8c"/>
<circle cx="502.2" cy="610.3" r="2.7" fill="#4a4a4a"/>
<circle cx="502.2" cy="608.3" r="2.7" fill="#000"/>
<circle cx="508.5" cy="619.6" r="2.7" fill="#e6e6e6"/>
<circle cx="508.5" cy="617.6" r="2.7" fill="#c0c0c0"/>
<circle cx="508.5" cy="615.6" r="2.7" fill="#8c8c8c"/>
<circle cx="508.5" cy="613.6" r="2.7" fill="#4a4a4a"/>
<circle cx="508.5" cy="611.6" r="2.7" fill="#000"/>
<circle cx="515.5" cy="620.4" r="2.7" fill="#e6e6e6"/>
<circle cx="515.5" cy="618.4" r="2.7" fill="#c0c0c0"/>
<circle cx="515.5" cy="616.4" r="2.7" fill="#8c8c8c"/>
<circle cx="515.5" cy="614.4" r="2.7" fill="#4a4a4a"/>
<circle cx="515.5" cy="612.4" r="2.7" fill="#000"/>
<circle cx="521.5" cy="619.9" r="2.7" fill="#e6e6e6"/>
<circle cx="521.5" cy="617.9" r="2.7" fill="#c0c0c0"/>
<circle cx="521.5" cy="615.9" r="2.7" fill="#8c8c8c"/>
<circle cx="521.5" cy="613.9" r="2.7" fill="#4a4a4a"/>
<circle cx="521.5" cy="611.9" r="2.7" fill="#000"/>
<circle cx="540.6" cy="604.5" r="2.7" fill="#e6e6e6"/>
<circle cx="540.6" cy="602.5" r="2.7" fill="#c0c0c0"/>
<circle cx="540.6" cy="600.5" r="2.7" fill="#8c8c8c"/>
<circle cx="540.6" cy="598.5" r="2.7" fill="#4a4a4a"/>
<circle cx="540.6" cy="596.5" r="2.7" fill="#000"/>
<circle cx="547.0" cy="614.7" r="2.7" fill="#e6e6e6"/>
<circle cx="547.0" cy="612.7" r="2.7" fill="#c0c0c0"/>
<circle cx="547.0" cy="610.7" r="2.7" fill="#8c8c8c"/>
<circle cx="547.0" cy="608.7" r="2.7" fill="#4a4a4a"/>
<circle cx="547.0" cy="606.7" r="2.7" fill="#000"/>
<circle cx="553.2" cy="613.2" r="2.7" fill="#e6e6e6"/>
<circle cx="553.2" cy="611.2" r="2.7" fill="#c0c0c0"/>
<circle cx="553.2" cy="609.2" r="2.7" fill="#8c8c8c"/>
<circle cx="553.2" cy="607.2" r="2.7" fill="#4a4a4a"/>
<circle cx="553.2" cy="605.2" r="2.7" fill="#000"/>
<circle cx="559.8" cy="612.2" r="2.7" fill="#e6e6e6"/>
<circle cx="559.8" cy="610.2" r="2.7" fill="#c0c0c0"/>
<circle cx="559.8" cy="608.2" r="2.7" fill="#8c8c8c"/>
<circle cx="559.8" cy="606.2" r="2.7" fill="#4a4a4a"/>
<circle cx="559.8" cy="604.2" r="2.7" fill="#000"/>
<circle cx="566.2" cy="620.7" r="2.7" fill="#e6e6e6"/>
<circle cx="566.2" cy="618.7" r="2.7" fill="#c0c0c0"/>
<circle cx="566.2" cy="616.7" r="2.7" fill="#8c8c8c"/>
<circle cx="566.2" cy="614.7" r="2.7" fill="#4a4a4a"/>
<circle cx="566.2" cy="612.7" r="2.7" fill="#000"/>
<circle cx="572.4" cy="623.2" r="2.7" fill="#e6e6e6"/>
<circle cx="572.4" cy="621.2" r="2.7" fill="#c0c0c0"/>
<circle cx="572.4" cy="619.2" r="2.7" fill="#8c8c8c"/>
<circle cx="572.4" cy="617.2" r="2.7" fill="#4a4a4a"/>
<circle cx="572.4" cy="615.2" r="2.7" fill="#000"/>
<circle cx="578.8" cy="613.7" r="2.7" fill="#e6e6e6"/>
<circle cx="578.8" cy="611.7" r="2.7" fill="#c0c0c0"/>
<circle cx="578.8" cy="609.7" r="2.7" fill="#8c8c8c"/>
<circle cx="578.8" cy="607.7" r="2.7" fill="#4a4a4a"/>
<circle cx="578.8" cy="605.7" r="2.7" fill="#000"/>
<circle cx="585.2" cy="619.6" r="2.7" fill="#e6e6e6"/>
<circle cx="585.2" cy="617.6" r="2.7" fill="#c0c0c0"/>
<circle cx="585.2" cy="615.6" r="2.7" fill="#8c8c8c"/>
<circle cx="585.2" cy="613.6" r="2.7" fill="#4a4a4a"/>
<circle cx="585.2" cy="611.6" r="2.7" fill="#000"/>
<circle cx="591.8" cy="619.6" r="2.7" fill="#e6e6e6"/>
<circle cx="591.8" cy="617.6" r="2.7" fill="#c0c0c0"/>
<circle cx="591.8" cy="615.6" r="2.7" fill="#8c8c8c"/>
<circle cx="591.8" cy="613.6" r="2.7" fill="#4a4a4a"/>
<circle cx="591.8" cy="611.6" r="2.7" fill="#000"/>
<circle cx="757.9" cy="582.3" r="2.7" fill="#e6e6e6"/>
<circle cx="757.9" cy="580.3" r="2.7" fill="#c0c0c0"/>
<circle cx="757.9" cy="578.3" r="2.7" fill="#8c8c8c"/>
<circle cx="757.9" cy="576.3" r="2.7" fill="#4a4a4a"/>
<circle cx="757.9" cy="574.3" r="2.7" fill="#000"/>
<circle cx="783.6" cy="581.0" r="2.7" fill="#e6e6e6"/>
<circle cx="783.6" cy="579.0" r="2.7" fill="#c0c0c0"/>
<circle cx="783.6" cy="577.0" r="2.7" fill="#8c8c8c"/>
<circle cx="783.6" cy="575.0" r="2.7" fill="#4a4a4a"/>
<circle cx="783.6" cy="573.0" r="2.7" fill="#000"/>
<circle cx="764.3" cy="611.6" r="2.7" fill="#e6e6e6"/>
<circle cx="764.3" cy="609.6" r="2.7" fill="#c0c0c0"/>
<circle cx="764.3" cy="607.6" r="2.7" fill="#8c8c8c"/>
<circle cx="764.3" cy="605.6" r="2.7" fill="#4a4a4a"/>
<circle cx="764.3" cy="603.6" r="2.7" fill="#000"/>
<circle cx="770.7" cy="610.9" r="2.7" fill="#e6e6e6"/>
<circle cx="770.7" cy="608.9" r="2.7" fill="#c0c0c0"/>
<circle cx="770.7" cy="606.9" r="2.7" fill="#8c8c8c"/>
<circle cx="770.7" cy="604.9" r="2.7" fill="#4a4a4a"/>
<circle cx="770.7" cy="602.9" r="2.7" fill="#000"/>
<circle cx="777.1" cy="621.3" r="2.7" fill="#e6e6e6"/>
<circle cx="777.1" cy="619.3" r="2.7" fill="#c0c0c0"/>
<circle cx="777.1" cy="617.3" r="2.7" fill="#8c8c8c"/>
<circle cx="777.1" cy="615.3" r="2.7" fill="#4a4a4a"/>
<circle cx="777.1" cy="613.3" r="2.7" fill="#000"/>
<circle cx="790.0" cy="611.6" r="2.7" fill="#e6e6e6"/>
<circle cx="790.0" cy="609.6" r="2.7" fill="#c0c0c0"/>
<circle cx="790.0" cy="607.6" r="2.7" fill="#8c8c8c"/>
<circle cx="790.0" cy="605.6" r="2.7" fill="#4a4a4a"/>
<circle cx="790.0" cy="603.6" r="2.7" fill="#000"/>
</g>
<polyline points="348.0,575.3 361.0,577.3 380.0,577.6 390.0,577.0 400.0,574.5 407.0,573.0 420.0,573.6 430.0,574.5 440.0,575.0 450.0,572.3 457.3,596.2 463.5,576.4 470.0,571.5 476.0,571.5 485.0,572.3 489.6,592.1 495.4,593.7 502.0,574.0 508.0,573.5 515.5,590.0 521.0,576.4 527.6,575.8 534.0,576.0 540.5,585.0 547.0,577.5 553.6,586.4 559.6,602.5 566.0,602.0 572.0,586.0 578.6,583.6 585.0,592.0 592.0,576.0 600.0,570.5 610.0,571.2 625.0,572.5 640.0,573.3 655.0,574.5 670.0,575.6 680.0,575.2 690.0,573.5 706.0,572.2 715.0,573.6 726.0,575.0 745.0,577.0 758.0,582.7 764.3,609.3 770.0,606.4 777.0,597.1 783.6,575.6 797.0,582.9 803.0,584.4 815.0,584.1 822.0,586.4 835.0,586.4 841.0,584.3" fill="none" stroke="#ff9600" stroke-width="2.0" stroke-linejoin="round"/>
<line x1="348.5" y1="556.5" x2="842.0" y2="556.5" stroke="#8a8a8a" stroke-width="1"/>
<rect x="348.5" y="557.5" width="493.0" height="79.0" fill="none" stroke="#222" stroke-width="1"/>
<rect x="348.50" y="645.50" width="493.00" height="54.50" fill="#87cefa"/>
<rect x="348.50" y="645.50" width="20.10" height="54.50" fill="#7ec2ee"/>
<rect x="452.20" y="645.50" width="69.60" height="54.50" fill="#7ec2ee"/>
<rect x="606.20" y="645.50" width="68.60" height="54.50" fill="#7ec2ee"/>
<rect x="759.20" y="645.50" width="68.60" height="54.50" fill="#7ec2ee"/>
<polygon points="458.8,661.0 463.9,649.7 468.9,661.0" fill="#5a5a5a"/>
<polygon points="471.5,661.0 476.4,650.5 479.9,647.5 484.3,646.0 490.4,646.0 495.7,661.0" fill="#5a5a5a"/>
<polygon points="495.7,661.0 502.7,652.3 508.9,649.2 513.3,650.1 521.6,656.3 521.6,661.0" fill="#5a5a5a"/>
<polygon points="539.7,661.0 540.1,650.1 543.2,648.8 547.1,648.4 545.4,661.0" fill="#969696"/>
<polygon points="545.0,661.0 547.6,651.4 552.0,651.0 556.4,647.5 559.9,646.2 563.4,646.0 571.3,646.2 577.9,652.3 580.1,657.6 580.5,661.0" fill="#5a5a5a"/>
<polyline points="548.0,651.0 553.3,658.9 559.5,646.6 566.9,661.0" fill="none" stroke="#b0b0b0" stroke-width="1" stroke-linejoin="round"/>
<polygon points="755.0,661.0 758.0,650.1 764.0,661.0" fill="#ffffff"/>
<polygon points="763.5,661.0 765.0,654.5 769.0,655.4 771.0,661.0" fill="#a0a0a0"/>
<polygon points="770.8,661.0 777.4,648.8 783.5,661.0" fill="#ffffff"/>
<polygon points="775.2,661.0 777.4,650.5 779.6,661.0" fill="#505050"/>
<polygon points="785.7,661.0 789.2,647.0 791.9,661.0" fill="#8a8a8a"/>
<line x1="361.5" y1="645.5" x2="361.5" y2="660" stroke="#000" stroke-width="1" stroke-dasharray="2,2"/>
<line x1="381.5" y1="645.5" x2="381.5" y2="660" stroke="#000" stroke-width="1" stroke-dasharray="2,2"/>
<line x1="400.5" y1="645.5" x2="400.5" y2="660" stroke="#000" stroke-width="1" stroke-dasharray="2,2"/>
<line x1="419.5" y1="645.5" x2="419.5" y2="660" stroke="#000" stroke-width="1" stroke-dasharray="2,2"/>
<line x1="438.5" y1="645.5" x2="438.5" y2="660" stroke="#000" stroke-width="1" stroke-dasharray="2,2"/>
<line x1="457.5" y1="645.5" x2="457.5" y2="660" stroke="#000" stroke-width="1" stroke-dasharray="2,2"/>
<line x1="476.5" y1="645.5" x2="476.5" y2="660" stroke="#000" stroke-width="1" stroke-dasharray="2,2"/>
<line x1="495.5" y1="645.5" x2="495.5" y2="660" stroke="#000" stroke-width="1" stroke-dasharray="2,2"/>
<line x1="515.5" y1="645.5" x2="515.5" y2="660" stroke="#000" stroke-width="1" stroke-dasharray="2,2"/>
<line x1="534.5" y1="645.5" x2="534.5" y2="660" stroke="#000" stroke-width="1" stroke-dasharray="2,2"/>
<line x1="553.5" y1="645.5" x2="553.5" y2="660" stroke="#000" stroke-width="1" stroke-dasharray="2,2"/>
<line x1="572.5" y1="645.5" x2="572.5" y2="660" stroke="#000" stroke-width="1" stroke-dasharray="2,2"/>
<line x1="591.5" y1="645.5" x2="591.5" y2="660" stroke="#000" stroke-width="1" stroke-dasharray="2,2"/>
<line x1="610.5" y1="645.5" x2="610.5" y2="660" stroke="#000" stroke-width="1" stroke-dasharray="2,2"/>
<line x1="629.5" y1="645.5" x2="629.5" y2="660" stroke="#000" stroke-width="1" stroke-dasharray="2,2"/>
<line x1="648.5" y1="645.5" x2="648.5" y2="660" stroke="#000" stroke-width="1" stroke-dasharray="2,2"/>
<line x1="668.5" y1="645.5" x2="668.5" y2="660" stroke="#000" stroke-width="1" stroke-dasharray="2,2"/>
<line x1="687.5" y1="645.5" x2="687.5" y2="660" stroke="#000" stroke-width="1" stroke-dasharray="2,2"/>
<line x1="706.5" y1="645.5" x2="706.5" y2="660" stroke="#000" stroke-width="1" stroke-dasharray="2,2"/>
<line x1="725.5" y1="645.5" x2="725.5" y2="660" stroke="#000" stroke-width="1" stroke-dasharray="2,2"/>
<line x1="744.5" y1="645.5" x2="744.5" y2="660" stroke="#000" stroke-width="1" stroke-dasharray="2,2"/>
<line x1="763.5" y1="645.5" x2="763.5" y2="660" stroke="#000" stroke-width="1" stroke-dasharray="2,2"/>
<line x1="782.5" y1="645.5" x2="782.5" y2="660" stroke="#000" stroke-width="1" stroke-dasharray="2,2"/>
<line x1="802.5" y1="645.5" x2="802.5" y2="660" stroke="#000" stroke-width="1" stroke-dasharray="2,2"/>
<line x1="821.5" y1="645.5" x2="821.5" y2="660" stroke="#000" stroke-width="1" stroke-dasharray="2,2"/>
<polyline points="348.5,662 348.5,645.5 841.5,645.5 841.5,662" fill="none" stroke="#222" stroke-width="1"/>
<text x="332.5" y="184.5" font-size="11" fill="#000" textLength="11.5" lengthAdjust="spacingAndGlyphs" text-anchor="start" font-family="'Liberation Sans', Arial, sans-serif">15</text>
<text x="844.6" y="184.5" font-size="11" fill="#000" textLength="11.5" lengthAdjust="spacingAndGlyphs" text-anchor="start" font-family="'Liberation Sans', Arial, sans-serif">15</text>
<text x="332.5" y="204.2" font-size="11" fill="#000" textLength="11.5" lengthAdjust="spacingAndGlyphs" text-anchor="start" font-family="'Liberation Sans', Arial, sans-serif">10</text>
<text x="844.6" y="204.2" font-size="11" fill="#000" textLength="11.5" lengthAdjust="spacingAndGlyphs" text-anchor="start" font-family="'Liberation Sans', Arial, sans-serif">10</text>
<text x="338.2" y="223.5" font-size="11" fill="#000" textLength="5.8" lengthAdjust="spacingAndGlyphs" text-anchor="start" font-family="'Liberation Sans', Arial, sans-serif">5</text>
<text x="847.5" y="223.5" font-size="11" fill="#000" textLength="5.8" lengthAdjust="spacingAndGlyphs" text-anchor="start" font-family="'Liberation Sans', Arial, sans-serif">5</text>
<text x="338.2" y="242.8" font-size="11" fill="#000" textLength="5.8" lengthAdjust="spacingAndGlyphs" text-anchor="start" font-family="'Liberation Sans', Arial, sans-serif">0</text>
<text x="847.5" y="242.8" font-size="11" fill="#000" textLength="5.8" lengthAdjust="spacingAndGlyphs" text-anchor="start" font-family="'Liberation Sans', Arial, sans-serif">0</text>
<text transform="translate(292.7,249.4) rotate(-90)" x="0" y="0" font-size="12.4" fill="#1a1a96" textLength="65.9" lengthAdjust="spacingAndGlyphs" font-family="'Liberation Sans', Arial, sans-serif">temperatura</text>
<text transform="translate(306.1,226.7) rotate(-90)" x="0" y="0" font-size="12.4" fill="#1a1a96" textLength="20.7" lengthAdjust="spacingAndGlyphs" font-family="'Liberation Sans', Arial, sans-serif">(°C)</text>
<text transform="translate(906.5,249.4) rotate(-90)" x="0" y="0" font-size="12.4" fill="#1a1a96" textLength="65.9" lengthAdjust="spacingAndGlyphs" font-family="'Liberation Sans', Arial, sans-serif">temperatura</text>
<text transform="translate(893.4,226.7) rotate(-90)" x="0" y="0" font-size="12.4" fill="#1a1a96" textLength="19.7" lengthAdjust="spacingAndGlyphs" font-family="'Liberation Sans', Arial, sans-serif">(°C)</text>
<text x="332.5" y="270.7" font-size="11" fill="#000" textLength="11.5" lengthAdjust="spacingAndGlyphs" text-anchor="start" font-family="'Liberation Sans', Arial, sans-serif">10</text>
<text x="338.2" y="285.7" font-size="11" fill="#000" textLength="5.8" lengthAdjust="spacingAndGlyphs" text-anchor="start" font-family="'Liberation Sans', Arial, sans-serif">8</text>
<text x="338.2" y="300.7" font-size="11" fill="#000" textLength="5.8" lengthAdjust="spacingAndGlyphs" text-anchor="start" font-family="'Liberation Sans', Arial, sans-serif">6</text>
<text x="338.2" y="315.7" font-size="11" fill="#000" textLength="5.8" lengthAdjust="spacingAndGlyphs" text-anchor="start" font-family="'Liberation Sans', Arial, sans-serif">4</text>
<text x="338.2" y="330.7" font-size="11" fill="#000" textLength="5.8" lengthAdjust="spacingAndGlyphs" text-anchor="start" font-family="'Liberation Sans', Arial, sans-serif">2</text>
<text x="338.2" y="345.7" font-size="11" fill="#000" textLength="5.8" lengthAdjust="spacingAndGlyphs" text-anchor="start" font-family="'Liberation Sans', Arial, sans-serif">0</text>
<text x="844.6" y="270.7" font-size="11" fill="#e8501a" textLength="11.5" lengthAdjust="spacingAndGlyphs" text-anchor="start" font-family="'Liberation Sans', Arial, sans-serif">95</text>
<text x="844.6" y="285.7" font-size="11" fill="#e8501a" textLength="11.5" lengthAdjust="spacingAndGlyphs" text-anchor="start" font-family="'Liberation Sans', Arial, sans-serif">85</text>
<text x="844.6" y="300.7" font-size="11" fill="#e8501a" textLength="11.5" lengthAdjust="spacingAndGlyphs" text-anchor="start" font-family="'Liberation Sans', Arial, sans-serif">75</text>
<text x="844.6" y="315.7" font-size="11" fill="#e8501a" textLength="11.5" lengthAdjust="spacingAndGlyphs" text-anchor="start" font-family="'Liberation Sans', Arial, sans-serif">65</text>
<text x="844.6" y="330.7" font-size="11" fill="#e8501a" textLength="11.5" lengthAdjust="spacingAndGlyphs" text-anchor="start" font-family="'Liberation Sans', Arial, sans-serif">55</text>
<text x="844.6" y="345.7" font-size="11" fill="#e8501a" textLength="11.5" lengthAdjust="spacingAndGlyphs" text-anchor="start" font-family="'Liberation Sans', Arial, sans-serif">45</text>
<text transform="translate(293.2,317.8) rotate(-90)" x="0" y="0" font-size="12.4" fill="#1a1a96" textLength="26.6" lengthAdjust="spacingAndGlyphs" font-family="'Liberation Sans', Arial, sans-serif">opad</text>
<text transform="translate(306.4,349.0) rotate(-90)" x="0" y="0" font-size="12.4" fill="#1a1a96" textLength="86.5" lengthAdjust="spacingAndGlyphs" font-family="'Liberation Sans', Arial, sans-serif">(mm/h, kg/m²/h)</text>
<text transform="translate(893.7,314.3) rotate(-90)" x="0" y="0" font-size="12.4" fill="#1a1a96" textLength="18.3" lengthAdjust="spacingAndGlyphs" font-family="'Liberation Sans', Arial, sans-serif">(%)</text>
<text transform="translate(906.2,353.0) rotate(-90)" x="0" y="0" font-size="12.4" fill="#1a1a96" textLength="92.0" lengthAdjust="spacingAndGlyphs" font-family="'Liberation Sans', Arial, sans-serif">wilgotność wzgl.</text>
<text x="321.2" y="354.7" font-size="11" fill="#000" textLength="23.0" lengthAdjust="spacingAndGlyphs" text-anchor="start" font-family="'Liberation Sans', Arial, sans-serif">1020</text>
<text x="321.2" y="374.8" font-size="11" fill="#000" textLength="23.0" lengthAdjust="spacingAndGlyphs" text-anchor="start" font-family="'Liberation Sans', Arial, sans-serif">1015</text>
<text x="321.2" y="395.6" font-size="11" fill="#000" textLength="23.0" lengthAdjust="spacingAndGlyphs" text-anchor="start" font-family="'Liberation Sans', Arial, sans-serif">1010</text>
<text x="321.2" y="415.5" font-size="11" fill="#000" textLength="23.0" lengthAdjust="spacingAndGlyphs" text-anchor="start" font-family="'Liberation Sans', Arial, sans-serif">1005</text>
<text x="844.8" y="354.7" font-size="11" fill="#000" textLength="17.2" lengthAdjust="spacingAndGlyphs" text-anchor="start" font-family="'Liberation Sans', Arial, sans-serif">765</text>
<text x="844.8" y="374.5" font-size="11" fill="#000" textLength="17.2" lengthAdjust="spacingAndGlyphs" text-anchor="start" font-family="'Liberation Sans', Arial, sans-serif">761</text>
<text x="844.8" y="395.3" font-size="11" fill="#000" textLength="17.2" lengthAdjust="spacingAndGlyphs" text-anchor="start" font-family="'Liberation Sans', Arial, sans-serif">758</text>
<text x="844.8" y="415.5" font-size="11" fill="#000" textLength="17.2" lengthAdjust="spacingAndGlyphs" text-anchor="start" font-family="'Liberation Sans', Arial, sans-serif">754</text>
<text transform="translate(293.1,417.3) rotate(-90)" x="0" y="0" font-size="12.4" fill="#1a1a96" textLength="49.3" lengthAdjust="spacingAndGlyphs" font-family="'Liberation Sans', Arial, sans-serif">ciśnienie</text>
<text transform="translate(306.0,406.7) rotate(-90)" x="0" y="0" font-size="12.4" fill="#1a1a96" textLength="28.1" lengthAdjust="spacingAndGlyphs" font-family="'Liberation Sans', Arial, sans-serif">(hPa)</text>
<text transform="translate(893.4,417.3) rotate(-90)" x="0" y="0" font-size="12.4" fill="#1a1a96" textLength="47.8" lengthAdjust="spacingAndGlyphs" font-family="'Liberation Sans', Arial, sans-serif">(mm Hg)</text>
<text transform="translate(906.4,417.3) rotate(-90)" x="0" y="0" font-size="12.4" fill="#1a1a96" textLength="48.5" lengthAdjust="spacingAndGlyphs" font-family="'Liberation Sans', Arial, sans-serif">ciśnienie</text>
<text x="332.7" y="442.4" font-size="11" fill="#000" textLength="11.5" lengthAdjust="spacingAndGlyphs" text-anchor="start" font-family="'Liberation Sans', Arial, sans-serif">20</text>
<text x="332.7" y="461.8" font-size="11" fill="#000" textLength="11.5" lengthAdjust="spacingAndGlyphs" text-anchor="start" font-family="'Liberation Sans', Arial, sans-serif">15</text>
<text x="332.7" y="480.6" font-size="11" fill="#000" textLength="11.5" lengthAdjust="spacingAndGlyphs" text-anchor="start" font-family="'Liberation Sans', Arial, sans-serif">10</text>
<text x="338.4" y="499.6" font-size="11" fill="#000" textLength="5.8" lengthAdjust="spacingAndGlyphs" text-anchor="start" font-family="'Liberation Sans', Arial, sans-serif">5</text>
<text x="338.4" y="518.4" font-size="11" fill="#000" textLength="5.8" lengthAdjust="spacingAndGlyphs" text-anchor="start" font-family="'Liberation Sans', Arial, sans-serif">0</text>
<text x="844.9" y="442.8" font-size="11" fill="#000" textLength="11.5" lengthAdjust="spacingAndGlyphs" text-anchor="start" font-family="'Liberation Sans', Arial, sans-serif">72</text>
<text x="844.9" y="461.5" font-size="11" fill="#000" textLength="11.5" lengthAdjust="spacingAndGlyphs" text-anchor="start" font-family="'Liberation Sans', Arial, sans-serif">54</text>
<text x="844.9" y="480.2" font-size="11" fill="#000" textLength="11.5" lengthAdjust="spacingAndGlyphs" text-anchor="start" font-family="'Liberation Sans', Arial, sans-serif">36</text>
<text x="844.9" y="499.3" font-size="11" fill="#000" textLength="11.5" lengthAdjust="spacingAndGlyphs" text-anchor="start" font-family="'Liberation Sans', Arial, sans-serif">18</text>
<text x="847.8" y="518.2" font-size="11" fill="#000" textLength="5.8" lengthAdjust="spacingAndGlyphs" text-anchor="start" font-family="'Liberation Sans', Arial, sans-serif">0</text>
<text transform="translate(293.1,493.6) rotate(-90)" x="0" y="0" font-size="12.4" fill="#1a1a96" textLength="24.2" lengthAdjust="spacingAndGlyphs" font-family="'Liberation Sans', Arial, sans-serif">wiatr</text>
<text transform="translate(306.2,495.2) rotate(-90)" x="0" y="0" font-size="12.4" fill="#1a1a96" textLength="27.3" lengthAdjust="spacingAndGlyphs" font-family="'Liberation Sans', Arial, sans-serif">(m/s)</text>
<text transform="translate(893.6,497.9) rotate(-90)" x="0" y="0" font-size="12.4" fill="#1a1a96" textLength="32.9" lengthAdjust="spacingAndGlyphs" font-family="'Liberation Sans', Arial, sans-serif">(km/h)</text>
<text transform="translate(906.9,493.0) rotate(-90)" x="0" y="0" font-size="12.4" fill="#1a1a96" textLength="24.6" lengthAdjust="spacingAndGlyphs" font-family="'Liberation Sans', Arial, sans-serif">wiatr</text>
<text x="294.7" y="531.0" font-size="11" fill="#1a1a96" textLength="7.5" lengthAdjust="spacingAndGlyphs" text-anchor="start" font-family="'Liberation Sans', Arial, sans-serif">N</text>
<text x="284.1" y="539.6" font-size="11" fill="#1a1a96" textLength="10.9" lengthAdjust="spacingAndGlyphs" text-anchor="start" font-family="'Liberation Sans', Arial, sans-serif">W</text>
<text x="302.2" y="539.6" font-size="11" fill="#1a1a96" textLength="5.8" lengthAdjust="spacingAndGlyphs" text-anchor="start" font-family="'Liberation Sans', Arial, sans-serif">E</text>
<text x="294.7" y="547.4" font-size="11" fill="#1a1a96" textLength="6.1" lengthAdjust="spacingAndGlyphs" text-anchor="start" font-family="'Liberation Sans', Arial, sans-serif">S</text>
<text x="893.5" y="531.0" font-size="11" fill="#1a1a96" textLength="7.5" lengthAdjust="spacingAndGlyphs" text-anchor="start" font-family="'Liberation Sans', Arial, sans-serif">N</text>
<text x="882.9" y="539.6" font-size="11" fill="#1a1a96" textLength="10.9" lengthAdjust="spacingAndGlyphs" text-anchor="start" font-family="'Liberation Sans', Arial, sans-serif">W</text>
<text x="901.0" y="539.6" font-size="11" fill="#1a1a96" textLength="5.8" lengthAdjust="spacingAndGlyphs" text-anchor="start" font-family="'Liberation Sans', Arial, sans-serif">E</text>
<text x="893.5" y="547.4" font-size="11" fill="#1a1a96" textLength="6.1" lengthAdjust="spacingAndGlyphs" text-anchor="start" font-family="'Liberation Sans', Arial, sans-serif">S</text>
<text x="324.4" y="562.8" font-size="11" fill="#000" textLength="20.1" lengthAdjust="spacingAndGlyphs" text-anchor="start" font-family="'Liberation Sans', Arial, sans-serif">15.0</text>
<text x="330.1" y="581.9" font-size="11" fill="#000" textLength="14.4" lengthAdjust="spacingAndGlyphs" text-anchor="start" font-family="'Liberation Sans', Arial, sans-serif">7.0</text>
<text x="330.1" y="601.2" font-size="11" fill="#000" textLength="14.4" lengthAdjust="spacingAndGlyphs" text-anchor="start" font-family="'Liberation Sans', Arial, sans-serif">2.0</text>
<text x="330.1" y="620.5" font-size="11" fill="#000" textLength="14.4" lengthAdjust="spacingAndGlyphs" text-anchor="start" font-family="'Liberation Sans', Arial, sans-serif">0.5</text>
<text x="330.1" y="639.6" font-size="11" fill="#000" textLength="14.4" lengthAdjust="spacingAndGlyphs" text-anchor="start" font-family="'Liberation Sans', Arial, sans-serif">0.0</text>
<text x="338.8" y="649.6" font-size="11" fill="#000" textLength="5.8" lengthAdjust="spacingAndGlyphs" text-anchor="start" font-family="'Liberation Sans', Arial, sans-serif">8</text>
<text x="844.7" y="561.6" font-size="11" fill="#ff8200" textLength="17.2" lengthAdjust="spacingAndGlyphs" text-anchor="start" font-family="'Liberation Sans', Arial, sans-serif">100</text>
<text x="844.7" y="581.6" font-size="11" fill="#ff8200" textLength="11.5" lengthAdjust="spacingAndGlyphs" text-anchor="start" font-family="'Liberation Sans', Arial, sans-serif">20</text>
<text x="844.7" y="600.7" font-size="11" fill="#ff8200" textLength="5.8" lengthAdjust="spacingAndGlyphs" text-anchor="start" font-family="'Liberation Sans', Arial, sans-serif">5</text>
<text x="844.7" y="620.8" font-size="11" fill="#ff8200" textLength="5.8" lengthAdjust="spacingAndGlyphs" text-anchor="start" font-family="'Liberation Sans', Arial, sans-serif">1</text>
<text x="844.7" y="639.1" font-size="11" fill="#ff8200" textLength="5.8" lengthAdjust="spacingAndGlyphs" text-anchor="start" font-family="'Liberation Sans', Arial, sans-serif">0</text>
<text x="844.7" y="649.5" font-size="11" fill="#ff8200" textLength="5.8" lengthAdjust="spacingAndGlyphs" text-anchor="start" font-family="'Liberation Sans', Arial, sans-serif">1</text>
<text transform="translate(293.3,646.0) rotate(-90)" x="0" y="0" font-size="12.4" fill="#1a1a96" textLength="105.0" lengthAdjust="spacingAndGlyphs" font-family="'Liberation Sans', Arial, sans-serif">pion. rozciągł. chm.</text>
<text transform="translate(306.2,606.0) rotate(-90)" x="0" y="0" font-size="12.4" fill="#1a1a96" textLength="24.0" lengthAdjust="spacingAndGlyphs" font-family="'Liberation Sans', Arial, sans-serif">(km)</text>
<text transform="translate(892.9,606.0) rotate(-90)" x="0" y="0" font-size="12.4" fill="#1a1a96" textLength="23.5" lengthAdjust="spacingAndGlyphs" font-family="'Liberation Sans', Arial, sans-serif">(km)</text>
<text transform="translate(905.1,626.0) rotate(-90)" x="0" y="0" font-size="12.4" fill="#1a1a96" textLength="62.7" lengthAdjust="spacingAndGlyphs" font-family="'Liberation Sans', Arial, sans-serif">widzialność</text>
<text transform="translate(293.1,661.5) rotate(-90)" x="0" y="0" font-size="12.4" fill="#1a1a96" textLength="6.9" lengthAdjust="spacingAndGlyphs" font-family="'Liberation Sans', Arial, sans-serif">e</text>
<defs>
<linearGradient id="bg1" x1="0" y1="0" x2="1" y2="0">
<stop offset="0" stop-color="#1852ab"/>
<stop offset="0.37" stop-color="#1954ac"/>
<stop offset="0.44" stop-color="#3a75bf"/>
<stop offset="0.52" stop-color="#3270bb"/>
<stop offset="0.62" stop-color="#2c68b5"/>
<stop offset="0.70" stop-color="#2f6bb7"/>
<stop offset="0.78" stop-color="#1d58a9"/>
<stop offset="0.9" stop-color="#1a55a7"/>
<stop offset="1" stop-color="#134c9f"/>
</linearGradient>
<radialGradient id="bg2" cx="0.70" cy="0.05" r="0.22">
<stop offset="0" stop-color="#4a82c6" stop-opacity="0.55"/>
<stop offset="1" stop-color="#4a82c6" stop-opacity="0"/>
</radialGradient>
<linearGradient id="scr1" x1="0" y1="0" x2="0" y2="1">
<stop offset="0" stop-color="#0f2a5c"/>
<stop offset="0.39" stop-color="#14306a"/>
<stop offset="0.405" stop-color="#0b0d12"/>
<stop offset="1" stop-color="#0a0b0e"/>
</linearGradient>
<linearGradient id="scr2" x1="0" y1="0" x2="1" y2="1">
<stop offset="0" stop-color="#3a3c37"/>
<stop offset="0.55" stop-color="#5c5a51"/>
<stop offset="1" stop-color="#343632"/>
</linearGradient>
</defs>
<clipPath id="bclip"><rect x="280" y="0" width="630" height="119.5"/></clipPath>
<g clip-path="url(#bclip)">
<rect x="280.00" y="0.00" width="630.00" height="119.50" fill="url(#bg1)"/>
<rect x="280.00" y="0.00" width="630.00" height="119.50" fill="url(#bg2)"/>
<text x="311.3" y="39.6" font-size="20" fill="#fff" textLength="157.3" lengthAdjust="spacingAndGlyphs" text-anchor="start" font-family="'Liberation Sans', 'DejaVu Sans', sans-serif">Oficjalna aplikacja</text>
<text x="311.3" y="67.6" font-size="20" fill="#fff" font-family="'Liberation Sans', 'DejaVu Sans', sans-serif"><tspan font-weight="bold" textLength="92" lengthAdjust="spacingAndGlyphs">Meteo ICM</tspan><tspan x="408" textLength="114.3" lengthAdjust="spacingAndGlyphs">do pobrania</tspan></text>
<text x="311.3" y="95.6" font-size="20" fill="#fff" textLength="225.2" lengthAdjust="spacingAndGlyphs" text-anchor="start" font-family="'Liberation Sans', 'DejaVu Sans', sans-serif">w Google Play i App Store</text>
<rect x="592.4" y="6.4" width="51.2" height="125" rx="9" fill="#2b2b2b"/>
<rect x="594.5" y="8.5" width="47" height="122" rx="7.5" fill="url(#scr1)"/>
<rect x="612" y="11" width="12" height="3.5" rx="1.7" fill="#000"/>
<rect x="600" y="21" width="34" height="5.5" rx="1.5" fill="#1b1f2b"/>
<circle cx="638" cy="27" r="2.2" fill="#1b1f2b"/>
<text x="619.5" y="45.5" font-size="10.5" fill="#e8eef8" textLength="13.0" lengthAdjust="spacingAndGlyphs" text-anchor="start" font-family="'Liberation Sans', Arial, sans-serif">2.5°</text>
<circle cx="612" cy="40" r="3.2" fill="none" stroke="#b0c0dd" stroke-width="0.9"/>
<path d="M 608 43 h 8" stroke="#b0c0dd" stroke-width="0.9"/>
<rect x="606.00" y="50.00" width="6.00" height="3.00" fill="#2a4a85"/>
<rect x="614.00" y="50.00" width="6.00" height="3.00" fill="#2a4a85"/>
<rect x="599.00" y="63.00" width="8.00" height="17.00" fill="#181a20"/>
<rect x="609.00" y="63.00" width="8.00" height="17.00" fill="#181a20"/>
<rect x="600.00" y="62.00" width="36.00" height="7.00" fill="#15171c"/>
<rect x="600.00" y="73.00" width="36.00" height="7.00" fill="#15171c"/>
<rect x="600.00" y="87.00" width="36.00" height="7.00" fill="#15171c"/>
<rect x="600.00" y="98.00" width="36.00" height="7.00" fill="#15171c"/>
<rect x="600.00" y="109.00" width="36.00" height="7.00" fill="#15171c"/>
<rect x="650" y="21.5" width="50" height="110" rx="9" fill="#262626"/>
<rect x="652" y="23.5" width="46" height="108" rx="7.5" fill="url(#scr2)"/>
<rect x="669" y="26" width="11" height="3.5" rx="1.7" fill="#000"/>
<rect x="654" y="37" width="31" height="7" rx="1.5" fill="#d9d9d4"/>
<circle cx="689" cy="39" r="3.2" fill="#e8e8e8"/>
<circle cx="672.0" cy="60.0" r="5" fill="#7d7a6c"/>
<circle cx="686.0" cy="80.0" r="6" fill="#9a9480"/>
<circle cx="668.0" cy="96.0" r="5" fill="#55574f"/>
<circle cx="690.0" cy="100.0" r="5" fill="#a39c86"/>
<circle cx="662.0" cy="72.0" r="4" fill="#3a3d38"/>
<circle cx="682.0" cy="113.0" r="5" fill="#8a8575"/>
<circle cx="694.0" cy="62.0" r="3" fill="#2e302c"/>
<circle cx="660.0" cy="110.0" r="4" fill="#333530"/>
<circle cx="676.0" cy="88.0" r="3" fill="#b0a88e"/>
<polyline points="655.0,62.0 662.0,70.0 667.0,84.0 672.0,100.0 668.0,119.0" fill="none" stroke="#4a6fa0" stroke-width="0.6" stroke-linejoin="round"/>
<polyline points="675.0,50.0 690.0,58.0 696.0,75.0" fill="none" stroke="#4a6fa0" stroke-width="0.6" stroke-linejoin="round"/>
<rect x="622.7" y="46.4" width="51" height="90" rx="9" fill="#1e1e1e"/>
<rect x="625" y="48.6" width="46.5" height="88" rx="7.5" fill="#f4f4f4"/>
<rect x="640" y="51" width="13" height="3.5" rx="1.7" fill="#000"/>
<rect x="627" y="59" width="33" height="4.5" rx="1" fill="#2b2b2b"/>
<circle cx="663.5" cy="61" r="2.5" fill="#2b2b2b"/>
<rect x="627.00" y="71.00" width="44.00" height="49.00" fill="#ffffff"/>
<rect x="628.00" y="72.50" width="12.00" height="1.00" fill="#6a8ad8"/>
<rect x="628.00" y="74.30" width="8.00" height="1.00" fill="#6a8ad8"/>
<rect x="658.00" y="72.00" width="10.00" height="1.00" fill="#6a8ad8"/>
<rect x="662.00" y="74.00" width="6.00" height="1.00" fill="#6a8ad8"/>
<rect x="628.00" y="76.50" width="40.00" height="1.20" fill="#b8b8b8"/>
<rect x="628.00" y="77.00" width="0.60" height="42.00" fill="#dcdcdc"/>
<rect x="632.00" y="77.00" width="0.60" height="42.00" fill="#dcdcdc"/>
<rect x="636.00" y="77.00" width="0.60" height="42.00" fill="#dcdcdc"/>
<rect x="640.00" y="77.00" width="0.60" height="42.00" fill="#dcdcdc"/>
<rect x="644.00" y="77.00" width="0.60" height="42.00" fill="#dcdcdc"/>
<rect x="648.00" y="77.00" width="0.60" height="42.00" fill="#dcdcdc"/>
<rect x="652.00" y="77.00" width="0.60" height="42.00" fill="#dcdcdc"/>
<rect x="656.00" y="77.00" width="0.60" height="42.00" fill="#dcdcdc"/>
<rect x="660.00" y="77.00" width="0.60" height="42.00" fill="#dcdcdc"/>
<rect x="664.00" y="77.00" width="0.60" height="42.00" fill="#dcdcdc"/>
<rect x="668.00" y="77.00" width="0.60" height="42.00" fill="#dcdcdc"/>
<polygon points="628.0,83.0 636.0,82.5 644.0,81.0 652.0,79.5 660.0,79.0 668.0,78.5 668.0,89.0 628.0,89.0" fill="#7ecbe8"/>
<rect x="628.00" y="86.00" width="40.00" height="3.00" fill="#4aa8d0"/>
<polyline points="628.0,81.5 636.0,81.0 644.0,79.5 652.0,78.5 660.0,78.0 668.0,77.5" fill="none" stroke="#e03030" stroke-width="0.9" stroke-linejoin="round"/>
<polyline points="628.0,83.5 636.0,83.0 644.0,82.0 652.0,80.5 660.0,80.0 668.0,80.0" fill="none" stroke="#2040d0" stroke-width="0.9" stroke-linejoin="round"/>
<polyline points="628.0,92.0 632.0,97.0 636.0,95.0 640.0,93.0 645.0,96.0 650.0,98.0 655.0,94.0 660.0,93.0 668.0,95.0" fill="none" stroke="#e06030" stroke-width="0.7" stroke-linejoin="round"/>
<rect x="628.00" y="100.50" width="40.00" height="0.60" fill="#c0c0c0"/>
<rect x="628.00" y="106.00" width="40.00" height="0.60" fill="#c0c0c0"/>
<polyline points="650.0,112.0 652.0,104.0 654.0,110.0 656.0,112.0" fill="none" stroke="#30b030" stroke-width="0.6" stroke-linejoin="round"/>
<rect x="628.00" y="113.00" width="40.00" height="7.00" fill="#c8f000"/>
<rect x="637.00" y="113.00" width="8.00" height="7.00" fill="#e6f500"/>
<rect x="657.00" y="113.00" width="6.00" height="7.00" fill="#f0f000"/>
<path d="M 752.5 99.5 C 746 90, 750 74, 772 67 C 775 66.5, 776 67, 773 68 C 756 75, 751 88, 754.5 98.5 Z" fill="#fff"/>
<text x="764.7" y="90.4" font-size="22" fill="#fff" textLength="90.7" lengthAdjust="spacingAndGlyphs" font-weight="bold" text-anchor="start" font-family="'Liberation Sans', Arial, sans-serif">icmmeteo</text>
<rect x="860.3" y="73.1" width="25.6" height="24.8" rx="2.5" fill="#fff"/>
<text x="863.8" y="91.0" font-size="15.5" fill="#1a55a8" textLength="13.2" lengthAdjust="spacingAndGlyphs" font-weight="bold" text-anchor="start" font-family="'Liberation Sans', Arial, sans-serif">M</text>
<text x="877.8" y="86.0" font-size="12" fill="#1a55a8" textLength="5.5" lengthAdjust="spacingAndGlyphs" text-anchor="start" font-family="'Liberation Sans', Arial, sans-serif">°</text>
</g>
</svg>
</body></html>
